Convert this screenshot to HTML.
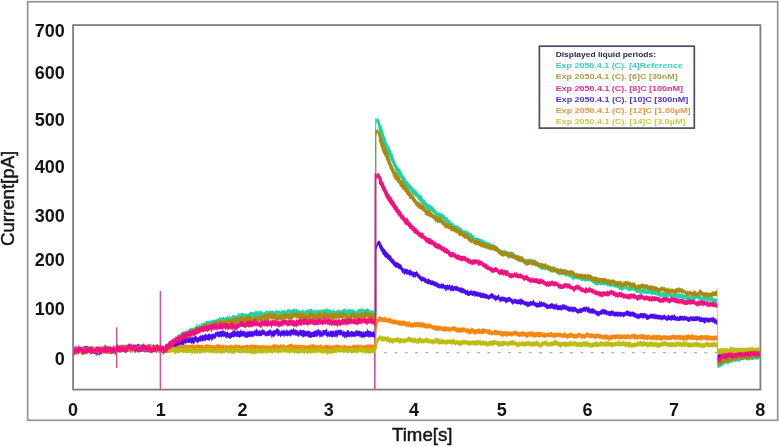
<!DOCTYPE html>
<html><head><meta charset="utf-8"><style>
html,body{margin:0;padding:0;background:#fff;}
body{width:779px;height:447px;overflow:hidden;}
svg{display:block;filter:blur(0.3px);}
.tk{font-family:"Liberation Sans",sans-serif;font-weight:bold;font-size:18px;fill:#141414;}
.ax{font-family:"Liberation Sans",sans-serif;font-size:19px;fill:#141414;stroke:#141414;stroke-width:0.45px;}
.lg{font-family:"Liberation Sans",sans-serif;font-weight:bold;font-size:7.3px;}
</style></head><body>
<svg width="779" height="447" viewBox="0 0 779 447">
<rect x="27.65" y="1.75" width="750.05" height="418.55" fill="none" stroke="#939393" stroke-width="1.7"/>
<rect x="73.1" y="25.1" width="687.3" height="364.5" fill="#fff" stroke="#7e7e7c" stroke-width="1.8"/>
<line x1="384.1" y1="352.6" x2="718" y2="352.6" stroke="#b0b0b0" stroke-width="1.2" stroke-dasharray="3 7.33"/>
<path d="M116.7,368 L116.7,327.3" stroke="#d0509a" stroke-width="1.5" fill="none"/><path d="M160.4,389 L160.4,291" stroke="#d0559c" stroke-width="1.5" fill="none"/><path d="M374.8,389 L375.2,173" stroke="#c8368e" stroke-width="1.4" fill="none"/><path d="M717.3,288.5 L717.3,368" stroke="#e6c4d2" stroke-width="1" fill="none"/>
<polygon fill="#22d2a6" points="73.6,346.3 74.1,346.6 74.6,347.3 75.1,347.2 75.6,346.8 76.1,345.7 76.6,347.1 77.1,347.5 77.6,347.9 78.1,346.3 78.6,348.3 79.1,347.2 79.6,347.6 80.1,347.6 80.6,346.4 81.1,346.4 81.6,346.6 82.1,347.5 82.6,347.9 83.1,346.7 83.6,347.0 84.1,347.0 84.6,346.7 85.1,346.4 85.6,346.4 86.1,347.1 86.6,347.0 87.1,346.5 87.6,346.6 88.1,346.5 88.6,347.7 89.1,346.7 89.6,347.8 90.1,347.9 90.6,347.6 91.1,347.4 91.6,346.3 92.1,348.0 92.6,345.2 93.1,346.9 93.6,346.4 94.1,346.8 94.6,347.0 95.1,345.3 95.6,347.3 96.1,347.6 96.6,346.6 97.1,346.5 97.6,347.3 98.1,346.7 98.6,347.6 99.1,347.1 99.6,344.8 100.1,346.9 100.6,346.9 101.1,346.5 101.6,346.4 102.1,346.1 102.6,346.2 103.1,346.6 103.6,347.1 104.1,347.6 104.6,348.0 105.1,345.2 105.6,347.0 106.1,346.8 106.6,346.1 107.1,347.7 107.6,347.0 108.1,347.1 108.6,347.5 109.1,346.9 109.6,346.3 110.1,346.0 110.6,347.6 111.1,346.7 111.6,348.4 112.1,347.0 112.6,346.8 113.1,346.9 113.6,347.8 114.1,348.2 114.6,346.9 115.1,346.8 115.6,347.7 116.1,344.6 116.6,344.2 117.1,346.7 117.6,346.1 118.1,345.1 118.6,347.2 119.1,344.8 119.6,346.3 120.1,347.5 120.6,346.6 121.1,347.5 121.6,346.8 122.1,346.2 122.6,344.6 123.1,347.4 123.6,346.8 124.1,347.7 124.6,346.8 125.1,346.2 125.6,344.8 126.1,347.1 126.6,347.0 127.1,345.8 127.6,346.1 128.1,344.6 128.6,345.1 129.1,344.9 129.6,346.2 130.1,344.0 130.6,343.1 131.1,345.7 131.6,345.2 132.1,345.4 132.6,345.4 133.1,343.8 133.6,343.8 134.1,344.9 134.6,345.2 135.1,343.2 135.6,345.0 136.1,344.5 136.6,345.4 137.1,344.0 137.6,346.0 138.1,345.2 138.6,344.0 139.1,345.0 139.6,346.0 140.1,345.6 140.6,345.9 141.1,347.3 141.6,345.8 142.1,346.3 142.6,344.8 143.1,344.9 143.6,342.4 144.1,345.1 144.6,345.4 145.1,346.3 145.6,344.9 146.1,344.3 146.6,345.2 147.1,345.3 147.6,343.0 148.1,344.2 148.6,344.3 149.1,345.0 149.6,344.1 150.1,344.5 150.6,345.5 151.1,346.8 151.6,346.3 152.1,345.5 152.6,346.7 153.1,346.0 153.6,346.2 154.1,344.6 154.6,345.4 155.1,345.0 155.6,345.7 156.1,346.4 156.6,346.0 157.1,344.3 157.6,344.5 158.1,345.8 158.6,345.9 159.1,346.1 159.6,346.9 160.1,345.2 160.6,346.6 161.1,348.0 161.6,347.4 162.1,346.8 162.6,345.4 163.1,345.6 163.6,346.3 164.1,346.7 164.6,346.1 165.1,346.0 165.6,343.9 166.1,346.2 166.6,342.7 167.1,345.0 167.6,343.7 168.1,343.6 168.6,342.7 169.1,343.4 169.6,342.0 170.1,342.8 170.6,342.1 171.1,340.4 171.6,340.9 172.1,338.7 172.6,340.6 173.1,339.7 173.6,338.8 174.1,339.0 174.6,338.9 175.1,336.5 175.6,335.8 176.1,337.1 176.6,337.3 177.1,335.9 177.6,335.2 178.1,334.8 178.6,333.2 179.1,334.9 179.6,335.4 180.1,332.5 180.6,333.8 181.1,333.9 181.6,332.0 182.1,331.6 182.6,332.7 183.1,331.8 183.6,330.7 184.1,332.6 184.6,330.8 185.1,330.9 185.6,331.4 186.1,331.1 186.6,331.5 187.1,329.7 187.6,330.4 188.1,329.6 188.6,329.8 189.1,328.8 189.6,328.8 190.1,327.8 190.6,327.5 191.1,327.5 191.6,328.3 192.1,328.6 192.6,327.2 193.1,328.1 193.6,328.1 194.1,327.4 194.6,327.0 195.1,326.0 195.6,326.8 196.1,326.4 196.6,321.7 197.1,326.0 197.6,325.5 198.1,324.7 198.6,324.4 199.1,324.8 199.6,324.6 200.1,324.7 200.6,325.0 201.1,323.3 201.6,322.1 202.1,323.8 202.6,323.9 203.1,322.9 203.6,323.0 204.1,320.5 204.6,322.3 205.1,323.1 205.6,322.2 206.1,320.5 206.6,320.9 207.1,321.0 207.6,321.3 208.1,321.3 208.6,321.2 209.1,320.9 209.6,320.6 210.1,320.7 210.6,320.6 211.1,320.3 211.6,320.4 212.1,320.1 212.6,320.5 213.1,319.9 213.6,319.5 214.1,319.4 214.6,318.8 215.1,320.6 215.6,319.9 216.1,320.1 216.6,318.9 217.1,317.8 217.6,318.9 218.1,318.2 218.6,318.8 219.1,317.5 219.6,316.2 220.1,316.8 220.6,318.9 221.1,317.1 221.6,317.5 222.1,317.2 222.6,317.6 223.1,317.5 223.6,315.6 224.1,318.2 224.6,317.8 225.1,317.4 225.6,317.1 226.1,317.3 226.6,317.1 227.1,315.2 227.6,315.5 228.1,318.0 228.6,317.1 229.1,316.7 229.6,314.8 230.1,317.1 230.6,315.9 231.1,316.8 231.6,317.2 232.1,316.2 232.6,314.7 233.1,315.3 233.6,314.6 234.1,315.8 234.6,314.9 235.1,315.9 235.6,314.7 236.1,315.7 236.6,315.7 237.1,314.9 237.6,314.8 238.1,314.0 238.6,312.9 239.1,312.9 239.6,314.3 240.1,314.5 240.6,312.7 241.1,313.4 241.6,313.1 242.1,313.1 242.6,312.6 243.1,313.6 243.6,313.3 244.1,312.6 244.6,314.5 245.1,313.3 245.6,313.3 246.1,313.6 246.6,313.9 247.1,313.5 247.6,314.3 248.1,314.4 248.6,312.8 249.1,313.3 249.6,312.5 250.1,311.2 250.6,312.3 251.1,311.0 251.6,313.0 252.1,311.4 252.6,311.7 253.1,312.4 253.6,311.2 254.1,312.4 254.6,311.9 255.1,310.0 255.6,311.7 256.1,310.1 256.6,311.3 257.1,311.7 257.6,311.3 258.1,310.8 258.6,311.3 259.1,311.0 259.6,312.8 260.1,311.5 260.6,309.7 261.1,310.3 261.6,311.5 262.1,311.5 262.6,312.0 263.1,312.9 263.6,311.8 264.1,311.7 264.6,312.2 265.1,311.4 265.6,311.4 266.1,310.2 266.6,310.3 267.1,310.8 267.6,311.1 268.1,311.3 268.6,311.1 269.1,310.3 269.6,311.3 270.1,310.6 270.6,310.7 271.1,310.8 271.6,311.1 272.1,310.5 272.6,311.2 273.1,310.7 273.6,310.6 274.1,311.5 274.6,312.0 275.1,311.0 275.6,310.3 276.1,310.8 276.6,309.8 277.1,309.8 277.6,311.0 278.1,309.8 278.6,311.0 279.1,311.2 279.6,309.8 280.1,311.0 280.6,311.9 281.1,310.8 281.6,308.7 282.1,310.2 282.6,311.2 283.1,310.5 283.6,309.9 284.1,310.3 284.6,310.1 285.1,310.2 285.6,310.7 286.1,311.1 286.6,310.6 287.1,310.1 287.6,309.0 288.1,309.1 288.6,309.9 289.1,307.4 289.6,309.5 290.1,310.5 290.6,308.7 291.1,309.7 291.6,309.7 292.1,309.7 292.6,308.7 293.1,308.5 293.6,308.9 294.1,308.0 294.6,308.6 295.1,310.3 295.6,309.5 296.1,309.2 296.6,309.0 297.1,308.4 297.6,309.5 298.1,309.8 298.6,310.4 299.1,310.3 299.6,310.1 300.1,310.6 300.6,311.1 301.1,310.4 301.6,311.0 302.1,310.3 302.6,308.3 303.1,310.6 303.6,310.3 304.1,311.1 304.6,311.4 305.1,310.5 305.6,311.3 306.1,309.9 306.6,309.6 307.1,309.9 307.6,309.3 308.1,308.1 308.6,310.2 309.1,309.2 309.6,309.2 310.1,309.1 310.6,308.9 311.1,308.7 311.6,308.9 312.1,308.8 312.6,310.2 313.1,310.6 313.6,310.6 314.1,309.0 314.6,310.7 315.1,309.6 315.6,309.9 316.1,311.4 316.6,309.3 317.1,310.3 317.6,310.0 318.1,310.0 318.6,309.6 319.1,309.2 319.6,310.6 320.1,310.9 320.6,308.8 321.1,310.0 321.6,309.2 322.1,310.2 322.6,309.8 323.1,310.5 323.6,308.8 324.1,309.3 324.6,308.8 325.1,309.2 325.6,309.7 326.1,307.7 326.6,309.8 327.1,307.7 327.6,308.7 328.1,309.2 328.6,308.7 329.1,309.6 329.6,309.4 330.1,308.6 330.6,309.7 331.1,310.7 331.6,309.8 332.1,310.3 332.6,310.7 333.1,310.2 333.6,308.5 334.1,309.9 334.6,310.4 335.1,311.5 335.6,310.8 336.1,310.6 336.6,310.2 337.1,310.3 337.6,309.8 338.1,309.5 338.6,310.6 339.1,310.3 339.6,308.6 340.1,310.7 340.6,310.9 341.1,309.4 341.6,310.6 342.1,310.5 342.6,309.2 343.1,308.9 343.6,309.3 344.1,309.0 344.6,308.7 345.1,307.6 345.6,309.1 346.1,310.4 346.6,310.2 347.1,309.6 347.6,308.5 348.1,309.0 348.6,309.4 349.1,310.2 349.6,308.7 350.1,308.6 350.6,309.0 351.1,308.3 351.6,309.9 352.1,309.5 352.6,308.9 353.1,308.9 353.6,309.8 354.1,310.6 354.6,309.7 355.1,311.0 355.6,310.9 356.1,311.3 356.6,310.8 357.1,311.1 357.6,309.1 358.1,309.4 358.6,309.0 359.1,309.6 359.6,307.7 360.1,309.8 360.6,308.8 361.1,306.6 361.6,308.7 362.1,308.8 362.6,308.4 363.1,310.0 363.6,307.9 364.1,309.7 364.6,308.7 365.1,309.8 365.6,308.7 366.1,309.4 366.6,308.3 367.1,308.7 367.6,307.7 368.1,309.6 368.6,308.6 369.1,309.2 369.6,310.7 370.1,309.4 370.6,310.5 371.1,311.0 371.6,309.9 372.1,310.0 372.6,310.4 373.1,309.3 373.6,311.2 374.1,310.6 374.6,311.3 375.1,310.4 375.6,310.4 376.1,119.5 376.6,119.0 377.1,116.3 377.6,118.6 378.1,119.6 378.6,118.4 379.1,120.0 379.6,121.1 380.1,123.4 380.6,124.1 381.1,125.1 381.6,126.5 382.1,127.2 382.6,129.3 383.1,130.9 383.6,132.2 384.1,134.7 384.6,136.1 385.1,138.0 385.6,138.1 386.1,139.2 386.6,142.0 387.1,142.6 387.6,143.7 388.1,144.9 388.6,145.9 389.1,146.6 389.6,147.0 390.1,148.7 390.6,149.6 391.1,151.0 391.6,152.4 392.1,153.8 392.6,153.4 393.1,156.5 393.6,157.6 394.1,158.8 394.6,159.6 395.1,161.9 395.6,162.2 396.1,163.6 396.6,164.9 397.1,166.1 397.6,166.3 398.1,167.5 398.6,167.4 399.1,168.4 399.6,168.4 400.1,169.1 400.6,170.2 401.1,171.6 401.6,172.7 402.1,172.8 402.6,174.3 403.1,174.9 403.6,176.0 404.1,176.5 404.6,177.5 405.1,177.3 405.6,178.5 406.1,179.9 406.6,180.7 407.1,181.0 407.6,181.8 408.1,181.3 408.6,182.8 409.1,183.0 409.6,184.0 410.1,184.4 410.6,185.0 411.1,185.8 411.6,185.6 412.1,187.1 412.6,187.2 413.1,188.3 413.6,188.8 414.1,187.1 414.6,189.3 415.1,190.5 415.6,189.4 416.1,190.1 416.6,191.0 417.1,191.8 417.6,192.3 418.1,193.3 418.6,193.3 419.1,194.3 419.6,195.0 420.1,195.0 420.6,195.1 421.1,194.6 421.6,195.8 422.1,196.6 422.6,197.9 423.1,198.5 423.6,198.9 424.1,200.0 424.6,199.2 425.1,199.7 425.6,201.9 426.1,201.7 426.6,202.8 427.1,203.2 427.6,203.8 428.1,203.9 428.6,203.9 429.1,204.3 429.6,204.4 430.1,205.4 430.6,204.2 431.1,205.5 431.6,205.5 432.1,206.8 432.6,206.1 433.1,207.1 433.6,207.5 434.1,208.2 434.6,208.6 435.1,210.4 435.6,209.6 436.1,209.8 436.6,211.6 437.1,211.2 437.6,212.4 438.1,213.0 438.6,211.8 439.1,212.6 439.6,212.4 440.1,213.3 440.6,213.1 441.1,213.5 441.6,213.8 442.1,213.5 442.6,213.4 443.1,214.2 443.6,215.0 444.1,214.8 444.6,215.2 445.1,216.9 445.6,217.2 446.1,217.0 446.6,217.4 447.1,217.4 447.6,218.0 448.1,219.3 448.6,219.2 449.1,219.6 449.6,220.3 450.1,219.9 450.6,221.0 451.1,222.8 451.6,221.9 452.1,222.9 452.6,222.8 453.1,222.3 453.6,223.3 454.1,224.9 454.6,224.7 455.1,224.8 455.6,224.9 456.1,225.4 456.6,224.8 457.1,225.5 457.6,226.2 458.1,226.3 458.6,225.8 459.1,226.8 459.6,227.5 460.1,227.1 460.6,228.3 461.1,227.8 461.6,227.8 462.1,228.9 462.6,229.8 463.1,230.4 463.6,230.1 464.1,230.3 464.6,230.2 465.1,229.9 465.6,231.2 466.1,230.9 466.6,230.2 467.1,230.3 467.6,231.0 468.1,232.1 468.6,232.2 469.1,232.7 469.6,232.7 470.1,233.3 470.6,233.5 471.1,232.8 471.6,233.1 472.1,234.7 472.6,235.1 473.1,234.6 473.6,235.6 474.1,236.5 474.6,237.3 475.1,237.5 475.6,237.1 476.1,237.4 476.6,237.9 477.1,237.8 477.6,238.2 478.1,237.7 478.6,237.5 479.1,238.8 479.6,239.1 480.1,238.7 480.6,239.3 481.1,239.1 481.6,238.7 482.1,239.9 482.6,239.5 483.1,239.7 483.6,240.5 484.1,240.6 484.6,240.8 485.1,241.2 485.6,241.3 486.1,241.5 486.6,242.3 487.1,241.9 487.6,241.7 488.1,242.8 488.6,242.8 489.1,241.4 489.6,242.5 490.1,243.4 490.6,243.0 491.1,243.6 491.6,244.1 492.1,244.4 492.6,244.7 493.1,245.4 493.6,244.0 494.1,244.5 494.6,246.0 495.1,246.3 495.6,245.9 496.1,245.9 496.6,246.5 497.1,246.0 497.6,246.4 498.1,247.2 498.6,248.5 499.1,248.7 499.6,248.8 500.1,248.8 500.6,249.8 501.1,249.6 501.6,250.8 502.1,250.2 502.6,250.1 503.1,250.8 503.6,250.5 504.1,249.0 504.6,250.6 505.1,250.9 505.6,250.9 506.1,250.1 506.6,251.4 507.1,251.1 507.6,251.9 508.1,250.8 508.6,252.2 509.1,251.9 509.6,251.7 510.1,252.1 510.6,252.3 511.1,252.0 511.6,252.5 512.1,252.3 512.6,251.9 513.1,252.0 513.6,252.1 514.1,253.4 514.6,253.8 515.1,254.5 515.6,254.1 516.1,255.4 516.6,254.9 517.1,255.3 517.6,255.3 518.1,255.6 518.6,255.7 519.1,255.7 519.6,255.4 520.1,256.8 520.6,256.3 521.1,257.1 521.6,256.0 522.1,256.3 522.6,257.2 523.1,258.4 523.6,257.9 524.1,258.8 524.6,258.4 525.1,259.8 525.6,258.9 526.1,259.1 526.6,259.8 527.1,258.6 527.6,259.4 528.1,259.3 528.6,259.0 529.1,259.4 529.6,258.5 530.1,258.3 530.6,258.5 531.1,258.9 531.6,258.5 532.1,259.8 532.6,259.8 533.1,260.1 533.6,258.7 534.1,259.2 534.6,259.8 535.1,260.0 535.6,260.1 536.1,260.6 536.6,261.4 537.1,262.1 537.6,261.9 538.1,262.8 538.6,262.5 539.1,262.8 539.6,262.9 540.1,263.5 540.6,264.7 541.1,264.4 541.6,264.4 542.1,264.7 542.6,265.2 543.1,263.9 543.6,265.7 544.1,265.1 544.6,264.7 545.1,265.3 545.6,265.5 546.1,264.5 546.6,265.8 547.1,265.2 547.6,265.1 548.1,265.2 548.6,265.9 549.1,265.8 549.6,266.9 550.1,266.0 550.6,266.4 551.1,266.3 551.6,267.5 552.1,267.6 552.6,267.6 553.1,267.2 553.6,267.0 554.1,265.8 554.6,266.9 555.1,267.4 555.6,266.9 556.1,268.3 556.6,268.4 557.1,268.8 557.6,268.5 558.1,269.8 558.6,270.2 559.1,269.9 559.6,269.7 560.1,270.2 560.6,268.9 561.1,269.4 561.6,268.9 562.1,269.1 562.6,269.6 563.1,268.8 563.6,268.7 564.1,268.7 564.6,269.2 565.1,269.6 565.6,271.4 566.1,270.9 566.6,271.4 567.1,270.3 567.6,271.2 568.1,271.0 568.6,271.9 569.1,271.9 569.6,272.0 570.1,272.1 570.6,273.1 571.1,273.7 571.6,272.7 572.1,274.0 572.6,274.9 573.1,274.7 573.6,274.8 574.1,274.4 574.6,274.5 575.1,274.6 575.6,273.6 576.1,273.9 576.6,274.6 577.1,272.3 577.6,273.5 578.1,273.7 578.6,274.9 579.1,274.9 579.6,275.1 580.1,275.1 580.6,275.6 581.1,275.7 581.6,276.0 582.1,275.5 582.6,275.5 583.1,275.6 583.6,275.7 584.1,277.1 584.6,276.2 585.1,277.0 585.6,276.2 586.1,276.5 586.6,276.6 587.1,276.4 587.6,274.0 588.1,275.8 588.6,276.0 589.1,275.6 589.6,276.1 590.1,276.7 590.6,277.0 591.1,276.6 591.6,276.7 592.1,276.7 592.6,278.5 593.1,278.2 593.6,277.6 594.1,279.7 594.6,279.1 595.1,279.7 595.6,280.5 596.1,280.2 596.6,280.0 597.1,280.7 597.6,280.4 598.1,279.9 598.6,279.4 599.1,279.6 599.6,279.5 600.1,279.9 600.6,280.0 601.1,280.1 601.6,280.7 602.1,280.2 602.6,280.8 603.1,280.1 603.6,280.5 604.1,281.0 604.6,280.6 605.1,279.3 605.6,280.6 606.1,280.4 606.6,280.2 607.1,281.1 607.6,281.0 608.1,281.4 608.6,281.0 609.1,281.9 609.6,280.7 610.1,281.2 610.6,281.9 611.1,281.4 611.6,281.4 612.1,281.6 612.6,282.1 613.1,280.7 613.6,282.1 614.1,281.7 614.6,282.9 615.1,281.0 615.6,282.6 616.1,282.6 616.6,282.9 617.1,283.0 617.6,282.9 618.1,283.8 618.6,284.4 619.1,284.1 619.6,285.7 620.1,284.8 620.6,284.9 621.1,285.1 621.6,285.8 622.1,285.9 622.6,285.6 623.1,285.2 623.6,284.9 624.1,283.8 624.6,284.6 625.1,282.5 625.6,284.1 626.1,285.3 626.6,285.1 627.1,284.4 627.6,285.4 628.1,286.3 628.6,286.8 629.1,286.5 629.6,286.5 630.1,286.7 630.6,286.6 631.1,286.4 631.6,286.2 632.1,286.0 632.6,285.3 633.1,286.2 633.6,286.7 634.1,285.7 634.6,286.2 635.1,286.5 635.6,287.3 636.1,287.4 636.6,287.1 637.1,287.0 637.6,288.2 638.1,287.9 638.6,287.1 639.1,288.7 639.6,288.6 640.1,289.7 640.6,289.2 641.1,289.4 641.6,288.9 642.1,288.6 642.6,288.5 643.1,288.4 643.6,288.9 644.1,288.4 644.6,289.5 645.1,289.3 645.6,289.8 646.1,289.6 646.6,289.3 647.1,289.0 647.6,289.4 648.1,289.0 648.6,288.2 649.1,288.8 649.6,289.4 650.1,288.7 650.6,288.8 651.1,289.5 651.6,289.9 652.1,290.3 652.6,289.7 653.1,289.1 653.6,290.1 654.1,289.9 654.6,289.7 655.1,290.6 655.6,290.2 656.1,290.4 656.6,291.4 657.1,290.2 657.6,290.6 658.1,290.6 658.6,291.8 659.1,291.9 659.6,292.0 660.1,291.3 660.6,292.4 661.1,291.8 661.6,291.9 662.1,292.7 662.6,291.4 663.1,292.2 663.6,291.9 664.1,292.3 664.6,292.3 665.1,291.6 665.6,292.8 666.1,292.5 666.6,292.1 667.1,292.1 667.6,292.0 668.1,291.5 668.6,291.7 669.1,292.4 669.6,292.6 670.1,293.1 670.6,293.7 671.1,292.6 671.6,293.3 672.1,294.0 672.6,292.4 673.1,292.5 673.6,293.9 674.1,292.7 674.6,293.0 675.1,293.0 675.6,293.0 676.1,293.4 676.6,292.7 677.1,293.6 677.6,293.3 678.1,293.7 678.6,293.5 679.1,293.3 679.6,293.6 680.1,293.1 680.6,293.6 681.1,294.4 681.6,294.2 682.1,294.1 682.6,293.5 683.1,294.3 683.6,294.3 684.1,293.6 684.6,294.9 685.1,294.9 685.6,295.1 686.1,295.2 686.6,294.5 687.1,295.5 687.6,295.5 688.1,296.0 688.6,296.2 689.1,296.3 689.6,296.0 690.1,296.2 690.6,296.2 691.1,296.6 691.6,295.5 692.1,296.0 692.6,295.4 693.1,295.7 693.6,296.1 694.1,294.8 694.6,294.6 695.1,294.9 695.6,294.3 696.1,294.0 696.6,293.5 697.1,293.9 697.6,293.7 698.1,293.6 698.6,294.5 699.1,294.1 699.6,295.4 700.1,295.2 700.6,295.1 701.1,296.7 701.6,296.3 702.1,296.7 702.6,296.5 703.1,296.3 703.6,296.9 704.1,296.3 704.6,296.1 705.1,295.6 705.6,295.7 706.1,295.0 706.6,296.7 707.1,296.3 707.6,296.8 708.1,297.0 708.6,297.4 709.1,296.2 709.6,296.3 710.1,295.7 710.6,296.5 711.1,296.9 711.6,295.9 712.1,297.6 712.6,296.3 713.1,297.3 713.6,298.3 714.1,297.9 714.6,298.8 715.1,298.4 715.6,298.5 716.1,298.2 716.6,298.9 717.1,297.9 717.6,363.1 718.1,362.3 718.6,362.5 719.1,362.5 719.6,361.5 720.1,361.9 720.6,362.1 721.1,361.4 721.6,362.0 722.1,361.0 722.6,360.3 723.1,360.3 723.6,359.6 724.1,360.1 724.6,359.5 725.1,358.9 725.6,358.7 726.1,358.5 726.6,358.5 727.1,359.2 727.6,358.5 728.1,358.9 728.6,358.2 729.1,357.4 729.6,359.3 730.1,358.4 730.6,358.0 731.1,357.2 731.6,357.6 732.1,356.7 732.6,357.7 733.1,357.3 733.6,356.5 734.1,357.1 734.6,357.2 735.1,356.9 735.6,357.3 736.1,357.1 736.6,357.0 737.1,357.3 737.6,356.4 738.1,356.1 738.6,356.2 739.1,355.7 739.6,356.3 740.1,356.3 740.6,355.9 741.1,356.1 741.6,354.8 742.1,355.7 742.6,355.2 743.1,354.6 743.6,354.1 744.1,355.0 744.6,354.6 745.1,354.9 745.6,355.1 746.1,354.2 746.6,355.1 747.1,355.3 747.6,355.3 748.1,356.2 748.6,356.0 749.1,355.5 749.6,355.8 750.1,355.5 750.6,354.0 751.1,355.5 751.6,354.9 752.1,354.5 752.6,354.8 753.1,354.8 753.6,355.2 754.1,355.1 754.6,355.0 755.1,354.4 755.6,355.0 756.1,354.7 756.6,355.7 757.1,355.6 757.6,355.5 758.1,354.8 758.6,353.9 759.1,354.4 759.6,354.4 759.6,359.8 759.1,359.1 758.6,359.2 758.1,358.9 757.6,359.6 757.1,359.6 756.6,360.2 756.1,360.0 755.6,359.2 755.1,359.5 754.6,359.3 754.1,359.3 753.6,360.4 753.1,359.8 752.6,360.5 752.1,359.6 751.6,360.8 751.1,359.5 750.6,359.5 750.1,359.7 749.6,360.4 749.1,360.6 748.6,360.4 748.1,360.3 747.6,359.8 747.1,360.0 746.6,360.9 746.1,359.6 745.6,359.7 745.1,360.1 744.6,359.3 744.1,359.2 743.6,360.7 743.1,359.4 742.6,359.4 742.1,360.1 741.6,360.0 741.1,361.1 740.6,360.7 740.1,360.2 739.6,362.5 739.1,361.7 738.6,361.7 738.1,361.1 737.6,361.4 737.1,361.9 736.6,361.6 736.1,361.2 735.6,362.7 735.1,361.4 734.6,361.7 734.1,361.3 733.6,361.7 733.1,361.9 732.6,363.2 732.1,361.9 731.6,361.9 731.1,361.8 730.6,362.3 730.1,363.1 729.6,363.5 729.1,363.2 728.6,364.3 728.1,364.4 727.6,364.7 727.1,363.8 726.6,364.1 726.1,362.6 725.6,364.0 725.1,364.3 724.6,364.2 724.1,364.5 723.6,364.6 723.1,365.7 722.6,365.4 722.1,366.4 721.6,366.6 721.1,366.6 720.6,367.3 720.1,366.7 719.6,367.7 719.1,367.6 718.6,367.6 718.1,368.3 717.6,367.2 717.1,304.1 716.6,304.1 716.1,302.6 715.6,303.8 715.1,303.6 714.6,303.1 714.1,302.8 713.6,303.9 713.1,302.1 712.6,302.5 712.1,302.0 711.6,301.6 711.1,301.6 710.6,301.8 710.1,301.0 709.6,301.5 709.1,301.2 708.6,302.3 708.1,301.5 707.6,302.3 707.1,302.2 706.6,300.6 706.1,301.1 705.6,300.3 705.1,300.8 704.6,300.9 704.1,301.9 703.6,301.5 703.1,300.9 702.6,300.7 702.1,301.7 701.6,300.7 701.1,301.9 700.6,301.4 700.1,299.7 699.6,300.3 699.1,300.0 698.6,299.8 698.1,299.0 697.6,298.3 697.1,298.2 696.6,298.9 696.1,298.7 695.6,298.9 695.1,300.1 694.6,300.2 694.1,301.0 693.6,300.6 693.1,299.6 692.6,300.7 692.1,300.3 691.6,300.2 691.1,300.6 690.6,301.1 690.1,300.2 689.6,300.6 689.1,301.8 688.6,300.6 688.1,300.6 687.6,300.0 687.1,299.6 686.6,300.2 686.1,301.8 685.6,299.3 685.1,298.9 684.6,299.7 684.1,298.8 683.6,301.0 683.1,298.5 682.6,298.0 682.1,298.5 681.6,299.4 681.1,298.3 680.6,298.5 680.1,298.1 679.6,298.4 679.1,299.2 678.6,298.0 678.1,298.4 677.6,298.1 677.1,299.1 676.6,297.5 676.1,297.7 675.6,299.0 675.1,297.9 674.6,297.5 674.1,297.9 673.6,298.6 673.1,299.1 672.6,297.7 672.1,298.3 671.6,298.6 671.1,298.0 670.6,298.1 670.1,297.9 669.6,296.7 669.1,296.6 668.6,296.7 668.1,296.9 667.6,296.7 667.1,297.1 666.6,297.9 666.1,297.1 665.6,297.8 665.1,297.2 664.6,296.3 664.1,296.8 663.6,296.7 663.1,296.5 662.6,296.7 662.1,297.6 661.6,296.9 661.1,297.1 660.6,297.6 660.1,297.9 659.6,296.2 659.1,296.6 658.6,296.3 658.1,295.9 657.6,295.9 657.1,295.4 656.6,295.4 656.1,295.1 655.6,294.7 655.1,295.9 654.6,294.6 654.1,294.9 653.6,294.6 653.1,294.9 652.6,294.8 652.1,294.4 651.6,295.8 651.1,294.5 650.6,294.3 650.1,293.9 649.6,294.3 649.1,293.0 648.6,294.1 648.1,294.2 647.6,294.0 647.1,293.5 646.6,294.6 646.1,293.9 645.6,293.8 645.1,293.6 644.6,294.3 644.1,293.5 643.6,294.1 643.1,293.1 642.6,293.2 642.1,293.5 641.6,293.5 641.1,293.6 640.6,294.4 640.1,294.0 639.6,293.8 639.1,293.3 638.6,292.4 638.1,293.5 637.6,292.5 637.1,294.1 636.6,292.7 636.1,292.1 635.6,292.8 635.1,291.0 634.6,291.5 634.1,290.8 633.6,291.1 633.1,290.1 632.6,290.2 632.1,290.5 631.6,290.4 631.1,290.6 630.6,290.9 630.1,290.8 629.6,292.0 629.1,290.9 628.6,290.6 628.1,290.9 627.6,290.4 627.1,289.4 626.6,289.6 626.1,289.5 625.6,289.3 625.1,288.7 624.6,289.2 624.1,288.9 623.6,289.8 623.1,289.4 622.6,290.4 622.1,291.1 621.6,290.9 621.1,289.9 620.6,288.9 620.1,291.3 619.6,290.2 619.1,289.8 618.6,288.8 618.1,288.1 617.6,287.7 617.1,287.7 616.6,287.6 616.1,288.3 615.6,287.2 615.1,287.4 614.6,287.8 614.1,287.1 613.6,286.2 613.1,286.5 612.6,287.3 612.1,286.5 611.6,286.0 611.1,286.9 610.6,287.5 610.1,286.0 609.6,286.6 609.1,286.3 608.6,286.1 608.1,286.6 607.6,286.7 607.1,285.5 606.6,285.0 606.1,286.0 605.6,285.3 605.1,285.2 604.6,284.9 604.1,285.5 603.6,285.2 603.1,285.4 602.6,284.8 602.1,285.4 601.6,285.2 601.1,285.1 600.6,284.7 600.1,285.5 599.6,284.1 599.1,284.6 598.6,285.2 598.1,284.7 597.6,285.4 597.1,285.4 596.6,285.9 596.1,284.8 595.6,285.6 595.1,285.1 594.6,283.9 594.1,284.6 593.6,283.5 593.1,283.2 592.6,282.8 592.1,282.9 591.6,281.8 591.1,281.5 590.6,281.4 590.1,281.3 589.6,281.4 589.1,281.4 588.6,280.7 588.1,281.1 587.6,281.3 587.1,281.2 586.6,281.1 586.1,281.3 585.6,281.2 585.1,282.1 584.6,281.4 584.1,280.9 583.6,280.7 583.1,280.6 582.6,280.8 582.1,281.5 581.6,281.3 581.1,280.9 580.6,280.3 580.1,279.5 579.6,279.3 579.1,279.4 578.6,280.4 578.1,279.0 577.6,278.8 577.1,278.9 576.6,279.1 576.1,279.7 575.6,278.8 575.1,279.3 574.6,278.9 574.1,280.1 573.6,279.3 573.1,280.3 572.6,280.5 572.1,279.1 571.6,278.0 571.1,278.2 570.6,277.4 570.1,277.7 569.6,277.8 569.1,276.5 568.6,277.5 568.1,275.8 567.6,277.4 567.1,275.6 566.6,276.2 566.1,275.9 565.6,277.1 565.1,276.0 564.6,274.9 564.1,274.9 563.6,274.3 563.1,275.4 562.6,275.0 562.1,274.2 561.6,274.8 561.1,274.9 560.6,274.6 560.1,274.8 559.6,275.2 559.1,275.8 558.6,274.3 558.1,274.4 557.6,274.4 557.1,274.4 556.6,272.5 556.1,273.2 555.6,271.8 555.1,272.2 554.6,271.5 554.1,272.1 553.6,271.3 553.1,273.0 552.6,272.3 552.1,273.0 551.6,271.8 551.1,272.4 550.6,272.6 550.1,272.2 549.6,271.3 549.1,271.1 548.6,271.6 548.1,271.1 547.6,270.4 547.1,269.6 546.6,270.1 546.1,269.7 545.6,269.9 545.1,270.8 544.6,269.5 544.1,270.0 543.6,270.1 543.1,269.0 542.6,269.8 542.1,270.2 541.6,269.5 541.1,269.7 540.6,269.0 540.1,269.2 539.6,267.7 539.1,268.9 538.6,267.6 538.1,267.0 537.6,267.4 537.1,266.5 536.6,265.5 536.1,266.4 535.6,265.8 535.1,264.7 534.6,264.4 534.1,265.1 533.6,263.9 533.1,264.2 532.6,263.9 532.1,264.6 531.6,264.8 531.1,263.7 530.6,263.6 530.1,263.3 529.6,263.8 529.1,263.9 528.6,263.5 528.1,263.9 527.6,263.9 527.1,264.2 526.6,264.9 526.1,264.4 525.6,264.0 525.1,264.2 524.6,263.2 524.1,263.4 523.6,263.6 523.1,262.5 522.6,262.2 522.1,261.8 521.6,261.7 521.1,261.8 520.6,261.7 520.1,261.2 519.6,261.3 519.1,261.6 518.6,261.4 518.1,260.6 517.6,260.4 517.1,261.2 516.6,259.9 516.1,260.2 515.6,259.4 515.1,260.3 514.6,258.6 514.1,257.9 513.6,258.4 513.1,258.3 512.6,257.8 512.1,257.2 511.6,257.5 511.1,256.7 510.6,257.9 510.1,257.3 509.6,256.8 509.1,257.9 508.6,257.8 508.1,256.1 507.6,256.6 507.1,256.7 506.6,256.4 506.1,256.1 505.6,256.8 505.1,255.5 504.6,255.0 504.1,255.9 503.6,255.5 503.1,255.9 502.6,255.4 502.1,254.9 501.6,255.4 501.1,255.1 500.6,254.2 500.1,255.0 499.6,254.7 499.1,253.9 498.6,253.8 498.1,252.3 497.6,251.6 497.1,251.6 496.6,251.3 496.1,251.4 495.6,250.8 495.1,251.9 494.6,250.8 494.1,250.8 493.6,250.6 493.1,250.2 492.6,249.2 492.1,250.8 491.6,249.2 491.1,249.3 490.6,249.7 490.1,248.4 489.6,247.5 489.1,248.2 488.6,248.9 488.1,247.6 487.6,246.7 487.1,246.9 486.6,247.9 486.1,246.0 485.6,247.5 485.1,246.0 484.6,245.6 484.1,245.4 483.6,244.8 483.1,244.9 482.6,244.0 482.1,245.0 481.6,244.2 481.1,243.5 480.6,244.2 480.1,243.1 479.6,243.6 479.1,244.2 478.6,243.0 478.1,243.3 477.6,243.1 477.1,242.8 476.6,243.3 476.1,242.3 475.6,242.6 475.1,242.6 474.6,242.2 474.1,241.9 473.6,241.4 473.1,240.9 472.6,239.4 472.1,239.4 471.6,238.9 471.1,238.3 470.6,239.7 470.1,238.7 469.6,237.5 469.1,237.6 468.6,236.9 468.1,238.0 467.6,236.5 467.1,236.2 466.6,236.1 466.1,237.1 465.6,236.3 465.1,236.3 464.6,235.8 464.1,235.7 463.6,236.5 463.1,235.6 462.6,235.0 462.1,234.4 461.6,234.2 461.1,233.6 460.6,233.7 460.1,233.4 459.6,233.3 459.1,231.9 458.6,231.5 458.1,231.6 457.6,231.1 457.1,230.4 456.6,230.8 456.1,230.1 455.6,229.9 455.1,229.5 454.6,230.5 454.1,230.3 453.6,229.6 453.1,228.8 452.6,228.5 452.1,227.9 451.6,227.7 451.1,228.1 450.6,225.8 450.1,226.1 449.6,225.5 449.1,225.4 448.6,224.7 448.1,224.8 447.6,224.0 447.1,223.9 446.6,223.2 446.1,222.4 445.6,221.9 445.1,223.2 444.6,221.3 444.1,219.9 443.6,220.8 443.1,219.8 442.6,218.8 442.1,218.8 441.6,219.0 441.1,218.9 440.6,219.9 440.1,218.6 439.6,218.2 439.1,218.0 438.6,217.9 438.1,218.8 437.6,217.9 437.1,216.9 436.6,216.9 436.1,217.3 435.6,216.0 435.1,215.7 434.6,214.4 434.1,213.5 433.6,212.7 433.1,213.1 432.6,212.3 432.1,213.0 431.6,211.9 431.1,211.1 430.6,211.1 430.1,211.9 429.6,210.6 429.1,211.2 428.6,210.3 428.1,210.3 427.6,209.3 427.1,208.8 426.6,208.7 426.1,209.2 425.6,208.2 425.1,207.3 424.6,206.3 424.1,206.0 423.6,204.7 423.1,205.9 422.6,204.5 422.1,203.2 421.6,203.0 421.1,201.4 420.6,202.1 420.1,201.9 419.6,201.5 419.1,200.5 418.6,199.5 418.1,200.2 417.6,198.6 417.1,197.8 416.6,196.9 416.1,197.2 415.6,196.5 415.1,196.7 414.6,195.8 414.1,194.9 413.6,195.6 413.1,194.1 412.6,193.5 412.1,194.2 411.6,192.9 411.1,192.5 410.6,191.7 410.1,193.0 409.6,190.5 409.1,189.9 408.6,190.8 408.1,188.9 407.6,188.6 407.1,188.0 406.6,187.1 406.1,187.0 405.6,186.3 405.1,184.9 404.6,185.1 404.1,183.9 403.6,183.4 403.1,182.6 402.6,181.3 402.1,181.9 401.6,180.1 401.1,178.6 400.6,178.3 400.1,178.1 399.6,177.5 399.1,176.5 398.6,175.6 398.1,175.2 397.6,175.0 397.1,174.6 396.6,173.1 396.1,171.7 395.6,170.5 395.1,170.6 394.6,168.3 394.1,167.6 393.6,166.4 393.1,165.0 392.6,164.0 392.1,163.1 391.6,162.1 391.1,160.8 390.6,160.8 390.1,158.6 389.6,157.1 389.1,157.0 388.6,155.7 388.1,155.4 387.6,154.1 387.1,152.9 386.6,151.9 386.1,150.8 385.6,151.0 385.1,148.9 384.6,147.5 384.1,147.2 383.6,144.9 383.1,143.4 382.6,141.7 382.1,141.6 381.6,138.3 381.1,137.8 380.6,135.7 380.1,135.0 379.6,133.1 379.1,131.9 378.6,130.0 378.1,125.8 377.6,124.7 377.1,121.8 376.6,122.9 376.1,124.3 375.6,315.8 375.1,316.0 374.6,316.7 374.1,315.4 373.6,316.1 373.1,317.7 372.6,315.2 372.1,315.6 371.6,315.7 371.1,315.8 370.6,316.1 370.1,314.6 369.6,315.4 369.1,314.5 368.6,315.9 368.1,315.1 367.6,315.8 367.1,314.4 366.6,313.9 366.1,314.8 365.6,314.1 365.1,314.1 364.6,314.6 364.1,314.2 363.6,314.1 363.1,315.3 362.6,313.9 362.1,315.2 361.6,313.4 361.1,313.9 360.6,313.9 360.1,314.9 359.6,313.7 359.1,315.7 358.6,315.5 358.1,315.2 357.6,315.6 357.1,316.0 356.6,317.4 356.1,317.7 355.6,317.2 355.1,315.6 354.6,315.8 354.1,315.8 353.6,315.7 353.1,315.5 352.6,315.8 352.1,314.6 351.6,316.3 351.1,314.6 350.6,315.6 350.1,315.4 349.6,315.4 349.1,315.1 348.6,314.0 348.1,314.6 347.6,315.2 347.1,315.3 346.6,315.5 346.1,315.2 345.6,315.2 345.1,316.7 344.6,314.3 344.1,314.3 343.6,317.0 343.1,314.9 342.6,314.6 342.1,316.6 341.6,315.9 341.1,314.4 340.6,317.0 340.1,316.0 339.6,315.4 339.1,316.2 338.6,315.1 338.1,316.3 337.6,315.8 337.1,316.5 336.6,315.3 336.1,316.5 335.6,315.4 335.1,317.0 334.6,315.8 334.1,315.3 333.6,316.4 333.1,317.1 332.6,315.2 332.1,316.1 331.6,314.9 331.1,316.1 330.6,314.4 330.1,315.1 329.6,315.2 329.1,315.6 328.6,315.3 328.1,314.6 327.6,316.6 327.1,315.6 326.6,314.4 326.1,313.1 325.6,317.6 325.1,314.6 324.6,314.4 324.1,314.6 323.6,315.1 323.1,315.1 322.6,316.1 322.1,315.1 321.6,316.2 321.1,315.9 320.6,317.8 320.1,316.0 319.6,315.4 319.1,316.2 318.6,316.8 318.1,315.1 317.6,314.7 317.1,315.3 316.6,314.9 316.1,316.4 315.6,317.7 315.1,315.9 314.6,315.4 314.1,315.8 313.6,315.9 313.1,315.5 312.6,315.2 312.1,315.0 311.6,314.3 311.1,316.0 310.6,315.2 310.1,314.1 309.6,314.7 309.1,314.4 308.6,314.7 308.1,317.0 307.6,315.5 307.1,317.5 306.6,315.4 306.1,316.7 305.6,316.8 305.1,316.0 304.6,316.0 304.1,317.0 303.6,314.6 303.1,316.3 302.6,315.7 302.1,315.3 301.6,315.8 301.1,316.3 300.6,317.0 300.1,315.3 299.6,317.8 299.1,316.4 298.6,315.6 298.1,315.9 297.6,314.5 297.1,314.4 296.6,316.1 296.1,315.1 295.6,315.3 295.1,315.9 294.6,315.6 294.1,318.0 293.6,314.6 293.1,315.1 292.6,314.6 292.1,314.6 291.6,314.5 291.1,315.3 290.6,315.3 290.1,315.2 289.6,315.4 289.1,315.5 288.6,315.9 288.1,316.1 287.6,315.4 287.1,315.2 286.6,315.4 286.1,316.4 285.6,316.0 285.1,316.7 284.6,314.6 284.1,316.5 283.6,315.5 283.1,316.1 282.6,317.1 282.1,316.0 281.6,316.9 281.1,316.1 280.6,317.1 280.1,316.5 279.6,318.3 279.1,317.2 278.6,316.4 278.1,316.2 277.6,316.5 277.1,316.6 276.6,315.6 276.1,316.8 275.6,316.5 275.1,317.2 274.6,316.4 274.1,316.2 273.6,318.0 273.1,317.8 272.6,317.5 272.1,315.5 271.6,315.6 271.1,316.7 270.6,316.6 270.1,316.1 269.6,316.6 269.1,316.4 268.6,316.0 268.1,317.6 267.6,317.6 267.1,316.0 266.6,317.6 266.1,316.9 265.6,316.7 265.1,317.8 264.6,317.3 264.1,317.9 263.6,318.9 263.1,318.8 262.6,317.1 262.1,317.4 261.6,317.5 261.1,316.3 260.6,317.8 260.1,316.8 259.6,318.2 259.1,318.4 258.6,316.5 258.1,316.8 257.6,317.3 257.1,320.3 256.6,317.0 256.1,316.7 255.6,318.0 255.1,317.2 254.6,318.3 254.1,318.2 253.6,317.9 253.1,317.1 252.6,319.2 252.1,318.2 251.6,319.9 251.1,318.5 250.6,318.4 250.1,318.5 249.6,318.7 249.1,319.1 248.6,318.6 248.1,319.1 247.6,319.9 247.1,320.1 246.6,319.2 246.1,320.2 245.6,319.1 245.1,319.2 244.6,319.7 244.1,320.1 243.6,318.5 243.1,318.5 242.6,318.5 242.1,319.2 241.6,320.4 241.1,319.7 240.6,317.7 240.1,320.4 239.6,319.9 239.1,319.0 238.6,320.6 238.1,319.6 237.6,319.7 237.1,320.6 236.6,321.0 236.1,321.0 235.6,319.5 235.1,321.5 234.6,320.4 234.1,321.4 233.6,320.9 233.1,320.6 232.6,323.2 232.1,321.9 231.6,322.9 231.1,324.4 230.6,324.2 230.1,324.3 229.6,321.7 229.1,323.5 228.6,323.7 228.1,323.5 227.6,321.4 227.1,320.9 226.6,322.7 226.1,323.3 225.6,322.1 225.1,323.0 224.6,322.2 224.1,323.2 223.6,322.9 223.1,322.5 222.6,323.6 222.1,323.1 221.6,323.3 221.1,323.9 220.6,325.2 220.1,323.8 219.6,322.9 219.1,325.1 218.6,323.7 218.1,323.8 217.6,325.7 217.1,325.2 216.6,325.0 216.1,325.2 215.6,325.4 215.1,325.9 214.6,323.9 214.1,327.1 213.6,324.5 213.1,326.0 212.6,325.6 212.1,325.3 211.6,325.9 211.1,326.2 210.6,327.3 210.1,327.3 209.6,325.8 209.1,326.7 208.6,326.2 208.1,326.8 207.6,326.1 207.1,327.6 206.6,328.7 206.1,327.7 205.6,327.6 205.1,328.9 204.6,331.6 204.1,329.1 203.6,330.1 203.1,330.3 202.6,329.3 202.1,330.1 201.6,329.7 201.1,329.6 200.6,330.1 200.1,330.9 199.6,330.6 199.1,329.7 198.6,330.3 198.1,330.5 197.6,330.6 197.1,332.1 196.6,330.5 196.1,331.2 195.6,332.7 195.1,332.1 194.6,333.2 194.1,334.8 193.6,334.2 193.1,333.4 192.6,335.2 192.1,334.5 191.6,333.3 191.1,333.3 190.6,333.9 190.1,333.7 189.6,334.0 189.1,335.6 188.6,337.2 188.1,335.7 187.6,336.4 187.1,337.4 186.6,337.1 186.1,338.5 185.6,337.6 185.1,339.5 184.6,338.2 184.1,339.0 183.6,337.9 183.1,338.7 182.6,338.7 182.1,338.8 181.6,341.0 181.1,339.5 180.6,339.6 180.1,340.1 179.6,341.5 179.1,341.5 178.6,342.3 178.1,343.0 177.6,342.4 177.1,342.2 176.6,343.2 176.1,343.9 175.6,344.5 175.1,344.5 174.6,345.4 174.1,344.5 173.6,346.3 173.1,345.6 172.6,348.2 172.1,346.6 171.6,346.9 171.1,350.0 170.6,349.1 170.1,349.4 169.6,349.5 169.1,349.5 168.6,350.2 168.1,350.5 167.6,351.9 167.1,351.3 166.6,351.8 166.1,353.7 165.6,351.8 165.1,351.9 164.6,351.2 164.1,352.0 163.6,351.6 163.1,352.2 162.6,352.0 162.1,351.4 161.6,352.8 161.1,352.9 160.6,354.6 160.1,354.1 159.6,353.2 159.1,352.9 158.6,351.5 158.1,352.4 157.6,351.1 157.1,352.1 156.6,350.9 156.1,352.6 155.6,351.1 155.1,351.6 154.6,351.5 154.1,352.0 153.6,352.6 153.1,352.1 152.6,352.0 152.1,351.8 151.6,351.5 151.1,351.7 150.6,353.1 150.1,351.5 149.6,351.1 149.1,349.4 148.6,350.2 148.1,350.7 147.6,348.7 147.1,351.1 146.6,350.3 146.1,350.1 145.6,350.3 145.1,351.7 144.6,351.0 144.1,350.1 143.6,349.8 143.1,350.8 142.6,351.1 142.1,351.9 141.6,352.0 141.1,352.5 140.6,351.7 140.1,351.6 139.6,351.7 139.1,350.4 138.6,350.6 138.1,351.5 137.6,351.5 137.1,350.7 136.6,350.2 136.1,350.7 135.6,350.8 135.1,349.7 134.6,350.8 134.1,350.2 133.6,349.7 133.1,350.7 132.6,350.0 132.1,351.5 131.6,351.8 131.1,350.6 130.6,350.1 130.1,350.2 129.6,351.2 129.1,349.7 128.6,350.0 128.1,350.2 127.6,350.5 127.1,351.5 126.6,352.6 126.1,353.3 125.6,352.3 125.1,351.5 124.6,352.4 124.1,353.1 123.6,352.3 123.1,352.7 122.6,351.5 122.1,351.6 121.6,353.5 121.1,352.2 120.6,352.2 120.1,353.1 119.6,352.0 119.1,351.1 118.6,352.6 118.1,351.1 117.6,351.3 117.1,352.7 116.6,353.4 116.1,354.6 115.6,352.8 115.1,353.7 114.6,352.8 114.1,355.0 113.6,354.5 113.1,353.2 112.6,353.1 112.1,352.5 111.6,354.4 111.1,353.4 110.6,354.8 110.1,353.0 109.6,351.7 109.1,354.7 108.6,353.3 108.1,352.8 107.6,353.8 107.1,352.4 106.6,351.9 106.1,353.0 105.6,353.2 105.1,352.0 104.6,353.0 104.1,353.6 103.6,353.1 103.1,353.0 102.6,353.7 102.1,353.5 101.6,351.7 101.1,354.0 100.6,352.3 100.1,354.1 99.6,352.4 99.1,352.9 98.6,354.6 98.1,353.1 97.6,352.9 97.1,352.5 96.6,353.6 96.1,353.3 95.6,352.8 95.1,353.2 94.6,353.2 94.1,352.3 93.6,353.2 93.1,352.3 92.6,352.4 92.1,353.1 91.6,353.9 91.1,353.0 90.6,354.7 90.1,353.1 89.6,352.6 89.1,353.4 88.6,352.5 88.1,352.1 87.6,351.1 87.1,353.0 86.6,353.0 86.1,352.2 85.6,351.8 85.1,353.6 84.6,352.3 84.1,352.8 83.6,352.5 83.1,351.7 82.6,354.1 82.1,352.3 81.6,352.1 81.1,353.0 80.6,354.3 80.1,352.6 79.6,353.2 79.1,353.1 78.6,354.0 78.1,352.9 77.6,352.7 77.1,351.9 76.6,352.6 76.1,353.1 75.6,353.1 75.1,352.9 74.6,353.4 74.1,351.7 73.6,352.4"/><line x1="375.7" y1="312.2" x2="375.7" y2="118.6" stroke="#22d2a6" stroke-width="1.1"/><polygon fill="#a88a12" points="73.6,347.0 74.1,346.8 74.6,347.0 75.1,346.9 75.6,347.2 76.1,347.9 76.6,348.3 77.1,347.4 77.6,349.0 78.1,346.8 78.6,348.3 79.1,347.6 79.6,347.1 80.1,347.4 80.6,346.0 81.1,347.4 81.6,347.0 82.1,348.1 82.6,348.5 83.1,346.5 83.6,348.2 84.1,346.8 84.6,348.0 85.1,346.7 85.6,347.0 86.1,347.1 86.6,347.4 87.1,345.2 87.6,347.8 88.1,345.8 88.6,347.6 89.1,347.2 89.6,345.7 90.1,347.0 90.6,346.8 91.1,346.0 91.6,346.3 92.1,347.1 92.6,346.6 93.1,346.2 93.6,347.3 94.1,347.8 94.6,347.9 95.1,347.3 95.6,349.7 96.1,348.3 96.6,348.0 97.1,348.6 97.6,347.9 98.1,349.2 98.6,347.4 99.1,347.7 99.6,348.3 100.1,347.6 100.6,347.1 101.1,345.8 101.6,346.9 102.1,347.1 102.6,346.6 103.1,346.5 103.6,346.7 104.1,346.3 104.6,343.7 105.1,345.7 105.6,345.8 106.1,346.1 106.6,345.4 107.1,345.3 107.6,346.3 108.1,347.3 108.6,348.0 109.1,347.8 109.6,347.8 110.1,347.8 110.6,348.3 111.1,345.8 111.6,348.2 112.1,347.2 112.6,347.5 113.1,348.0 113.6,346.4 114.1,347.1 114.6,347.6 115.1,347.4 115.6,348.6 116.1,346.3 116.6,344.3 117.1,345.8 117.6,346.7 118.1,346.0 118.6,346.7 119.1,345.8 119.6,346.4 120.1,346.0 120.6,346.0 121.1,345.3 121.6,345.3 122.1,346.0 122.6,344.0 123.1,346.9 123.6,347.0 124.1,346.6 124.6,346.5 125.1,346.8 125.6,346.0 126.1,345.8 126.6,346.3 127.1,346.4 127.6,347.1 128.1,344.8 128.6,346.8 129.1,346.5 129.6,346.2 130.1,344.5 130.6,346.7 131.1,345.1 131.6,345.5 132.1,346.1 132.6,346.7 133.1,346.1 133.6,344.4 134.1,344.5 134.6,346.6 135.1,346.8 135.6,345.2 136.1,345.7 136.6,346.2 137.1,346.8 137.6,346.2 138.1,346.3 138.6,346.4 139.1,345.9 139.6,347.1 140.1,346.7 140.6,345.0 141.1,345.9 141.6,345.8 142.1,345.3 142.6,346.6 143.1,346.6 143.6,345.7 144.1,347.4 144.6,347.0 145.1,345.4 145.6,345.5 146.1,345.9 146.6,345.3 147.1,346.7 147.6,345.6 148.1,346.9 148.6,346.6 149.1,346.0 149.6,346.8 150.1,347.0 150.6,347.1 151.1,345.5 151.6,346.8 152.1,345.1 152.6,344.8 153.1,345.3 153.6,345.5 154.1,345.3 154.6,346.1 155.1,345.6 155.6,345.3 156.1,346.3 156.6,345.1 157.1,344.9 157.6,343.5 158.1,344.5 158.6,345.0 159.1,345.7 159.6,344.9 160.1,343.7 160.6,344.5 161.1,347.0 161.6,347.2 162.1,346.6 162.6,346.2 163.1,346.8 163.6,346.6 164.1,345.2 164.6,347.1 165.1,345.0 165.6,344.2 166.1,342.4 166.6,344.7 167.1,343.6 167.6,344.0 168.1,342.5 168.6,341.7 169.1,341.6 169.6,342.4 170.1,341.0 170.6,341.5 171.1,339.6 171.6,339.5 172.1,340.2 172.6,339.5 173.1,340.4 173.6,340.1 174.1,339.3 174.6,338.9 175.1,337.5 175.6,338.4 176.1,338.0 176.6,337.6 177.1,338.1 177.6,337.1 178.1,334.3 178.6,337.0 179.1,334.4 179.6,335.6 180.1,336.0 180.6,335.3 181.1,335.0 181.6,335.7 182.1,334.2 182.6,334.9 183.1,334.7 183.6,332.2 184.1,334.7 184.6,333.9 185.1,332.7 185.6,333.3 186.1,333.2 186.6,333.9 187.1,332.8 187.6,333.0 188.1,331.7 188.6,331.7 189.1,332.2 189.6,330.6 190.1,330.6 190.6,330.7 191.1,330.6 191.6,329.3 192.1,328.7 192.6,329.3 193.1,329.4 193.6,328.5 194.1,328.8 194.6,328.5 195.1,329.1 195.6,328.4 196.1,327.6 196.6,328.2 197.1,327.4 197.6,328.0 198.1,326.8 198.6,328.2 199.1,327.8 199.6,328.0 200.1,325.5 200.6,326.7 201.1,325.9 201.6,326.8 202.1,326.8 202.6,326.1 203.1,324.5 203.6,324.7 204.1,324.3 204.6,324.1 205.1,323.5 205.6,324.5 206.1,322.1 206.6,324.2 207.1,324.4 207.6,323.2 208.1,324.3 208.6,323.6 209.1,323.8 209.6,323.4 210.1,323.7 210.6,323.7 211.1,323.8 211.6,322.4 212.1,322.6 212.6,323.7 213.1,322.3 213.6,320.9 214.1,322.1 214.6,322.2 215.1,319.7 215.6,320.8 216.1,321.1 216.6,321.0 217.1,321.1 217.6,320.5 218.1,319.7 218.6,321.1 219.1,321.4 219.6,321.6 220.1,320.6 220.6,320.3 221.1,321.5 221.6,320.1 222.1,320.5 222.6,320.9 223.1,320.6 223.6,321.0 224.1,320.5 224.6,319.4 225.1,320.5 225.6,320.8 226.1,319.3 226.6,320.0 227.1,319.7 227.6,319.5 228.1,319.3 228.6,317.7 229.1,319.3 229.6,320.2 230.1,319.9 230.6,319.6 231.1,318.8 231.6,320.1 232.1,318.8 232.6,318.9 233.1,317.6 233.6,318.9 234.1,318.4 234.6,318.3 235.1,318.6 235.6,317.5 236.1,317.6 236.6,316.7 237.1,316.3 237.6,317.8 238.1,318.1 238.6,317.8 239.1,316.8 239.6,317.7 240.1,317.2 240.6,316.5 241.1,315.7 241.6,316.2 242.1,316.6 242.6,315.7 243.1,317.5 243.6,317.4 244.1,318.1 244.6,315.4 245.1,316.8 245.6,316.5 246.1,316.2 246.6,316.2 247.1,315.7 247.6,314.7 248.1,314.6 248.6,316.4 249.1,315.0 249.6,314.2 250.1,316.2 250.6,317.0 251.1,316.2 251.6,317.3 252.1,317.3 252.6,317.1 253.1,317.6 253.6,317.7 254.1,318.0 254.6,315.5 255.1,317.0 255.6,316.0 256.1,315.5 256.6,316.4 257.1,316.6 257.6,317.0 258.1,316.9 258.6,315.9 259.1,315.4 259.6,315.2 260.1,316.6 260.6,314.8 261.1,315.7 261.6,315.1 262.1,315.8 262.6,315.9 263.1,316.2 263.6,314.1 264.1,314.5 264.6,313.5 265.1,313.7 265.6,314.3 266.1,314.6 266.6,312.8 267.1,313.3 267.6,315.1 268.1,313.1 268.6,312.5 269.1,313.8 269.6,313.2 270.1,313.5 270.6,312.3 271.1,313.1 271.6,314.1 272.1,313.4 272.6,313.7 273.1,312.9 273.6,313.5 274.1,313.1 274.6,313.0 275.1,313.8 275.6,315.1 276.1,314.5 276.6,315.5 277.1,315.5 277.6,315.5 278.1,315.9 278.6,313.9 279.1,315.1 279.6,314.6 280.1,313.0 280.6,314.0 281.1,314.6 281.6,314.9 282.1,314.9 282.6,314.7 283.1,313.9 283.6,314.6 284.1,313.9 284.6,313.3 285.1,311.6 285.6,312.5 286.1,313.3 286.6,314.3 287.1,314.0 287.6,312.9 288.1,313.2 288.6,313.6 289.1,313.8 289.6,314.2 290.1,311.5 290.6,314.4 291.1,313.5 291.6,314.5 292.1,312.2 292.6,313.9 293.1,314.3 293.6,310.6 294.1,312.3 294.6,312.7 295.1,310.8 295.6,312.2 296.1,312.7 296.6,313.1 297.1,310.0 297.6,312.0 298.1,312.6 298.6,312.6 299.1,313.2 299.6,314.1 300.1,313.3 300.6,312.4 301.1,314.6 301.6,313.5 302.1,312.4 302.6,311.5 303.1,313.7 303.6,312.4 304.1,312.3 304.6,313.8 305.1,314.7 305.6,315.5 306.1,315.1 306.6,314.0 307.1,314.3 307.6,315.0 308.1,314.5 308.6,313.0 309.1,313.4 309.6,313.4 310.1,312.6 310.6,312.8 311.1,311.9 311.6,312.5 312.1,311.8 312.6,313.5 313.1,313.9 313.6,312.9 314.1,314.8 314.6,312.7 315.1,315.2 315.6,313.7 316.1,314.5 316.6,313.9 317.1,313.7 317.6,313.7 318.1,313.3 318.6,310.7 319.1,312.4 319.6,312.2 320.1,312.6 320.6,311.3 321.1,314.2 321.6,313.5 322.1,313.6 322.6,313.6 323.1,311.2 323.6,312.7 324.1,312.2 324.6,312.2 325.1,311.9 325.6,312.6 326.1,314.1 326.6,312.1 327.1,312.6 327.6,313.4 328.1,313.2 328.6,313.5 329.1,313.7 329.6,312.7 330.1,314.5 330.6,313.2 331.1,313.6 331.6,314.1 332.1,313.7 332.6,312.6 333.1,314.4 333.6,313.8 334.1,313.1 334.6,312.8 335.1,312.2 335.6,313.7 336.1,314.6 336.6,312.9 337.1,313.2 337.6,312.5 338.1,313.4 338.6,312.2 339.1,312.8 339.6,312.8 340.1,313.5 340.6,312.8 341.1,310.7 341.6,313.6 342.1,311.8 342.6,312.7 343.1,312.6 343.6,312.0 344.1,312.4 344.6,312.9 345.1,313.1 345.6,312.2 346.1,315.0 346.6,314.6 347.1,313.0 347.6,313.6 348.1,313.7 348.6,315.3 349.1,314.5 349.6,314.1 350.1,313.9 350.6,313.9 351.1,313.0 351.6,312.8 352.1,313.0 352.6,311.8 353.1,311.8 353.6,312.2 354.1,314.0 354.6,312.8 355.1,312.7 355.6,313.2 356.1,313.2 356.6,314.4 357.1,313.6 357.6,314.2 358.1,313.4 358.6,314.6 359.1,314.3 359.6,313.3 360.1,313.5 360.6,312.9 361.1,312.8 361.6,313.0 362.1,311.3 362.6,312.9 363.1,313.2 363.6,312.2 364.1,312.3 364.6,311.9 365.1,311.7 365.6,310.9 366.1,311.7 366.6,312.3 367.1,310.6 367.6,312.8 368.1,312.8 368.6,312.5 369.1,312.5 369.6,313.1 370.1,312.7 370.6,312.0 371.1,313.4 371.6,313.4 372.1,313.1 372.6,312.6 373.1,314.9 373.6,313.1 374.1,312.7 374.6,313.0 375.1,313.0 375.6,314.0 376.1,131.2 376.6,130.2 377.1,129.1 377.6,129.1 378.1,130.1 378.6,132.3 379.1,129.3 379.6,131.2 380.1,132.8 380.6,134.6 381.1,135.5 381.6,137.1 382.1,138.5 382.6,140.2 383.1,141.3 383.6,141.3 384.1,144.3 384.6,144.0 385.1,146.4 385.6,147.1 386.1,149.5 386.6,150.1 387.1,150.8 387.6,152.6 388.1,153.6 388.6,155.0 389.1,156.4 389.6,158.0 390.1,160.0 390.6,161.4 391.1,162.0 391.6,163.8 392.1,164.9 392.6,165.3 393.1,167.0 393.6,168.5 394.1,168.8 394.6,170.3 395.1,171.3 395.6,171.3 396.1,171.9 396.6,173.0 397.1,173.6 397.6,174.2 398.1,175.5 398.6,176.0 399.1,176.6 399.6,177.1 400.1,178.3 400.6,179.3 401.1,180.4 401.6,180.3 402.1,180.5 402.6,181.1 403.1,181.1 403.6,182.8 404.1,182.7 404.6,184.8 405.1,184.0 405.6,184.6 406.1,186.7 406.6,187.1 407.1,187.4 407.6,188.1 408.1,188.4 408.6,189.6 409.1,190.4 409.6,191.5 410.1,192.0 410.6,191.8 411.1,193.2 411.6,193.5 412.1,194.0 412.6,194.5 413.1,194.4 413.6,196.0 414.1,195.8 414.6,197.7 415.1,198.3 415.6,198.4 416.1,199.9 416.6,200.2 417.1,200.9 417.6,201.4 418.1,201.1 418.6,202.0 419.1,202.1 419.6,202.5 420.1,203.5 420.6,202.9 421.1,203.2 421.6,202.9 422.1,202.6 422.6,205.0 423.1,205.3 423.6,205.1 424.1,205.1 424.6,206.9 425.1,207.1 425.6,208.6 426.1,208.8 426.6,208.9 427.1,208.4 427.6,209.9 428.1,209.5 428.6,209.8 429.1,209.8 429.6,210.8 430.1,210.8 430.6,211.0 431.1,212.1 431.6,212.6 432.1,213.2 432.6,213.4 433.1,213.8 433.6,214.2 434.1,214.6 434.6,214.7 435.1,215.7 435.6,215.7 436.1,215.3 436.6,216.1 437.1,217.2 437.6,216.9 438.1,217.0 438.6,216.8 439.1,217.2 439.6,217.7 440.1,215.8 440.6,218.0 441.1,218.1 441.6,218.4 442.1,218.6 442.6,219.9 443.1,219.5 443.6,220.6 444.1,219.9 444.6,220.9 445.1,221.7 445.6,222.6 446.1,223.0 446.6,222.9 447.1,223.4 447.6,223.4 448.1,223.7 448.6,223.2 449.1,224.2 449.6,224.2 450.1,224.8 450.6,223.5 451.1,225.0 451.6,225.2 452.1,226.1 452.6,226.2 453.1,226.6 453.6,226.4 454.1,226.2 454.6,226.5 455.1,226.4 455.6,227.1 456.1,227.9 456.6,228.6 457.1,227.5 457.6,229.2 458.1,228.8 458.6,229.1 459.1,230.0 459.6,230.3 460.1,231.1 460.6,230.0 461.1,230.0 461.6,231.0 462.1,232.3 462.6,230.3 463.1,232.0 463.6,232.6 464.1,232.5 464.6,232.0 465.1,233.6 465.6,233.5 466.1,233.4 466.6,232.9 467.1,234.0 467.6,234.2 468.1,234.8 468.6,235.4 469.1,236.6 469.6,236.2 470.1,237.2 470.6,236.2 471.1,237.9 471.6,238.0 472.1,237.5 472.6,237.9 473.1,238.4 473.6,238.8 474.1,239.4 474.6,239.8 475.1,240.1 475.6,239.4 476.1,240.2 476.6,239.5 477.1,239.8 477.6,238.8 478.1,239.7 478.6,240.9 479.1,240.6 479.6,241.3 480.1,241.8 480.6,241.8 481.1,242.3 481.6,240.8 482.1,242.0 482.6,241.8 483.1,242.9 483.6,242.0 484.1,243.3 484.6,243.0 485.1,243.2 485.6,243.4 486.1,243.6 486.6,243.8 487.1,244.2 487.6,243.8 488.1,244.1 488.6,244.0 489.1,245.2 489.6,245.0 490.1,245.2 490.6,244.8 491.1,245.2 491.6,244.5 492.1,244.6 492.6,244.5 493.1,245.2 493.6,244.2 494.1,244.9 494.6,245.6 495.1,245.7 495.6,245.1 496.1,246.3 496.6,246.7 497.1,246.5 497.6,248.1 498.1,247.7 498.6,248.5 499.1,248.5 499.6,250.0 500.1,250.3 500.6,250.2 501.1,249.9 501.6,251.1 502.1,251.1 502.6,251.3 503.1,249.7 503.6,251.8 504.1,250.4 504.6,250.5 505.1,251.4 505.6,250.6 506.1,251.7 506.6,252.3 507.1,251.3 507.6,251.4 508.1,252.4 508.6,252.9 509.1,252.9 509.6,253.6 510.1,253.0 510.6,251.1 511.1,252.6 511.6,251.0 512.1,252.9 512.6,253.4 513.1,253.4 513.6,253.9 514.1,254.3 514.6,253.9 515.1,255.2 515.6,254.8 516.1,254.5 516.6,255.9 517.1,254.8 517.6,255.4 518.1,254.7 518.6,255.8 519.1,255.7 519.6,257.2 520.1,257.0 520.6,256.0 521.1,256.2 521.6,257.6 522.1,256.1 522.6,256.6 523.1,257.5 523.6,258.5 524.1,257.4 524.6,259.8 525.1,260.1 525.6,260.1 526.1,259.3 526.6,261.0 527.1,260.5 527.6,259.6 528.1,259.8 528.6,259.2 529.1,259.2 529.6,260.8 530.1,259.2 530.6,259.4 531.1,260.1 531.6,260.1 532.1,260.0 532.6,259.8 533.1,260.9 533.6,261.2 534.1,259.8 534.6,261.0 535.1,261.0 535.6,260.3 536.1,260.7 536.6,261.5 537.1,261.5 537.6,261.4 538.1,261.3 538.6,262.4 539.1,262.9 539.6,263.1 540.1,262.4 540.6,262.8 541.1,263.1 541.6,263.7 542.1,262.9 542.6,263.0 543.1,263.2 543.6,264.1 544.1,263.5 544.6,263.9 545.1,262.9 545.6,263.1 546.1,263.9 546.6,264.4 547.1,264.8 547.6,265.3 548.1,265.6 548.6,264.0 549.1,266.1 549.6,266.6 550.1,266.2 550.6,266.1 551.1,265.7 551.6,267.3 552.1,266.3 552.6,267.0 553.1,266.2 553.6,266.1 554.1,268.0 554.6,268.1 555.1,267.9 555.6,268.2 556.1,267.2 556.6,268.6 557.1,267.9 557.6,268.0 558.1,267.3 558.6,268.8 559.1,268.7 559.6,269.5 560.1,267.8 560.6,268.9 561.1,267.5 561.6,269.6 562.1,269.1 562.6,269.4 563.1,270.5 563.6,270.3 564.1,269.4 564.6,269.9 565.1,269.2 565.6,269.0 566.1,270.2 566.6,269.5 567.1,269.7 567.6,270.2 568.1,270.8 568.6,270.5 569.1,269.8 569.6,270.8 570.1,269.8 570.6,270.4 571.1,270.8 571.6,270.0 572.1,269.6 572.6,271.3 573.1,271.3 573.6,270.4 574.1,271.6 574.6,271.9 575.1,272.6 575.6,274.0 576.1,273.2 576.6,272.8 577.1,273.7 577.6,273.4 578.1,273.3 578.6,273.8 579.1,274.0 579.6,273.3 580.1,273.9 580.6,273.9 581.1,273.9 581.6,273.7 582.1,273.6 582.6,273.9 583.1,274.2 583.6,274.6 584.1,273.4 584.6,274.4 585.1,273.5 585.6,274.6 586.1,273.7 586.6,274.4 587.1,275.7 587.6,274.1 588.1,273.7 588.6,273.6 589.1,274.6 589.6,274.5 590.1,275.1 590.6,275.0 591.1,273.9 591.6,275.4 592.1,275.6 592.6,276.8 593.1,275.6 593.6,277.1 594.1,276.5 594.6,276.8 595.1,276.5 595.6,276.9 596.1,276.2 596.6,276.7 597.1,277.3 597.6,277.7 598.1,277.2 598.6,277.7 599.1,277.5 599.6,278.0 600.1,277.4 600.6,278.2 601.1,278.3 601.6,277.7 602.1,278.0 602.6,277.7 603.1,277.9 603.6,277.8 604.1,278.4 604.6,278.4 605.1,277.0 605.6,278.3 606.1,278.4 606.6,278.8 607.1,279.8 607.6,278.5 608.1,279.5 608.6,278.7 609.1,279.5 609.6,279.3 610.1,279.4 610.6,279.4 611.1,279.9 611.6,278.8 612.1,280.2 612.6,279.2 613.1,279.3 613.6,279.6 614.1,279.4 614.6,280.2 615.1,279.9 615.6,281.2 616.1,280.6 616.6,281.6 617.1,280.5 617.6,281.2 618.1,281.4 618.6,280.6 619.1,281.4 619.6,280.8 620.1,281.6 620.6,280.8 621.1,280.1 621.6,281.6 622.1,282.7 622.6,282.9 623.1,281.5 623.6,281.4 624.1,281.3 624.6,282.1 625.1,281.1 625.6,280.2 626.1,281.3 626.6,280.6 627.1,281.4 627.6,281.2 628.1,281.0 628.6,281.5 629.1,282.1 629.6,281.3 630.1,282.2 630.6,282.1 631.1,283.1 631.6,282.7 632.1,281.5 632.6,282.9 633.1,282.6 633.6,282.2 634.1,282.8 634.6,282.3 635.1,283.0 635.6,283.9 636.1,285.0 636.6,285.4 637.1,284.4 637.6,285.6 638.1,284.0 638.6,283.8 639.1,285.3 639.6,284.5 640.1,284.5 640.6,284.1 641.1,283.7 641.6,283.6 642.1,284.1 642.6,283.3 643.1,283.3 643.6,284.4 644.1,283.9 644.6,284.6 645.1,283.1 645.6,284.8 646.1,284.1 646.6,285.1 647.1,283.8 647.6,284.8 648.1,285.4 648.6,285.5 649.1,285.7 649.6,285.6 650.1,285.7 650.6,284.8 651.1,285.3 651.6,285.7 652.1,285.3 652.6,285.4 653.1,285.7 653.6,286.2 654.1,285.7 654.6,286.4 655.1,286.5 655.6,286.0 656.1,287.0 656.6,286.0 657.1,287.0 657.6,287.3 658.1,287.2 658.6,288.0 659.1,287.8 659.6,287.7 660.1,287.6 660.6,286.9 661.1,287.2 661.6,286.6 662.1,286.5 662.6,286.3 663.1,286.4 663.6,287.6 664.1,287.6 664.6,286.9 665.1,287.1 665.6,288.2 666.1,288.7 666.6,288.6 667.1,288.1 667.6,287.9 668.1,287.0 668.6,288.2 669.1,289.0 669.6,289.3 670.1,289.2 670.6,287.6 671.1,289.2 671.6,288.5 672.1,288.8 672.6,288.5 673.1,288.8 673.6,289.4 674.1,289.8 674.6,288.9 675.1,289.1 675.6,287.9 676.1,288.8 676.6,287.8 677.1,288.2 677.6,288.2 678.1,288.3 678.6,287.3 679.1,286.8 679.6,288.1 680.1,287.5 680.6,288.4 681.1,288.2 681.6,288.6 682.1,288.4 682.6,288.5 683.1,288.5 683.6,289.5 684.1,289.4 684.6,290.4 685.1,290.5 685.6,290.1 686.1,290.3 686.6,291.8 687.1,291.0 687.6,290.8 688.1,290.8 688.6,291.2 689.1,291.5 689.6,291.2 690.1,290.5 690.6,291.0 691.1,291.3 691.6,291.5 692.1,291.7 692.6,291.9 693.1,291.2 693.6,290.4 694.1,290.6 694.6,290.4 695.1,290.4 695.6,291.8 696.1,291.3 696.6,292.3 697.1,292.4 697.6,291.7 698.1,291.7 698.6,291.4 699.1,290.1 699.6,289.2 700.1,289.5 700.6,289.5 701.1,290.3 701.6,290.0 702.1,291.6 702.6,291.0 703.1,292.1 703.6,291.9 704.1,292.7 704.6,291.4 705.1,292.4 705.6,292.4 706.1,292.3 706.6,292.0 707.1,292.5 707.6,292.3 708.1,293.1 708.6,292.7 709.1,291.9 709.6,293.1 710.1,292.9 710.6,292.4 711.1,292.3 711.6,292.5 712.1,291.9 712.6,291.4 713.1,291.6 713.6,291.0 714.1,291.2 714.6,291.5 715.1,291.7 715.6,291.0 716.1,289.9 716.6,290.7 717.1,290.7 717.6,360.2 718.1,359.7 718.6,359.4 719.1,359.9 719.6,360.5 720.1,358.9 720.6,360.1 721.1,359.5 721.6,359.6 722.1,359.7 722.6,358.5 723.1,358.9 723.6,358.1 724.1,358.0 724.6,358.0 725.1,357.6 725.6,357.2 726.1,357.3 726.6,357.2 727.1,357.2 727.6,356.9 728.1,357.1 728.6,356.3 729.1,356.6 729.6,357.0 730.1,356.4 730.6,356.9 731.1,356.4 731.6,356.5 732.1,355.7 732.6,356.1 733.1,356.3 733.6,356.2 734.1,354.7 734.6,354.7 735.1,356.0 735.6,355.7 736.1,355.2 736.6,354.7 737.1,355.2 737.6,354.7 738.1,353.9 738.6,353.7 739.1,354.3 739.6,354.8 740.1,354.8 740.6,354.7 741.1,354.2 741.6,354.6 742.1,354.9 742.6,354.8 743.1,354.1 743.6,354.8 744.1,354.4 744.6,354.8 745.1,355.0 745.6,353.5 746.1,354.3 746.6,355.0 747.1,354.3 747.6,355.4 748.1,354.6 748.6,354.4 749.1,353.6 749.6,354.2 750.1,353.9 750.6,353.3 751.1,353.8 751.6,353.2 752.1,352.8 752.6,352.7 753.1,353.2 753.6,353.7 754.1,353.5 754.6,354.2 755.1,353.0 755.6,353.1 756.1,352.6 756.6,352.7 757.1,352.7 757.6,353.6 758.1,352.8 758.6,352.2 759.1,353.7 759.6,354.4 759.6,359.3 759.1,358.1 758.6,358.0 758.1,358.1 757.6,358.9 757.1,357.6 756.6,357.4 756.1,358.0 755.6,357.8 755.1,358.1 754.6,358.2 754.1,358.6 753.6,358.2 753.1,358.0 752.6,357.9 752.1,357.6 751.6,357.9 751.1,358.1 750.6,359.1 750.1,359.2 749.6,360.2 749.1,358.9 748.6,358.8 748.1,359.1 747.6,359.3 747.1,358.9 746.6,360.5 746.1,359.4 745.6,358.8 745.1,359.1 744.6,359.1 744.1,359.6 743.6,359.3 743.1,359.7 742.6,359.7 742.1,359.4 741.6,359.0 741.1,359.6 740.6,358.9 740.1,359.5 739.6,359.7 739.1,358.5 738.6,359.0 738.1,358.7 737.6,359.4 737.1,360.2 736.6,359.7 736.1,360.4 735.6,360.2 735.1,360.7 734.6,361.5 734.1,360.5 733.6,360.6 733.1,360.4 732.6,361.0 732.1,360.5 731.6,360.9 731.1,360.6 730.6,361.5 730.1,363.1 729.6,362.2 729.1,361.4 728.6,361.6 728.1,361.1 727.6,363.1 727.1,361.7 726.6,362.9 726.1,362.1 725.6,362.0 725.1,362.4 724.6,362.5 724.1,363.0 723.6,363.1 723.1,363.3 722.6,363.7 722.1,364.0 721.6,365.5 721.1,365.6 720.6,364.7 720.1,365.0 719.6,365.2 719.1,365.0 718.6,364.9 718.1,365.3 717.6,365.8 717.1,296.0 716.6,296.2 716.1,295.9 715.6,296.3 715.1,296.4 714.6,295.7 714.1,296.4 713.6,296.5 713.1,295.7 712.6,296.7 712.1,297.4 711.6,296.9 711.1,296.8 710.6,297.2 710.1,297.7 709.6,297.3 709.1,297.5 708.6,297.3 708.1,297.3 707.6,298.1 707.1,296.8 706.6,297.5 706.1,297.6 705.6,297.0 705.1,297.9 704.6,296.3 704.1,297.1 703.6,297.5 703.1,296.7 702.6,296.1 702.1,296.1 701.6,295.7 701.1,294.9 700.6,295.2 700.1,295.4 699.6,295.5 699.1,295.8 698.6,296.2 698.1,296.9 697.6,297.9 697.1,297.0 696.6,296.7 696.1,295.8 695.6,296.0 695.1,296.5 694.6,295.7 694.1,296.0 693.6,295.5 693.1,296.4 692.6,296.8 692.1,296.5 691.6,296.0 691.1,296.6 690.6,295.2 690.1,295.2 689.6,295.8 689.1,297.2 688.6,296.6 688.1,295.5 687.6,296.1 687.1,296.3 686.6,295.7 686.1,296.0 685.6,294.3 685.1,294.6 684.6,294.3 684.1,293.5 683.6,293.5 683.1,292.4 682.6,293.6 682.1,293.0 681.6,293.3 681.1,294.0 680.6,292.6 680.1,292.1 679.6,293.2 679.1,292.1 678.6,292.9 678.1,293.3 677.6,292.2 677.1,292.7 676.6,294.2 676.1,293.9 675.6,294.3 675.1,293.5 674.6,294.5 674.1,294.0 673.6,293.4 673.1,293.1 672.6,293.6 672.1,292.7 671.6,293.4 671.1,293.2 670.6,293.7 670.1,293.6 669.6,293.6 669.1,293.6 668.6,293.6 668.1,294.1 667.6,292.5 667.1,293.6 666.6,293.3 666.1,293.3 665.6,292.9 665.1,292.3 664.6,292.6 664.1,291.6 663.6,291.8 663.1,291.6 662.6,291.3 662.1,291.2 661.6,291.0 661.1,291.3 660.6,291.6 660.1,293.0 659.6,292.9 659.1,292.6 658.6,293.0 658.1,292.5 657.6,292.2 657.1,291.3 656.6,291.7 656.1,291.0 655.6,290.4 655.1,291.7 654.6,290.4 654.1,291.1 653.6,290.3 653.1,291.2 652.6,290.9 652.1,291.0 651.6,290.0 651.1,290.6 650.6,290.0 650.1,289.8 649.6,290.7 649.1,289.9 648.6,290.1 648.1,289.8 647.6,289.9 647.1,289.0 646.6,289.3 646.1,288.8 645.6,289.5 645.1,289.1 644.6,289.1 644.1,290.2 643.6,289.3 643.1,288.3 642.6,288.8 642.1,288.3 641.6,288.6 641.1,288.4 640.6,290.5 640.1,289.2 639.6,289.9 639.1,289.5 638.6,289.3 638.1,289.7 637.6,290.2 637.1,290.8 636.6,289.8 636.1,289.4 635.6,289.5 635.1,288.3 634.6,288.6 634.1,287.3 633.6,287.2 633.1,287.5 632.6,287.9 632.1,287.2 631.6,287.4 631.1,288.4 630.6,287.9 630.1,287.6 629.6,287.5 629.1,286.2 628.6,286.1 628.1,285.8 627.6,286.1 627.1,285.5 626.6,285.8 626.1,285.6 625.6,286.1 625.1,286.1 624.6,287.6 624.1,286.5 623.6,286.9 623.1,287.3 622.6,287.2 622.1,288.1 621.6,286.8 621.1,286.9 620.6,286.9 620.1,285.5 619.6,285.4 619.1,286.1 618.6,286.0 618.1,286.0 617.6,285.8 617.1,285.9 616.6,285.8 616.1,286.7 615.6,285.3 615.1,285.1 614.6,284.6 614.1,284.5 613.6,283.9 613.1,283.7 612.6,285.2 612.1,284.7 611.6,284.3 611.1,285.3 610.6,284.9 610.1,283.9 609.6,285.2 609.1,286.7 608.6,284.2 608.1,283.8 607.6,284.1 607.1,283.9 606.6,283.1 606.1,283.6 605.6,283.9 605.1,282.3 604.6,283.2 604.1,282.6 603.6,281.8 603.1,282.7 602.6,282.7 602.1,282.6 601.6,283.3 601.1,282.3 600.6,282.7 600.1,282.3 599.6,283.5 599.1,282.7 598.6,282.8 598.1,283.3 597.6,281.8 597.1,282.8 596.6,282.2 596.1,281.7 595.6,281.0 595.1,281.2 594.6,282.3 594.1,281.8 593.6,281.1 593.1,280.5 592.6,280.9 592.1,281.9 591.6,281.2 591.1,281.2 590.6,281.1 590.1,279.9 589.6,279.5 589.1,280.2 588.6,280.1 588.1,279.8 587.6,279.4 587.1,280.8 586.6,278.8 586.1,278.6 585.6,279.3 585.1,279.8 584.6,278.8 584.1,278.7 583.6,279.3 583.1,279.4 582.6,278.2 582.1,279.5 581.6,278.3 581.1,278.9 580.6,277.8 580.1,278.5 579.6,279.2 579.1,278.5 578.6,278.1 578.1,278.2 577.6,278.5 577.1,278.1 576.6,277.9 576.1,278.0 575.6,278.6 575.1,277.2 574.6,277.1 574.1,277.7 573.6,276.1 573.1,275.6 572.6,275.6 572.1,274.4 571.6,275.6 571.1,275.6 570.6,274.7 570.1,275.3 569.6,276.0 569.1,274.9 568.6,274.9 568.1,275.3 567.6,274.6 567.1,274.6 566.6,275.2 566.1,275.6 565.6,274.5 565.1,274.0 564.6,274.8 564.1,274.1 563.6,274.4 563.1,274.9 562.6,274.9 562.1,274.3 561.6,274.4 561.1,274.0 560.6,274.0 560.1,273.1 559.6,273.5 559.1,273.3 558.6,273.3 558.1,274.1 557.6,272.8 557.1,273.0 556.6,273.8 556.1,272.7 555.6,272.7 555.1,272.4 554.6,272.5 554.1,272.3 553.6,272.2 553.1,271.6 552.6,271.8 552.1,271.0 551.6,272.4 551.1,271.5 550.6,272.0 550.1,270.9 549.6,270.8 549.1,271.3 548.6,270.2 548.1,270.4 547.6,269.7 547.1,269.9 546.6,270.0 546.1,268.6 545.6,267.9 545.1,269.0 544.6,268.6 544.1,267.7 543.6,268.5 543.1,268.9 542.6,267.6 542.1,267.8 541.6,268.0 541.1,268.2 540.6,267.4 540.1,267.7 539.6,267.7 539.1,267.6 538.6,266.8 538.1,266.7 537.6,266.5 537.1,267.1 536.6,265.9 536.1,265.5 535.6,266.9 535.1,265.9 534.6,266.1 534.1,265.1 533.6,265.6 533.1,265.9 532.6,265.0 532.1,265.0 531.6,265.4 531.1,265.4 530.6,264.5 530.1,264.0 529.6,265.2 529.1,265.3 528.6,264.9 528.1,264.9 527.6,266.0 527.1,265.3 526.6,265.1 526.1,266.7 525.6,264.4 525.1,265.0 524.6,264.7 524.1,264.1 523.6,263.7 523.1,262.2 522.6,261.7 522.1,262.7 521.6,263.0 521.1,261.6 520.6,261.4 520.1,261.8 519.6,262.1 519.1,262.0 518.6,261.1 518.1,261.3 517.6,261.5 517.1,259.7 516.6,260.0 516.1,259.5 515.6,259.8 515.1,260.4 514.6,259.5 514.1,258.7 513.6,258.4 513.1,258.5 512.6,259.7 512.1,257.4 511.6,257.7 511.1,259.2 510.6,257.1 510.1,257.5 509.6,257.9 509.1,259.0 508.6,259.1 508.1,256.7 507.6,257.3 507.1,256.5 506.6,256.8 506.1,256.4 505.6,256.0 505.1,256.0 504.6,255.4 504.1,256.2 503.6,256.6 503.1,257.3 502.6,256.6 502.1,255.7 501.6,255.9 501.1,256.3 500.6,256.0 500.1,255.1 499.6,254.6 499.1,254.1 498.6,253.9 498.1,254.5 497.6,252.7 497.1,251.2 496.6,252.0 496.1,252.0 495.6,251.4 495.1,250.2 494.6,250.7 494.1,250.2 493.6,251.3 493.1,250.1 492.6,250.1 492.1,250.0 491.6,250.6 491.1,250.3 490.6,250.0 490.1,250.2 489.6,249.5 489.1,249.6 488.6,249.2 488.1,250.6 487.6,248.7 487.1,249.2 486.6,248.2 486.1,248.7 485.6,248.7 485.1,247.9 484.6,248.4 484.1,248.1 483.6,247.3 483.1,248.3 482.6,248.0 482.1,247.0 481.6,246.5 481.1,248.2 480.6,246.8 480.1,246.6 479.6,246.2 479.1,246.1 478.6,245.9 478.1,245.0 477.6,245.4 477.1,245.1 476.6,245.6 476.1,245.1 475.6,245.0 475.1,244.6 474.6,244.6 474.1,244.1 473.6,244.6 473.1,243.3 472.6,242.7 472.1,242.2 471.6,242.4 471.1,243.7 470.6,242.6 470.1,243.1 469.6,242.6 469.1,241.3 468.6,241.3 468.1,240.3 467.6,240.9 467.1,239.2 466.6,238.1 466.1,239.5 465.6,238.5 465.1,238.9 464.6,238.3 464.1,239.1 463.6,237.8 463.1,237.2 462.6,237.1 462.1,236.8 461.6,235.9 461.1,235.7 460.6,235.8 460.1,236.5 459.6,236.0 459.1,235.8 458.6,235.8 458.1,233.8 457.6,233.8 457.1,233.0 456.6,233.6 456.1,233.2 455.6,232.3 455.1,233.4 454.6,231.5 454.1,232.0 453.6,231.2 453.1,231.5 452.6,231.1 452.1,231.9 451.6,231.0 451.1,231.0 450.6,231.1 450.1,229.5 449.6,228.8 449.1,229.9 448.6,229.0 448.1,228.6 447.6,228.4 447.1,228.0 446.6,228.3 446.1,229.2 445.6,227.9 445.1,227.6 444.6,227.6 444.1,227.1 443.6,226.5 443.1,225.0 442.6,225.3 442.1,224.7 441.6,224.4 441.1,223.6 440.6,223.2 440.1,222.4 439.6,223.8 439.1,222.4 438.6,222.6 438.1,222.7 437.6,223.0 437.1,223.0 436.6,221.6 436.1,222.1 435.6,221.9 435.1,220.9 434.6,220.6 434.1,219.5 433.6,219.0 433.1,219.3 432.6,218.3 432.1,218.4 431.6,217.4 431.1,217.3 430.6,217.5 430.1,217.2 429.6,217.7 429.1,215.9 428.6,216.8 428.1,216.3 427.6,215.5 427.1,216.1 426.6,215.8 426.1,214.7 425.6,215.5 425.1,214.1 424.6,212.9 424.1,211.6 423.6,211.6 423.1,211.4 422.6,211.5 422.1,210.1 421.6,210.1 421.1,210.2 420.6,208.9 420.1,209.0 419.6,209.4 419.1,208.4 418.6,208.7 418.1,207.5 417.6,207.4 417.1,206.9 416.6,206.1 416.1,206.3 415.6,205.7 415.1,204.5 414.6,203.7 414.1,203.1 413.6,202.3 413.1,202.3 412.6,200.3 412.1,201.3 411.6,199.2 411.1,199.2 410.6,198.7 410.1,199.1 409.6,199.5 409.1,197.0 408.6,196.4 408.1,196.3 407.6,195.2 407.1,194.9 406.6,194.1 406.1,194.2 405.6,192.0 405.1,191.7 404.6,192.1 404.1,190.5 403.6,189.8 403.1,190.7 402.6,189.2 402.1,189.0 401.6,187.6 401.1,187.6 400.6,187.0 400.1,186.2 399.6,186.0 399.1,184.0 398.6,183.8 398.1,183.1 397.6,182.7 397.1,181.8 396.6,181.1 396.1,180.8 395.6,179.7 395.1,180.0 394.6,179.4 394.1,177.9 393.6,177.0 393.1,176.1 392.6,174.4 392.1,173.6 391.6,172.4 391.1,171.3 390.6,170.1 390.1,169.0 389.6,168.4 389.1,166.1 388.6,164.7 388.1,164.8 387.6,163.2 387.1,161.8 386.6,160.6 386.1,160.0 385.6,157.8 385.1,157.2 384.6,156.0 384.1,154.9 383.6,153.7 383.1,154.0 382.6,151.9 382.1,150.7 381.6,149.2 381.1,147.2 380.6,146.9 380.1,144.2 379.6,142.6 379.1,141.6 378.6,136.6 378.1,134.7 377.6,133.1 377.1,133.1 376.6,134.9 376.1,135.9 375.6,320.4 375.1,318.9 374.6,319.6 374.1,320.5 373.6,319.5 373.1,320.2 372.6,317.7 372.1,320.0 371.6,318.0 371.1,318.4 370.6,317.7 370.1,317.7 369.6,318.8 369.1,318.1 368.6,319.6 368.1,317.7 367.6,317.5 367.1,317.6 366.6,317.2 366.1,318.8 365.6,317.8 365.1,317.2 364.6,318.8 364.1,320.7 363.6,317.3 363.1,317.9 362.6,318.2 362.1,317.4 361.6,317.8 361.1,318.0 360.6,318.5 360.1,318.2 359.6,319.6 359.1,319.2 358.6,319.8 358.1,319.4 357.6,319.6 357.1,321.9 356.6,318.8 356.1,319.5 355.6,320.3 355.1,319.7 354.6,319.9 354.1,318.7 353.6,318.4 353.1,318.1 352.6,317.7 352.1,318.1 351.6,318.7 351.1,319.9 350.6,318.8 350.1,320.0 349.6,319.1 349.1,320.4 348.6,321.4 348.1,320.1 347.6,320.5 347.1,319.8 346.6,319.7 346.1,320.0 345.6,318.7 345.1,318.5 344.6,317.8 344.1,317.4 343.6,318.0 343.1,317.7 342.6,319.0 342.1,318.0 341.6,318.4 341.1,318.9 340.6,318.3 340.1,318.0 339.6,319.6 339.1,319.1 338.6,318.3 338.1,318.6 337.6,318.1 337.1,319.8 336.6,320.1 336.1,319.1 335.6,318.6 335.1,320.2 334.6,318.8 334.1,319.2 333.6,319.7 333.1,319.1 332.6,320.0 332.1,319.7 331.6,319.5 331.1,318.1 330.6,318.4 330.1,320.0 329.6,318.2 329.1,321.8 328.6,319.0 328.1,319.0 327.6,319.3 327.1,317.7 326.6,319.2 326.1,319.5 325.6,320.4 325.1,317.9 324.6,319.0 324.1,318.1 323.6,317.7 323.1,320.1 322.6,319.0 322.1,318.9 321.6,318.6 321.1,320.0 320.6,317.8 320.1,318.4 319.6,320.8 319.1,320.6 318.6,318.7 318.1,318.7 317.6,319.9 317.1,319.2 316.6,319.7 316.1,319.6 315.6,319.4 315.1,320.9 314.6,318.8 314.1,321.6 313.6,319.3 313.1,319.5 312.6,319.2 312.1,318.1 311.6,317.4 311.1,318.8 310.6,318.7 310.1,319.3 309.6,319.7 309.1,319.1 308.6,319.9 308.1,319.0 307.6,319.5 307.1,320.3 306.6,320.9 306.1,320.3 305.6,320.9 305.1,320.0 304.6,320.1 304.1,318.2 303.6,320.4 303.1,319.4 302.6,318.9 302.1,320.7 301.6,318.6 301.1,319.4 300.6,320.3 300.1,320.4 299.6,320.0 299.1,319.0 298.6,319.0 298.1,319.5 297.6,317.9 297.1,317.7 296.6,319.5 296.1,317.8 295.6,318.6 295.1,316.8 294.6,317.9 294.1,317.4 293.6,317.5 293.1,319.1 292.6,319.6 292.1,319.8 291.6,320.0 291.1,319.6 290.6,319.1 290.1,320.2 289.6,320.2 289.1,319.9 288.6,319.3 288.1,318.9 287.6,318.4 287.1,319.3 286.6,319.3 286.1,318.4 285.6,319.5 285.1,319.0 284.6,318.9 284.1,319.1 283.6,321.7 283.1,319.8 282.6,319.2 282.1,322.0 281.6,321.8 281.1,320.0 280.6,319.7 280.1,320.0 279.6,319.8 279.1,320.1 278.6,321.0 278.1,320.2 277.6,320.5 277.1,321.0 276.6,321.1 276.1,320.0 275.6,320.6 275.1,319.7 274.6,320.1 274.1,318.8 273.6,320.5 273.1,318.2 272.6,319.8 272.1,319.3 271.6,319.2 271.1,319.1 270.6,317.6 270.1,318.4 269.6,319.5 269.1,319.6 268.6,319.6 268.1,320.0 267.6,320.3 267.1,320.8 266.6,319.8 266.1,320.7 265.6,319.5 265.1,320.9 264.6,319.9 264.1,320.4 263.6,319.2 263.1,322.2 262.6,320.4 262.1,322.4 261.6,320.2 261.1,321.0 260.6,321.5 260.1,322.3 259.6,321.8 259.1,321.1 258.6,320.8 258.1,322.6 257.6,322.2 257.1,320.9 256.6,323.1 256.1,320.9 255.6,321.5 255.1,321.5 254.6,323.0 254.1,323.0 253.6,323.8 253.1,322.0 252.6,325.0 252.1,322.8 251.6,322.7 251.1,321.2 250.6,321.6 250.1,321.5 249.6,322.3 249.1,321.0 248.6,321.0 248.1,320.5 247.6,321.8 247.1,321.0 246.6,323.0 246.1,322.0 245.6,322.6 245.1,323.1 244.6,322.0 244.1,323.9 243.6,322.6 243.1,323.5 242.6,322.3 242.1,322.3 241.6,322.5 241.1,324.1 240.6,323.3 240.1,323.7 239.6,323.3 239.1,322.8 238.6,322.2 238.1,323.4 237.6,323.6 237.1,323.3 236.6,324.7 236.1,322.9 235.6,324.3 235.1,323.7 234.6,323.5 234.1,324.0 233.6,324.0 233.1,325.0 232.6,324.4 232.1,324.2 231.6,327.2 231.1,324.5 230.6,326.0 230.1,324.8 229.6,324.7 229.1,325.4 228.6,324.4 228.1,325.4 227.6,324.6 227.1,324.1 226.6,324.8 226.1,325.0 225.6,326.8 225.1,325.7 224.6,325.4 224.1,325.6 223.6,326.4 223.1,326.8 222.6,328.7 222.1,325.7 221.6,326.0 221.1,326.2 220.6,329.4 220.1,326.5 219.6,326.4 219.1,327.3 218.6,325.7 218.1,325.9 217.6,326.6 217.1,325.8 216.6,326.0 216.1,326.3 215.6,327.2 215.1,327.3 214.6,327.4 214.1,328.5 213.6,328.3 213.1,328.2 212.6,331.1 212.1,328.4 211.6,329.4 211.1,328.5 210.6,329.2 210.1,328.7 209.6,328.6 209.1,328.6 208.6,328.9 208.1,329.7 207.6,328.5 207.1,329.7 206.6,329.6 206.1,329.6 205.6,329.6 205.1,329.7 204.6,331.5 204.1,331.2 203.6,331.3 203.1,331.4 202.6,331.5 202.1,331.9 201.6,332.2 201.1,332.8 200.6,332.4 200.1,332.8 199.6,333.1 199.1,333.4 198.6,333.5 198.1,335.0 197.6,334.1 197.1,336.1 196.6,333.5 196.1,334.5 195.6,334.4 195.1,334.4 194.6,335.8 194.1,335.8 193.6,334.7 193.1,334.9 192.6,335.3 192.1,334.7 191.6,336.3 191.1,336.5 190.6,336.1 190.1,336.5 189.6,337.7 189.1,339.1 188.6,337.3 188.1,338.5 187.6,339.0 187.1,339.6 186.6,340.4 186.1,339.8 185.6,340.9 185.1,340.7 184.6,340.2 184.1,340.7 183.6,340.5 183.1,339.8 182.6,340.3 182.1,340.2 181.6,341.3 181.1,341.5 180.6,342.3 180.1,342.9 179.6,343.7 179.1,341.7 178.6,343.4 178.1,343.1 177.6,343.3 177.1,343.7 176.6,344.9 176.1,345.3 175.6,344.4 175.1,345.5 174.6,347.9 174.1,346.1 173.6,347.0 173.1,346.3 172.6,345.6 172.1,346.2 171.6,347.5 171.1,346.4 170.6,350.1 170.1,348.7 169.6,349.9 169.1,348.7 168.6,349.9 168.1,350.2 167.6,351.5 167.1,352.7 166.6,350.8 166.1,352.3 165.6,353.0 165.1,352.6 164.6,352.4 164.1,352.8 163.6,353.7 163.1,353.3 162.6,352.0 162.1,351.9 161.6,351.4 161.1,354.3 160.6,352.7 160.1,350.6 159.6,352.1 159.1,351.9 158.6,349.9 158.1,350.0 157.6,351.3 157.1,351.3 156.6,351.2 156.1,350.7 155.6,350.6 155.1,351.2 154.6,351.8 154.1,352.0 153.6,351.0 153.1,350.9 152.6,351.5 152.1,351.7 151.6,352.5 151.1,352.2 150.6,352.5 150.1,353.8 149.6,353.5 149.1,352.4 148.6,351.6 148.1,353.6 147.6,351.1 147.1,353.3 146.6,352.3 146.1,351.1 145.6,351.3 145.1,351.9 144.6,352.5 144.1,352.5 143.6,350.9 143.1,351.6 142.6,351.5 142.1,351.6 141.6,351.0 141.1,350.8 140.6,351.7 140.1,351.7 139.6,353.0 139.1,352.8 138.6,351.9 138.1,352.7 137.6,352.1 137.1,352.0 136.6,351.3 136.1,350.9 135.6,351.5 135.1,353.1 134.6,351.2 134.1,350.7 133.6,351.8 133.1,351.4 132.6,353.0 132.1,350.9 131.6,351.8 131.1,353.4 130.6,353.4 130.1,351.9 129.6,350.7 129.1,351.6 128.6,352.2 128.1,351.1 127.6,352.2 127.1,351.8 126.6,351.0 126.1,351.5 125.6,352.3 125.1,351.1 124.6,351.4 124.1,351.2 123.6,351.5 123.1,352.1 122.6,351.3 122.1,351.0 121.6,351.4 121.1,351.2 120.6,351.5 120.1,351.0 119.6,351.9 119.1,351.4 118.6,351.6 118.1,352.8 117.6,352.4 117.1,351.0 116.6,353.8 116.1,356.6 115.6,354.3 115.1,353.6 114.6,353.0 114.1,353.6 113.6,351.9 113.1,353.4 112.6,352.2 112.1,353.2 111.6,354.8 111.1,352.5 110.6,353.4 110.1,353.7 109.6,353.3 109.1,352.9 108.6,353.3 108.1,352.3 107.6,351.7 107.1,351.3 106.6,351.0 106.1,351.7 105.6,352.0 105.1,352.2 104.6,351.4 104.1,351.6 103.6,352.8 103.1,351.2 102.6,351.8 102.1,351.9 101.6,352.7 101.1,352.7 100.6,352.8 100.1,353.4 99.6,353.5 99.1,354.7 98.6,355.0 98.1,354.3 97.6,353.9 97.1,353.8 96.6,353.9 96.1,353.8 95.6,356.5 95.1,352.5 94.6,353.4 94.1,352.4 93.6,352.3 93.1,352.8 92.6,351.7 92.1,352.9 91.6,351.0 91.1,351.4 90.6,351.5 90.1,352.8 89.6,351.3 89.1,352.9 88.6,353.8 88.1,353.0 87.6,352.1 87.1,351.9 86.6,352.1 86.1,353.7 85.6,352.8 85.1,352.3 84.6,352.6 84.1,353.3 83.6,355.2 83.1,353.3 82.6,353.3 82.1,353.6 81.6,355.3 81.1,353.1 80.6,352.7 80.1,352.6 79.6,353.7 79.1,353.0 78.6,354.2 78.1,352.6 77.6,353.7 77.1,355.1 76.6,353.8 76.1,355.4 75.6,353.0 75.1,352.9 74.6,351.9 74.1,352.9 73.6,352.2"/><line x1="375.7" y1="316.2" x2="375.7" y2="130.0" stroke="#a88a12" stroke-width="1.1"/><polygon fill="#4a0cf2" points="73.6,347.3 74.1,348.3 74.6,347.3 75.1,346.9 75.6,344.5 76.1,347.4 76.6,347.7 77.1,348.0 77.6,348.9 78.1,347.0 78.6,348.8 79.1,347.9 79.6,346.6 80.1,347.2 80.6,348.2 81.1,347.8 81.6,347.7 82.1,347.9 82.6,346.0 83.1,347.9 83.6,346.5 84.1,346.3 84.6,345.5 85.1,347.1 85.6,345.8 86.1,345.8 86.6,346.4 87.1,346.0 87.6,346.5 88.1,347.1 88.6,347.4 89.1,347.0 89.6,347.6 90.1,347.8 90.6,348.3 91.1,347.6 91.6,348.1 92.1,346.7 92.6,347.3 93.1,347.5 93.6,347.3 94.1,347.2 94.6,348.6 95.1,349.3 95.6,348.8 96.1,349.2 96.6,349.7 97.1,349.7 97.6,350.1 98.1,349.4 98.6,349.9 99.1,350.0 99.6,349.5 100.1,349.5 100.6,348.1 101.1,347.8 101.6,348.2 102.1,347.8 102.6,347.6 103.1,346.9 103.6,347.9 104.1,346.2 104.6,347.6 105.1,347.0 105.6,344.7 106.1,347.2 106.6,346.3 107.1,346.7 107.6,346.7 108.1,348.2 108.6,345.6 109.1,348.1 109.6,347.5 110.1,347.4 110.6,348.7 111.1,346.6 111.6,348.7 112.1,347.7 112.6,349.1 113.1,344.3 113.6,347.5 114.1,347.3 114.6,345.5 115.1,347.3 115.6,347.5 116.1,346.5 116.6,343.7 117.1,345.8 117.6,345.5 118.1,346.0 118.6,345.5 119.1,345.8 119.6,344.5 120.1,345.4 120.6,345.2 121.1,344.2 121.6,345.7 122.1,345.0 122.6,345.1 123.1,345.2 123.6,345.2 124.1,345.3 124.6,346.0 125.1,346.5 125.6,344.0 126.1,345.7 126.6,344.3 127.1,344.9 127.6,345.5 128.1,346.5 128.6,345.0 129.1,345.2 129.6,345.2 130.1,346.2 130.6,345.6 131.1,345.4 131.6,344.8 132.1,345.1 132.6,345.5 133.1,344.7 133.6,345.3 134.1,345.0 134.6,345.0 135.1,344.8 135.6,345.0 136.1,344.8 136.6,345.4 137.1,343.9 137.6,344.6 138.1,343.1 138.6,344.2 139.1,344.1 139.6,345.1 140.1,345.3 140.6,344.5 141.1,344.3 141.6,345.1 142.1,346.2 142.6,343.1 143.1,346.0 143.6,346.2 144.1,344.6 144.6,345.6 145.1,345.9 145.6,344.9 146.1,345.8 146.6,345.7 147.1,345.8 147.6,345.5 148.1,346.2 148.6,344.7 149.1,344.6 149.6,345.2 150.1,345.6 150.6,343.3 151.1,344.8 151.6,345.6 152.1,346.6 152.6,345.9 153.1,345.4 153.6,344.8 154.1,347.4 154.6,344.4 155.1,345.2 155.6,345.6 156.1,345.8 156.6,346.8 157.1,343.8 157.6,345.6 158.1,346.0 158.6,345.9 159.1,346.9 159.6,345.0 160.1,345.1 160.6,345.1 161.1,346.3 161.6,345.8 162.1,347.1 162.6,347.7 163.1,347.8 163.6,348.3 164.1,346.5 164.6,347.3 165.1,346.5 165.6,345.7 166.1,344.8 166.6,344.4 167.1,344.2 167.6,344.9 168.1,344.6 168.6,343.5 169.1,344.0 169.6,342.6 170.1,343.9 170.6,343.8 171.1,342.5 171.6,341.1 172.1,342.4 172.6,342.3 173.1,342.5 173.6,341.4 174.1,341.5 174.6,342.4 175.1,340.0 175.6,341.5 176.1,341.8 176.6,341.3 177.1,341.1 177.6,341.2 178.1,338.8 178.6,339.6 179.1,339.8 179.6,340.7 180.1,340.8 180.6,340.1 181.1,339.8 181.6,339.4 182.1,339.1 182.6,338.0 183.1,338.8 183.6,339.6 184.1,339.1 184.6,338.4 185.1,337.6 185.6,338.7 186.1,337.6 186.6,337.0 187.1,337.6 187.6,337.9 188.1,337.6 188.6,338.2 189.1,337.8 189.6,335.7 190.1,338.0 190.6,336.0 191.1,338.1 191.6,337.0 192.1,336.1 192.6,336.9 193.1,337.5 193.6,338.1 194.1,336.7 194.6,336.5 195.1,335.4 195.6,336.0 196.1,335.8 196.6,336.6 197.1,337.5 197.6,337.2 198.1,337.0 198.6,337.4 199.1,336.1 199.6,336.4 200.1,334.5 200.6,335.4 201.1,335.7 201.6,335.7 202.1,335.2 202.6,333.6 203.1,335.7 203.6,335.6 204.1,335.1 204.6,335.1 205.1,333.4 205.6,334.2 206.1,333.7 206.6,334.5 207.1,335.4 207.6,334.2 208.1,334.3 208.6,333.4 209.1,333.4 209.6,333.6 210.1,334.4 210.6,334.4 211.1,333.4 211.6,334.2 212.1,334.2 212.6,333.5 213.1,333.9 213.6,333.5 214.1,333.6 214.6,333.7 215.1,332.8 215.6,331.8 216.1,332.4 216.6,331.9 217.1,330.9 217.6,331.5 218.1,332.2 218.6,331.1 219.1,332.2 219.6,331.3 220.1,330.9 220.6,331.1 221.1,330.9 221.6,331.2 222.1,330.3 222.6,330.5 223.1,331.8 223.6,329.9 224.1,330.5 224.6,331.3 225.1,331.9 225.6,332.4 226.1,332.1 226.6,331.9 227.1,331.5 227.6,331.2 228.1,332.7 228.6,333.0 229.1,333.3 229.6,332.3 230.1,333.4 230.6,332.1 231.1,332.5 231.6,332.1 232.1,332.3 232.6,330.6 233.1,331.1 233.6,331.2 234.1,329.8 234.6,328.7 235.1,331.4 235.6,331.4 236.1,331.3 236.6,331.4 237.1,331.3 237.6,330.0 238.1,331.4 238.6,330.5 239.1,331.3 239.6,331.2 240.1,330.9 240.6,329.8 241.1,328.4 241.6,331.6 242.1,331.2 242.6,330.8 243.1,330.5 243.6,331.5 244.1,330.0 244.6,331.4 245.1,332.0 245.6,331.6 246.1,333.0 246.6,330.3 247.1,332.6 247.6,330.2 248.1,331.9 248.6,331.1 249.1,331.3 249.6,331.1 250.1,330.2 250.6,331.7 251.1,331.5 251.6,331.0 252.1,331.0 252.6,331.6 253.1,331.2 253.6,331.2 254.1,329.6 254.6,330.4 255.1,331.0 255.6,329.8 256.1,328.6 256.6,328.6 257.1,330.2 257.6,329.6 258.1,331.1 258.6,330.2 259.1,331.4 259.6,329.4 260.1,330.6 260.6,330.5 261.1,330.8 261.6,329.5 262.1,330.7 262.6,327.4 263.1,329.6 263.6,329.9 264.1,330.0 264.6,330.2 265.1,331.2 265.6,331.9 266.1,330.9 266.6,331.7 267.1,330.9 267.6,330.9 268.1,331.0 268.6,330.3 269.1,330.1 269.6,329.5 270.1,328.2 270.6,330.4 271.1,330.3 271.6,331.1 272.1,330.8 272.6,331.0 273.1,330.7 273.6,329.3 274.1,330.7 274.6,330.0 275.1,329.9 275.6,330.0 276.1,329.0 276.6,328.6 277.1,328.3 277.6,328.3 278.1,329.0 278.6,329.4 279.1,330.7 279.6,329.6 280.1,331.3 280.6,331.6 281.1,330.5 281.6,330.6 282.1,329.9 282.6,330.5 283.1,330.8 283.6,329.2 284.1,329.6 284.6,330.7 285.1,330.8 285.6,330.7 286.1,330.7 286.6,329.1 287.1,329.4 287.6,330.4 288.1,330.5 288.6,330.8 289.1,330.9 289.6,329.8 290.1,328.7 290.6,330.7 291.1,329.5 291.6,328.8 292.1,329.8 292.6,329.2 293.1,328.9 293.6,327.6 294.1,327.9 294.6,330.2 295.1,329.9 295.6,329.0 296.1,330.0 296.6,330.3 297.1,329.4 297.6,330.3 298.1,331.4 298.6,331.3 299.1,330.8 299.6,329.9 300.1,329.4 300.6,329.5 301.1,329.8 301.6,330.4 302.1,330.2 302.6,330.2 303.1,329.7 303.6,330.1 304.1,330.2 304.6,330.3 305.1,330.9 305.6,330.6 306.1,331.7 306.6,331.0 307.1,331.5 307.6,329.9 308.1,330.4 308.6,331.1 309.1,331.0 309.6,331.3 310.1,330.7 310.6,332.8 311.1,331.7 311.6,332.0 312.1,331.9 312.6,331.7 313.1,331.8 313.6,331.5 314.1,330.2 314.6,331.0 315.1,331.3 315.6,329.7 316.1,331.0 316.6,329.9 317.1,328.5 317.6,330.4 318.1,329.7 318.6,329.1 319.1,328.9 319.6,331.1 320.1,330.4 320.6,330.0 321.1,332.1 321.6,330.8 322.1,332.4 322.6,329.4 323.1,330.3 323.6,329.7 324.1,330.1 324.6,330.1 325.1,329.8 325.6,330.3 326.1,329.0 326.6,328.3 327.1,330.1 327.6,332.3 328.1,331.6 328.6,330.2 329.1,332.7 329.6,331.7 330.1,330.5 330.6,330.7 331.1,331.0 331.6,330.7 332.1,331.2 332.6,330.7 333.1,329.8 333.6,331.0 334.1,331.6 334.6,331.6 335.1,330.3 335.6,330.6 336.1,328.9 336.6,331.0 337.1,330.9 337.6,329.1 338.1,330.0 338.6,330.1 339.1,329.0 339.6,330.6 340.1,330.1 340.6,329.4 341.1,329.3 341.6,330.3 342.1,331.1 342.6,331.6 343.1,332.1 343.6,329.6 344.1,331.6 344.6,331.6 345.1,331.0 345.6,332.1 346.1,332.6 346.6,331.2 347.1,329.9 347.6,329.9 348.1,330.5 348.6,330.0 349.1,331.0 349.6,332.0 350.1,332.2 350.6,331.4 351.1,331.1 351.6,330.9 352.1,330.9 352.6,331.8 353.1,331.1 353.6,331.9 354.1,332.2 354.6,330.9 355.1,331.7 355.6,330.8 356.1,329.8 356.6,330.8 357.1,330.0 357.6,330.3 358.1,331.6 358.6,330.4 359.1,330.9 359.6,330.3 360.1,331.2 360.6,331.1 361.1,331.6 361.6,331.4 362.1,331.2 362.6,332.2 363.1,331.9 363.6,330.8 364.1,332.6 364.6,331.9 365.1,331.4 365.6,330.9 366.1,331.0 366.6,331.6 367.1,330.3 367.6,328.0 368.1,329.8 368.6,330.8 369.1,331.6 369.6,330.9 370.1,330.2 370.6,331.2 371.1,331.2 371.6,331.9 372.1,332.2 372.6,331.9 373.1,331.4 373.6,330.4 374.1,331.9 374.6,332.7 375.1,332.4 375.6,331.4 376.1,245.8 376.6,244.4 377.1,242.8 377.6,241.7 378.1,241.1 378.6,240.4 379.1,241.2 379.6,240.6 380.1,240.9 380.6,242.6 381.1,243.9 381.6,244.6 382.1,244.7 382.6,246.4 383.1,247.3 383.6,248.1 384.1,249.0 384.6,248.6 385.1,250.3 385.6,250.8 386.1,249.7 386.6,252.2 387.1,252.0 387.6,252.4 388.1,253.3 388.6,253.9 389.1,254.9 389.6,254.2 390.1,254.7 390.6,255.7 391.1,255.7 391.6,257.3 392.1,257.9 392.6,258.7 393.1,258.7 393.6,259.1 394.1,259.8 394.6,260.9 395.1,261.2 395.6,261.9 396.1,261.6 396.6,262.4 397.1,262.8 397.6,262.0 398.1,262.7 398.6,262.9 399.1,263.5 399.6,263.8 400.1,264.1 400.6,263.7 401.1,265.4 401.6,264.8 402.1,266.6 402.6,267.8 403.1,267.8 403.6,268.3 404.1,268.6 404.6,269.0 405.1,268.8 405.6,268.4 406.1,268.7 406.6,269.0 407.1,268.6 407.6,269.6 408.1,269.3 408.6,270.6 409.1,269.8 409.6,270.0 410.1,270.0 410.6,268.8 411.1,271.3 411.6,270.9 412.1,270.5 412.6,271.8 413.1,271.0 413.6,272.5 414.1,271.7 414.6,271.7 415.1,271.8 415.6,271.9 416.1,271.4 416.6,270.4 417.1,272.6 417.6,271.7 418.1,273.3 418.6,273.8 419.1,274.3 419.6,274.3 420.1,275.4 420.6,275.8 421.1,276.7 421.6,276.2 422.1,276.7 422.6,276.0 423.1,276.7 423.6,277.7 424.1,276.4 424.6,277.6 425.1,277.9 425.6,277.9 426.1,278.8 426.6,279.1 427.1,279.2 427.6,279.3 428.1,277.8 428.6,278.9 429.1,279.3 429.6,279.6 430.1,279.4 430.6,280.3 431.1,279.9 431.6,280.9 432.1,280.6 432.6,280.6 433.1,280.2 433.6,281.0 434.1,281.0 434.6,281.6 435.1,282.1 435.6,282.1 436.1,281.4 436.6,281.9 437.1,282.5 437.6,282.3 438.1,283.7 438.6,283.0 439.1,284.2 439.6,283.6 440.1,283.9 440.6,284.2 441.1,284.1 441.6,283.0 442.1,283.5 442.6,283.9 443.1,283.8 443.6,283.3 444.1,284.4 444.6,285.0 445.1,285.0 445.6,284.9 446.1,285.0 446.6,285.1 447.1,284.8 447.6,284.4 448.1,284.6 448.6,285.7 449.1,284.8 449.6,283.7 450.1,285.4 450.6,285.9 451.1,285.1 451.6,285.7 452.1,285.2 452.6,284.6 453.1,285.9 453.6,287.0 454.1,285.9 454.6,286.0 455.1,285.9 455.6,286.3 456.1,285.4 456.6,286.1 457.1,286.1 457.6,286.5 458.1,286.8 458.6,287.3 459.1,287.6 459.6,287.0 460.1,287.4 460.6,287.9 461.1,287.9 461.6,286.6 462.1,288.3 462.6,287.4 463.1,288.4 463.6,288.0 464.1,288.9 464.6,288.4 465.1,289.9 465.6,290.0 466.1,289.7 466.6,290.6 467.1,289.3 467.6,289.9 468.1,291.3 468.6,291.0 469.1,290.9 469.6,290.8 470.1,290.7 470.6,290.8 471.1,289.3 471.6,290.7 472.1,291.6 472.6,291.2 473.1,290.1 473.6,291.2 474.1,289.9 474.6,291.0 475.1,291.4 475.6,290.7 476.1,291.7 476.6,291.1 477.1,292.2 477.6,291.3 478.1,292.0 478.6,291.9 479.1,292.1 479.6,292.8 480.1,292.3 480.6,292.1 481.1,293.0 481.6,293.6 482.1,292.5 482.6,293.3 483.1,293.1 483.6,292.2 484.1,293.5 484.6,294.1 485.1,293.4 485.6,293.7 486.1,293.5 486.6,293.8 487.1,294.7 487.6,294.1 488.1,295.3 488.6,295.2 489.1,295.1 489.6,294.7 490.1,293.8 490.6,294.0 491.1,293.5 491.6,292.9 492.1,293.0 492.6,293.7 493.1,293.5 493.6,294.3 494.1,295.1 494.6,295.5 495.1,295.8 495.6,294.6 496.1,295.5 496.6,295.7 497.1,296.2 497.6,295.0 498.1,294.6 498.6,294.6 499.1,294.7 499.6,297.2 500.1,297.0 500.6,297.1 501.1,297.0 501.6,296.3 502.1,296.8 502.6,296.2 503.1,296.5 503.6,296.9 504.1,296.9 504.6,297.0 505.1,297.0 505.6,297.6 506.1,297.7 506.6,297.6 507.1,297.8 507.6,297.5 508.1,297.3 508.6,296.6 509.1,297.3 509.6,296.7 510.1,296.9 510.6,298.1 511.1,298.4 511.6,298.3 512.1,298.2 512.6,299.5 513.1,299.9 513.6,299.1 514.1,298.6 514.6,299.5 515.1,298.7 515.6,298.7 516.1,299.2 516.6,299.4 517.1,299.6 517.6,299.9 518.1,299.9 518.6,298.6 519.1,299.3 519.6,299.5 520.1,299.0 520.6,298.4 521.1,299.8 521.6,297.8 522.1,299.0 522.6,299.8 523.1,300.0 523.6,300.1 524.1,300.7 524.6,301.1 525.1,301.0 525.6,302.2 526.1,301.0 526.6,301.6 527.1,301.6 527.6,301.8 528.1,301.8 528.6,302.1 529.1,301.2 529.6,302.2 530.1,300.9 530.6,300.7 531.1,301.4 531.6,300.9 532.1,301.5 532.6,300.7 533.1,300.5 533.6,299.2 534.1,300.4 534.6,302.0 535.1,302.0 535.6,302.2 536.1,302.7 536.6,302.4 537.1,303.0 537.6,301.6 538.1,303.1 538.6,303.0 539.1,302.1 539.6,300.3 540.1,300.8 540.6,302.3 541.1,301.3 541.6,301.8 542.1,301.4 542.6,303.0 543.1,302.3 543.6,302.1 544.1,302.1 544.6,302.8 545.1,302.7 545.6,303.3 546.1,303.2 546.6,303.7 547.1,303.8 547.6,304.3 548.1,304.8 548.6,304.8 549.1,304.4 549.6,303.5 550.1,304.1 550.6,303.7 551.1,303.4 551.6,302.6 552.1,303.6 552.6,303.0 553.1,304.5 553.6,303.7 554.1,303.5 554.6,304.2 555.1,304.7 555.6,304.6 556.1,304.0 556.6,302.6 557.1,304.9 557.6,305.3 558.1,305.1 558.6,305.3 559.1,305.1 559.6,305.0 560.1,305.7 560.6,304.8 561.1,304.6 561.6,305.2 562.1,305.8 562.6,303.5 563.1,304.4 563.6,304.6 564.1,304.0 564.6,304.6 565.1,305.0 565.6,305.6 566.1,305.9 566.6,304.6 567.1,305.7 567.6,306.5 568.1,306.3 568.6,306.2 569.1,306.9 569.6,306.9 570.1,306.5 570.6,307.4 571.1,305.3 571.6,306.8 572.1,306.9 572.6,307.5 573.1,305.7 573.6,306.9 574.1,306.7 574.6,307.0 575.1,307.0 575.6,306.7 576.1,308.2 576.6,307.8 577.1,308.8 577.6,309.1 578.1,308.8 578.6,309.4 579.1,308.7 579.6,307.8 580.1,309.0 580.6,307.6 581.1,308.4 581.6,307.7 582.1,308.0 582.6,307.3 583.1,307.5 583.6,306.5 584.1,307.6 584.6,306.3 585.1,307.1 585.6,307.2 586.1,306.7 586.6,306.5 587.1,306.5 587.6,307.4 588.1,307.7 588.6,306.3 589.1,307.3 589.6,307.8 590.1,309.0 590.6,308.0 591.1,308.7 591.6,308.8 592.1,308.6 592.6,308.6 593.1,307.4 593.6,308.5 594.1,308.9 594.6,309.8 595.1,309.3 595.6,310.2 596.1,310.9 596.6,310.3 597.1,311.0 597.6,310.9 598.1,311.2 598.6,310.9 599.1,311.3 599.6,311.0 600.1,310.9 600.6,309.9 601.1,310.0 601.6,309.2 602.1,309.4 602.6,309.3 603.1,308.6 603.6,308.6 604.1,310.0 604.6,309.3 605.1,309.3 605.6,309.4 606.1,310.1 606.6,310.3 607.1,310.3 607.6,311.2 608.1,311.2 608.6,310.7 609.1,310.4 609.6,312.2 610.1,310.8 610.6,311.0 611.1,311.1 611.6,309.8 612.1,311.1 612.6,311.1 613.1,309.9 613.6,311.1 614.1,311.8 614.6,312.2 615.1,311.0 615.6,312.0 616.1,311.7 616.6,311.4 617.1,311.9 617.6,311.5 618.1,311.0 618.6,312.5 619.1,311.7 619.6,311.6 620.1,312.1 620.6,311.8 621.1,312.0 621.6,312.4 622.1,311.4 622.6,312.2 623.1,312.3 623.6,312.2 624.1,311.9 624.6,311.9 625.1,312.4 625.6,310.4 626.1,311.1 626.6,310.9 627.1,310.4 627.6,310.0 628.1,310.5 628.6,311.8 629.1,310.6 629.6,311.8 630.1,311.0 630.6,312.1 631.1,311.8 631.6,312.3 632.1,311.5 632.6,311.2 633.1,311.9 633.6,312.1 634.1,311.7 634.6,312.5 635.1,312.7 635.6,312.9 636.1,313.0 636.6,313.9 637.1,313.3 637.6,314.7 638.1,313.3 638.6,313.9 639.1,314.2 639.6,313.5 640.1,312.7 640.6,313.1 641.1,313.6 641.6,313.1 642.1,312.7 642.6,312.9 643.1,312.9 643.6,313.5 644.1,312.8 644.6,313.2 645.1,313.1 645.6,313.7 646.1,313.5 646.6,314.2 647.1,314.3 647.6,314.5 648.1,314.8 648.6,315.1 649.1,315.1 649.6,314.2 650.1,313.7 650.6,314.1 651.1,313.3 651.6,314.3 652.1,313.7 652.6,313.9 653.1,313.5 653.6,314.1 654.1,314.6 654.6,313.2 655.1,313.7 655.6,314.5 656.1,314.5 656.6,314.2 657.1,314.9 657.6,314.6 658.1,314.9 658.6,314.3 659.1,314.9 659.6,315.0 660.1,315.4 660.6,314.3 661.1,316.0 661.6,314.7 662.1,315.5 662.6,315.4 663.1,315.3 663.6,314.9 664.1,314.1 664.6,315.0 665.1,315.3 665.6,315.8 666.1,315.5 666.6,316.5 667.1,316.4 667.6,315.2 668.1,315.0 668.6,314.3 669.1,315.3 669.6,315.9 670.1,315.8 670.6,315.8 671.1,315.5 671.6,315.0 672.1,315.1 672.6,315.0 673.1,315.9 673.6,315.0 674.1,314.2 674.6,314.1 675.1,315.9 675.6,316.0 676.1,316.6 676.6,316.6 677.1,316.7 677.6,315.7 678.1,317.2 678.6,316.6 679.1,316.5 679.6,315.8 680.1,315.2 680.6,315.9 681.1,315.9 681.6,315.4 682.1,316.3 682.6,315.6 683.1,316.4 683.6,316.4 684.1,315.9 684.6,315.6 685.1,316.0 685.6,316.0 686.1,316.7 686.6,316.3 687.1,316.4 687.6,316.9 688.1,317.0 688.6,316.4 689.1,317.3 689.6,317.4 690.1,315.7 690.6,316.3 691.1,316.4 691.6,316.6 692.1,316.2 692.6,316.5 693.1,316.7 693.6,316.6 694.1,315.9 694.6,316.9 695.1,316.4 695.6,315.9 696.1,316.2 696.6,316.3 697.1,315.5 697.6,316.6 698.1,316.4 698.6,316.7 699.1,316.8 699.6,316.2 700.1,315.9 700.6,317.6 701.1,317.7 701.6,316.8 702.1,317.4 702.6,317.4 703.1,317.3 703.6,317.9 704.1,316.6 704.6,318.0 705.1,317.6 705.6,318.1 706.1,317.2 706.6,317.5 707.1,317.6 707.6,318.1 708.1,317.5 708.6,317.9 709.1,317.9 709.6,317.9 710.1,317.6 710.6,317.6 711.1,317.8 711.6,317.8 712.1,317.0 712.6,317.9 713.1,316.9 713.6,316.4 714.1,318.3 714.6,318.1 715.1,319.0 715.6,318.3 716.1,318.9 716.6,319.5 717.1,320.0 717.6,355.3 718.1,354.3 718.6,354.7 719.1,353.9 719.6,353.8 720.1,353.5 720.6,353.1 721.1,353.0 721.6,352.0 722.1,352.2 722.6,352.2 723.1,352.5 723.6,352.8 724.1,352.3 724.6,352.8 725.1,352.6 725.6,352.8 726.1,352.4 726.6,353.1 727.1,352.4 727.6,352.5 728.1,352.4 728.6,352.2 729.1,352.3 729.6,352.6 730.1,352.9 730.6,352.7 731.1,352.2 731.6,351.7 732.1,351.3 732.6,350.9 733.1,350.8 733.6,351.0 734.1,351.0 734.6,351.3 735.1,351.0 735.6,350.3 736.1,351.0 736.6,351.0 737.1,350.4 737.6,350.9 738.1,350.0 738.6,350.5 739.1,350.7 739.6,350.8 740.1,350.7 740.6,349.6 741.1,349.8 741.6,350.7 742.1,350.0 742.6,350.3 743.1,350.6 743.6,350.2 744.1,350.7 744.6,350.8 745.1,349.8 745.6,350.6 746.1,350.9 746.6,350.9 747.1,350.7 747.6,349.6 748.1,350.4 748.6,350.4 749.1,350.2 749.6,350.1 750.1,350.6 750.6,350.7 751.1,350.3 751.6,350.7 752.1,351.2 752.6,350.5 753.1,350.5 753.6,349.8 754.1,350.8 754.6,349.8 755.1,349.4 755.6,349.7 756.1,350.1 756.6,350.3 757.1,349.3 757.6,349.5 758.1,349.9 758.6,350.4 759.1,350.4 759.6,350.2 759.6,354.9 759.1,355.2 758.6,354.7 758.1,354.8 757.6,354.6 757.1,353.7 756.6,354.5 756.1,354.2 755.6,354.2 755.1,354.6 754.6,354.4 754.1,355.5 753.6,354.9 753.1,355.1 752.6,355.7 752.1,355.7 751.6,354.9 751.1,355.8 750.6,355.5 750.1,355.6 749.6,355.4 749.1,355.0 748.6,354.7 748.1,355.3 747.6,355.7 747.1,356.0 746.6,355.7 746.1,356.3 745.6,356.1 745.1,355.9 744.6,355.6 744.1,354.9 743.6,355.3 743.1,355.6 742.6,355.3 742.1,354.9 741.6,355.6 741.1,355.2 740.6,355.2 740.1,356.1 739.6,355.0 739.1,355.3 738.6,355.2 738.1,355.6 737.6,355.9 737.1,355.3 736.6,355.7 736.1,355.7 735.6,355.7 735.1,355.5 734.6,355.9 734.1,355.3 733.6,356.2 733.1,355.9 732.6,355.6 732.1,356.6 731.6,356.6 731.1,356.8 730.6,357.2 730.1,357.0 729.6,357.1 729.1,357.1 728.6,357.6 728.1,357.1 727.6,358.0 727.1,357.7 726.6,357.3 726.1,357.5 725.6,357.9 725.1,357.5 724.6,357.5 724.1,356.3 723.6,357.3 723.1,357.1 722.6,357.5 722.1,356.7 721.6,356.9 721.1,357.4 720.6,357.3 720.1,357.9 719.6,358.6 719.1,358.5 718.6,359.8 718.1,359.9 717.6,359.3 717.1,324.8 716.6,324.6 716.1,324.7 715.6,323.4 715.1,323.3 714.6,324.1 714.1,323.4 713.6,322.3 713.1,322.6 712.6,322.8 712.1,322.2 711.6,322.1 711.1,321.8 710.6,321.5 710.1,322.4 709.6,322.6 709.1,322.7 708.6,322.5 708.1,322.3 707.6,322.6 707.1,322.5 706.6,322.5 706.1,321.8 705.6,322.9 705.1,322.4 704.6,324.0 704.1,323.4 703.6,322.7 703.1,322.2 702.6,322.1 702.1,322.1 701.6,322.1 701.1,322.0 700.6,322.4 700.1,322.1 699.6,321.2 699.1,322.0 698.6,320.7 698.1,320.6 697.6,320.7 697.1,320.4 696.6,321.4 696.1,320.6 695.6,320.9 695.1,321.1 694.6,321.2 694.1,321.3 693.6,321.1 693.1,321.0 692.6,321.8 692.1,320.6 691.6,320.5 691.1,321.3 690.6,320.5 690.1,321.6 689.6,322.0 689.1,321.4 688.6,321.9 688.1,321.7 687.6,321.4 687.1,321.1 686.6,320.8 686.1,320.5 685.6,320.3 685.1,320.5 684.6,320.7 684.1,320.2 683.6,321.0 683.1,320.6 682.6,320.0 682.1,321.5 681.6,320.7 681.1,320.3 680.6,320.7 680.1,320.2 679.6,321.8 679.1,320.6 678.6,321.1 678.1,321.3 677.6,320.3 677.1,321.2 676.6,320.8 676.1,321.1 675.6,320.3 675.1,320.8 674.6,320.6 674.1,319.8 673.6,320.2 673.1,320.6 672.6,319.7 672.1,320.4 671.6,321.0 671.1,320.2 670.6,320.8 670.1,320.2 669.6,320.0 669.1,320.7 668.6,319.9 668.1,320.1 667.6,320.5 667.1,321.6 666.6,320.9 666.1,320.4 665.6,320.3 665.1,319.5 664.6,319.8 664.1,318.8 663.6,319.2 663.1,320.0 662.6,319.5 662.1,321.3 661.6,319.6 661.1,319.9 660.6,319.7 660.1,319.5 659.6,319.2 659.1,319.6 658.6,320.0 658.1,319.2 657.6,319.7 657.1,319.1 656.6,319.0 656.1,319.3 655.6,318.8 655.1,320.1 654.6,318.0 654.1,319.4 653.6,318.9 653.1,318.5 652.6,318.8 652.1,318.7 651.6,318.6 651.1,318.2 650.6,318.7 650.1,318.3 649.6,318.9 649.1,319.0 648.6,319.7 648.1,319.4 647.6,319.7 647.1,319.9 646.6,319.9 646.1,319.2 645.6,318.5 645.1,317.8 644.6,317.4 644.1,319.1 643.6,318.3 643.1,318.2 642.6,318.2 642.1,319.2 641.6,317.3 641.1,317.5 640.6,318.4 640.1,317.9 639.6,318.5 639.1,319.6 638.6,318.0 638.1,319.7 637.6,318.9 637.1,318.4 636.6,318.7 636.1,317.8 635.6,317.3 635.1,318.9 634.6,316.8 634.1,318.0 633.6,317.3 633.1,316.5 632.6,316.3 632.1,317.0 631.6,316.1 631.1,316.3 630.6,317.5 630.1,316.8 629.6,316.4 629.1,316.0 628.6,316.2 628.1,316.2 627.6,315.4 627.1,316.0 626.6,315.0 626.1,316.4 625.6,315.5 625.1,316.5 624.6,316.0 624.1,317.3 623.6,317.1 623.1,317.6 622.6,316.2 622.1,316.2 621.6,316.8 621.1,316.1 620.6,318.0 620.1,316.3 619.6,316.1 619.1,316.4 618.6,316.9 618.1,316.5 617.6,316.9 617.1,316.1 616.6,316.3 616.1,316.8 615.6,316.8 615.1,316.2 614.6,316.8 614.1,316.2 613.6,315.8 613.1,315.9 612.6,315.7 612.1,315.3 611.6,315.9 611.1,316.6 610.6,316.4 610.1,315.6 609.6,316.1 609.1,315.9 608.6,315.7 608.1,315.6 607.6,315.4 607.1,315.1 606.6,315.0 606.1,314.6 605.6,314.2 605.1,314.6 604.6,315.1 604.1,314.4 603.6,313.5 603.1,314.9 602.6,313.8 602.1,314.2 601.6,314.8 601.1,315.1 600.6,314.5 600.1,315.0 599.6,315.5 599.1,317.0 598.6,315.8 598.1,315.4 597.6,316.4 597.1,316.2 596.6,315.1 596.1,315.4 595.6,314.6 595.1,314.0 594.6,314.7 594.1,312.9 593.6,313.3 593.1,313.8 592.6,313.9 592.1,313.6 591.6,313.8 591.1,312.8 590.6,313.7 590.1,314.2 589.6,313.4 589.1,312.4 588.6,312.3 588.1,313.4 587.6,312.8 587.1,312.1 586.6,311.0 586.1,311.2 585.6,312.0 585.1,312.8 584.6,310.9 584.1,311.9 583.6,311.5 583.1,312.1 582.6,311.6 582.1,313.1 581.6,313.2 581.1,312.9 580.6,312.8 580.1,313.3 579.6,312.8 579.1,312.9 578.6,313.9 578.1,313.6 577.6,313.7 577.1,313.2 576.6,312.9 576.1,312.4 575.6,311.6 575.1,312.0 574.6,311.2 574.1,312.2 573.6,311.7 573.1,313.2 572.6,311.8 572.1,311.4 571.6,311.8 571.1,310.9 570.6,311.8 570.1,312.3 569.6,311.8 569.1,311.1 568.6,312.3 568.1,310.7 567.6,311.1 567.1,310.5 566.6,309.8 566.1,310.8 565.6,310.0 565.1,310.1 564.6,308.9 564.1,309.5 563.6,309.4 563.1,310.3 562.6,309.2 562.1,310.3 561.6,310.4 561.1,310.8 560.6,309.7 560.1,310.5 559.6,309.9 559.1,309.9 558.6,310.3 558.1,310.3 557.6,310.4 557.1,309.8 556.6,310.0 556.1,308.6 555.6,309.2 555.1,309.6 554.6,309.4 554.1,310.1 553.6,309.0 553.1,309.7 552.6,308.3 552.1,309.1 551.6,308.3 551.1,308.4 550.6,309.0 550.1,308.8 549.6,308.2 549.1,308.7 548.6,308.9 548.1,308.8 547.6,309.4 547.1,309.2 546.6,308.7 546.1,308.2 545.6,307.5 545.1,307.9 544.6,307.0 544.1,306.8 543.6,306.7 543.1,306.1 542.6,307.2 542.1,306.5 541.6,307.9 541.1,305.7 540.6,307.2 540.1,306.9 539.6,307.8 539.1,306.8 538.6,307.8 538.1,307.6 537.6,307.7 537.1,307.2 536.6,307.8 536.1,307.3 535.6,307.0 535.1,306.6 534.6,306.4 534.1,305.8 533.6,305.1 533.1,306.3 532.6,304.8 532.1,306.0 531.6,305.6 531.1,305.8 530.6,306.0 530.1,306.5 529.6,306.3 529.1,306.4 528.6,306.9 528.1,306.5 527.6,306.7 527.1,307.7 526.6,306.1 526.1,305.2 525.6,306.6 525.1,305.6 524.6,305.4 524.1,304.8 523.6,304.6 523.1,305.4 522.6,303.9 522.1,303.8 521.6,304.5 521.1,304.9 520.6,305.4 520.1,304.3 519.6,304.2 519.1,304.1 518.6,304.7 518.1,304.0 517.6,304.1 517.1,304.2 516.6,304.2 516.1,303.5 515.6,303.5 515.1,303.4 514.6,303.8 514.1,303.3 513.6,304.0 513.1,304.1 512.6,305.6 512.1,303.5 511.6,303.6 511.1,303.3 510.6,302.3 510.1,301.6 509.6,301.3 509.1,301.9 508.6,302.0 508.1,301.8 507.6,302.2 507.1,302.6 506.6,303.2 506.1,302.7 505.6,303.0 505.1,302.8 504.6,301.3 504.1,301.4 503.6,301.5 503.1,301.5 502.6,301.1 502.1,301.1 501.6,301.9 501.1,301.2 500.6,302.0 500.1,301.3 499.6,303.0 499.1,300.0 498.6,299.7 498.1,299.8 497.6,299.4 497.1,300.4 496.6,300.0 496.1,301.4 495.6,301.6 495.1,300.0 494.6,300.2 494.1,299.8 493.6,298.6 493.1,299.2 492.6,297.8 492.1,299.4 491.6,298.4 491.1,297.7 490.6,298.7 490.1,298.8 489.6,299.1 489.1,299.6 488.6,300.2 488.1,299.3 487.6,298.9 487.1,298.7 486.6,298.6 486.1,298.2 485.6,298.9 485.1,298.5 484.6,298.7 484.1,298.0 483.6,297.4 483.1,298.3 482.6,297.9 482.1,298.3 481.6,298.1 481.1,297.6 480.6,298.5 480.1,297.4 479.6,297.0 479.1,296.6 478.6,296.8 478.1,296.6 477.6,296.9 477.1,296.6 476.6,296.2 476.1,296.2 475.6,296.3 475.1,296.8 474.6,297.2 474.1,294.8 473.6,295.2 473.1,295.9 472.6,295.9 472.1,296.0 471.6,295.6 471.1,294.9 470.6,295.2 470.1,295.0 469.6,295.7 469.1,296.3 468.6,295.9 468.1,295.9 467.6,295.2 467.1,296.1 466.6,294.5 466.1,294.5 465.6,294.9 465.1,295.1 464.6,293.5 464.1,293.6 463.6,293.6 463.1,292.7 462.6,293.7 462.1,292.8 461.6,293.9 461.1,292.3 460.6,293.2 460.1,291.8 459.6,292.4 459.1,291.6 458.6,292.0 458.1,291.4 457.6,290.9 457.1,290.3 456.6,291.2 456.1,291.2 455.6,290.5 455.1,290.9 454.6,289.9 454.1,290.6 453.6,291.4 453.1,291.0 452.6,290.9 452.1,290.6 451.6,291.3 451.1,291.0 450.6,291.7 450.1,290.0 449.6,289.1 449.1,289.7 448.6,290.6 448.1,289.4 447.6,290.1 447.1,290.2 446.6,291.3 446.1,289.1 445.6,291.3 445.1,291.1 444.6,289.0 444.1,289.2 443.6,288.8 443.1,287.9 442.6,288.4 442.1,289.5 441.6,288.0 441.1,289.1 440.6,288.4 440.1,287.9 439.6,288.7 439.1,288.4 438.6,287.4 438.1,288.6 437.6,287.8 437.1,287.5 436.6,286.6 436.1,287.7 435.6,286.4 435.1,286.3 434.6,286.4 434.1,285.9 433.6,285.2 433.1,286.1 432.6,285.3 432.1,284.9 431.6,285.3 431.1,285.3 430.6,285.1 430.1,284.8 429.6,284.8 429.1,283.7 428.6,284.1 428.1,283.9 427.6,284.5 427.1,283.9 426.6,283.6 426.1,282.9 425.6,283.0 425.1,282.5 424.6,283.1 424.1,281.5 423.6,281.8 423.1,281.3 422.6,281.3 422.1,281.3 421.6,281.6 421.1,282.0 420.6,280.4 420.1,280.5 419.6,279.7 419.1,278.9 418.6,278.7 418.1,278.1 417.6,277.6 417.1,277.1 416.6,276.3 416.1,276.2 415.6,278.5 415.1,277.1 414.6,276.7 414.1,276.9 413.6,278.3 413.1,276.7 412.6,277.6 412.1,275.3 411.6,276.0 411.1,275.7 410.6,275.2 410.1,275.4 409.6,276.6 409.1,274.8 408.6,275.1 408.1,274.3 407.6,274.6 407.1,274.8 406.6,275.0 406.1,273.7 405.6,273.6 405.1,273.8 404.6,274.9 404.1,274.8 403.6,273.1 403.1,273.5 402.6,273.1 402.1,272.5 401.6,272.3 401.1,270.2 400.6,270.1 400.1,269.4 399.6,269.8 399.1,268.5 398.6,268.2 398.1,269.4 397.6,267.5 397.1,268.3 396.6,267.8 396.1,267.0 395.6,267.8 395.1,267.8 394.6,266.8 394.1,265.8 393.6,265.3 393.1,266.2 392.6,264.1 392.1,263.6 391.6,263.6 391.1,263.1 390.6,262.0 390.1,261.7 389.6,261.2 389.1,260.5 388.6,259.8 388.1,260.1 387.6,258.9 387.1,259.3 386.6,258.0 386.1,258.1 385.6,257.5 385.1,257.2 384.6,257.1 384.1,256.0 383.6,255.1 383.1,255.2 382.6,254.3 382.1,253.2 381.6,252.1 381.1,250.7 380.6,251.0 380.1,248.7 379.6,248.7 379.1,247.0 378.6,245.4 378.1,244.9 377.6,246.3 377.1,247.3 376.6,249.3 376.1,250.0 375.6,336.8 375.1,337.8 374.6,338.2 374.1,336.8 373.6,337.8 373.1,336.9 372.6,337.1 372.1,337.1 371.6,336.8 371.1,337.1 370.6,338.4 370.1,335.6 369.6,337.3 369.1,337.6 368.6,337.4 368.1,337.2 367.6,336.6 367.1,337.3 366.6,336.8 366.1,336.1 365.6,337.1 365.1,337.0 364.6,337.8 364.1,337.2 363.6,337.2 363.1,338.8 362.6,337.4 362.1,337.1 361.6,338.8 361.1,337.0 360.6,336.3 360.1,338.3 359.6,336.9 359.1,335.8 358.6,336.3 358.1,336.6 357.6,335.7 357.1,336.9 356.6,336.2 356.1,335.7 355.6,336.7 355.1,337.8 354.6,336.2 354.1,337.1 353.6,337.5 353.1,336.6 352.6,336.6 352.1,337.0 351.6,337.7 351.1,336.3 350.6,336.1 350.1,337.7 349.6,337.0 349.1,336.9 348.6,336.8 348.1,336.8 347.6,336.8 347.1,336.9 346.6,337.7 346.1,338.9 345.6,337.7 345.1,336.3 344.6,338.3 344.1,338.5 343.6,336.3 343.1,337.2 342.6,336.6 342.1,336.6 341.6,335.1 341.1,334.4 340.6,335.7 340.1,335.5 339.6,335.6 339.1,334.9 338.6,334.7 338.1,335.5 337.6,337.9 337.1,336.4 336.6,336.0 336.1,338.7 335.6,336.8 335.1,336.8 334.6,336.4 334.1,336.9 333.6,336.7 333.1,336.8 332.6,337.2 332.1,337.4 331.6,337.8 331.1,336.4 330.6,336.4 330.1,336.2 329.6,337.1 329.1,337.0 328.6,336.1 328.1,337.3 327.6,338.2 327.1,335.8 326.6,336.6 326.1,336.1 325.6,335.4 325.1,334.7 324.6,334.7 324.1,335.9 323.6,336.6 323.1,335.1 322.6,336.1 322.1,338.3 321.6,336.3 321.1,337.0 320.6,336.4 320.1,337.6 319.6,337.9 319.1,335.3 318.6,336.5 318.1,334.4 317.6,335.9 317.1,337.4 316.6,336.2 316.1,336.9 315.6,336.8 315.1,336.4 314.6,337.3 314.1,337.0 313.6,337.1 313.1,337.2 312.6,337.1 312.1,336.7 311.6,338.2 311.1,337.6 310.6,338.1 310.1,337.7 309.6,338.0 309.1,337.5 308.6,336.7 308.1,337.8 307.6,336.9 307.1,335.8 306.6,336.2 306.1,336.2 305.6,336.9 305.1,336.3 304.6,336.4 304.1,336.7 303.6,338.1 303.1,336.4 302.6,337.3 302.1,335.9 301.6,336.6 301.1,335.7 300.6,335.2 300.1,336.8 299.6,334.7 299.1,335.8 298.6,337.1 298.1,337.3 297.6,335.3 297.1,336.7 296.6,335.6 296.1,335.6 295.6,335.3 295.1,336.5 294.6,334.8 294.1,334.4 293.6,335.3 293.1,335.9 292.6,334.7 292.1,334.6 291.6,334.8 291.1,336.3 290.6,336.2 290.1,337.0 289.6,335.1 289.1,336.2 288.6,336.1 288.1,335.2 287.6,336.9 287.1,336.0 286.6,336.1 286.1,335.4 285.6,335.6 285.1,336.0 284.6,337.8 284.1,335.2 283.6,335.5 283.1,336.8 282.6,335.5 282.1,336.3 281.6,335.5 281.1,336.8 280.6,337.3 280.1,336.4 279.6,335.4 279.1,335.4 278.6,336.2 278.1,335.7 277.6,337.2 277.1,334.1 276.6,334.1 276.1,335.1 275.6,334.8 275.1,336.1 274.6,336.0 274.1,337.3 273.6,338.2 273.1,336.1 272.6,336.1 272.1,338.2 271.6,338.6 271.1,335.1 270.6,337.0 270.1,334.6 269.6,335.3 269.1,336.6 268.6,335.4 268.1,336.2 267.6,336.6 267.1,335.4 266.6,336.7 266.1,335.5 265.6,337.1 265.1,336.1 264.6,335.5 264.1,334.8 263.6,335.2 263.1,334.8 262.6,334.6 262.1,335.8 261.6,335.7 261.1,336.2 260.6,336.0 260.1,336.8 259.6,336.1 259.1,336.3 258.6,335.7 258.1,335.5 257.6,336.4 257.1,336.3 256.6,335.8 256.1,336.8 255.6,334.7 255.1,335.8 254.6,335.6 254.1,336.8 253.6,336.3 253.1,337.5 252.6,336.8 252.1,336.5 251.6,336.2 251.1,338.3 250.6,336.8 250.1,336.7 249.6,337.6 249.1,336.3 248.6,337.1 248.1,337.4 247.6,337.4 247.1,338.3 246.6,338.0 246.1,337.5 245.6,337.7 245.1,336.9 244.6,338.2 244.1,336.4 243.6,336.9 243.1,335.6 242.6,336.7 242.1,336.3 241.6,337.2 241.1,336.2 240.6,337.0 240.1,337.8 239.6,338.3 239.1,336.9 238.6,336.7 238.1,337.5 237.6,336.8 237.1,337.2 236.6,336.8 236.1,336.8 235.6,336.5 235.1,336.0 234.6,336.9 234.1,337.4 233.6,336.9 233.1,337.8 232.6,336.8 232.1,337.4 231.6,338.4 231.1,337.2 230.6,338.7 230.1,339.0 229.6,338.4 229.1,338.5 228.6,337.8 228.1,338.0 227.6,337.7 227.1,337.1 226.6,337.9 226.1,339.0 225.6,338.0 225.1,336.8 224.6,336.9 224.1,336.0 223.6,336.9 223.1,336.9 222.6,335.9 222.1,337.4 221.6,336.9 221.1,338.4 220.6,336.3 220.1,336.5 219.6,337.3 219.1,338.1 218.6,336.9 218.1,336.9 217.6,336.7 217.1,335.8 216.6,336.7 216.1,337.6 215.6,338.5 215.1,338.5 214.6,338.6 214.1,339.6 213.6,338.0 213.1,338.9 212.6,340.3 212.1,340.4 211.6,341.7 211.1,338.9 210.6,339.5 210.1,339.0 209.6,340.9 209.1,340.7 208.6,340.8 208.1,340.3 207.6,340.0 207.1,340.2 206.6,340.3 206.1,340.0 205.6,341.8 205.1,340.7 204.6,339.9 204.1,340.7 203.6,341.4 203.1,340.6 202.6,341.4 202.1,341.9 201.6,340.6 201.1,341.2 200.6,342.0 200.1,341.3 199.6,341.5 199.1,341.3 198.6,342.2 198.1,343.3 197.6,343.4 197.1,342.8 196.6,342.2 196.1,341.5 195.6,341.5 195.1,341.6 194.6,344.3 194.1,342.1 193.6,344.4 193.1,344.3 192.6,343.1 192.1,343.4 191.6,343.4 191.1,344.6 190.6,342.2 190.1,343.0 189.6,343.1 189.1,342.6 188.6,343.4 188.1,342.5 187.6,342.9 187.1,343.0 186.6,343.0 186.1,342.8 185.6,345.2 185.1,343.3 184.6,342.9 184.1,344.2 183.6,345.6 183.1,344.9 182.6,344.8 182.1,345.5 181.6,347.7 181.1,344.8 180.6,345.2 180.1,345.9 179.6,345.6 179.1,345.2 178.6,348.3 178.1,346.8 177.6,346.1 177.1,347.4 176.6,347.4 176.1,348.7 175.6,346.9 175.1,348.0 174.6,349.4 174.1,347.5 173.6,347.7 173.1,347.9 172.6,348.4 172.1,348.5 171.6,347.7 171.1,347.9 170.6,348.7 170.1,349.9 169.6,349.4 169.1,349.4 168.6,349.6 168.1,350.2 167.6,349.9 167.1,350.4 166.6,350.2 166.1,350.6 165.6,352.1 165.1,353.2 164.6,352.3 164.1,352.2 163.6,353.2 163.1,355.6 162.6,353.1 162.1,352.9 161.6,351.5 161.1,353.1 160.6,354.6 160.1,351.2 159.6,350.3 159.1,352.7 158.6,351.9 158.1,351.5 157.6,351.2 157.1,350.3 156.6,353.0 156.1,353.3 155.6,351.7 155.1,351.5 154.6,352.2 154.1,352.4 153.6,351.0 153.1,350.8 152.6,351.5 152.1,354.6 151.6,350.8 151.1,350.8 150.6,350.6 150.1,351.4 149.6,350.0 149.1,351.5 148.6,351.4 148.1,351.2 147.6,352.4 147.1,351.0 146.6,352.3 146.1,351.6 145.6,350.7 145.1,352.7 144.6,352.4 144.1,351.0 143.6,351.6 143.1,351.9 142.6,351.2 142.1,351.1 141.6,352.0 141.1,351.9 140.6,351.4 140.1,351.7 139.6,351.6 139.1,351.6 138.6,350.3 138.1,350.2 137.6,350.5 137.1,349.9 136.6,351.2 136.1,350.8 135.6,350.4 135.1,351.5 134.6,353.8 134.1,350.5 133.6,349.9 133.1,350.1 132.6,350.4 132.1,350.7 131.6,350.2 131.1,350.5 130.6,350.8 130.1,350.7 129.6,350.4 129.1,350.6 128.6,351.8 128.1,351.5 127.6,351.9 127.1,350.7 126.6,352.6 126.1,351.5 125.6,354.2 125.1,351.2 124.6,351.1 124.1,351.1 123.6,351.1 123.1,352.1 122.6,351.7 122.1,351.5 121.6,351.6 121.1,351.3 120.6,350.1 120.1,350.1 119.6,350.8 119.1,351.3 118.6,351.4 118.1,351.9 117.6,350.4 117.1,350.7 116.6,352.4 116.1,355.6 115.6,352.3 115.1,354.0 114.6,350.9 114.1,353.2 113.6,353.6 113.1,351.5 112.6,354.1 112.1,353.0 111.6,354.1 111.1,352.7 110.6,353.4 110.1,353.1 109.6,353.8 109.1,353.0 108.6,352.6 108.1,353.5 107.6,351.7 107.1,352.2 106.6,353.2 106.1,352.2 105.6,352.3 105.1,351.5 104.6,352.6 104.1,351.4 103.6,353.3 103.1,353.1 102.6,352.1 102.1,353.0 101.6,355.6 101.1,353.9 100.6,354.1 100.1,354.5 99.6,354.1 99.1,356.9 98.6,354.8 98.1,354.1 97.6,354.5 97.1,355.6 96.6,355.9 96.1,354.1 95.6,354.2 95.1,353.8 94.6,353.3 94.1,353.4 93.6,354.5 93.1,352.8 92.6,352.5 92.1,352.3 91.6,354.2 91.1,353.1 90.6,354.7 90.1,353.4 89.6,352.5 89.1,352.9 88.6,352.4 88.1,353.1 87.6,351.5 87.1,351.1 86.6,351.7 86.1,352.8 85.6,351.3 85.1,353.1 84.6,352.6 84.1,352.0 83.6,353.2 83.1,352.6 82.6,352.2 82.1,352.8 81.6,352.2 81.1,353.1 80.6,352.9 80.1,353.1 79.6,352.4 79.1,352.8 78.6,354.9 78.1,352.5 77.6,354.5 77.1,352.3 76.6,352.7 76.1,352.7 75.6,352.3 75.1,352.2 74.6,354.8 74.1,353.3 73.6,353.1"/><line x1="375.7" y1="334.2" x2="375.7" y2="242.8" stroke="#4a0cf2" stroke-width="1.1"/><polygon fill="#f7860f" points="73.6,348.5 74.1,348.1 74.6,348.4 75.1,347.7 75.6,348.4 76.1,347.6 76.6,347.7 77.1,347.3 77.6,348.3 78.1,348.4 78.6,348.1 79.1,348.4 79.6,348.3 80.1,347.1 80.6,347.1 81.1,348.2 81.6,348.1 82.1,347.5 82.6,347.6 83.1,347.4 83.6,347.5 84.1,347.2 84.6,347.3 85.1,348.2 85.6,348.3 86.1,347.5 86.6,348.1 87.1,347.4 87.6,347.2 88.1,347.0 88.6,347.5 89.1,347.4 89.6,346.9 90.1,347.1 90.6,347.5 91.1,347.6 91.6,346.5 92.1,346.6 92.6,347.2 93.1,347.0 93.6,346.9 94.1,346.5 94.6,347.4 95.1,348.3 95.6,347.6 96.1,348.1 96.6,346.7 97.1,348.2 97.6,348.6 98.1,348.9 98.6,347.4 99.1,348.1 99.6,348.0 100.1,348.7 100.6,348.4 101.1,346.8 101.6,348.8 102.1,346.4 102.6,347.5 103.1,348.0 103.6,348.2 104.1,348.2 104.6,348.4 105.1,347.2 105.6,348.1 106.1,347.3 106.6,346.8 107.1,347.5 107.6,347.8 108.1,348.4 108.6,348.4 109.1,348.6 109.6,347.9 110.1,347.6 110.6,347.8 111.1,348.7 111.6,348.2 112.1,347.7 112.6,348.2 113.1,347.1 113.6,347.9 114.1,347.9 114.6,347.8 115.1,347.7 115.6,348.1 116.1,347.1 116.6,345.5 117.1,346.0 117.6,346.5 118.1,346.6 118.6,346.2 119.1,346.9 119.6,345.7 120.1,345.5 120.6,346.4 121.1,344.8 121.6,345.5 122.1,346.0 122.6,345.0 123.1,346.0 123.6,345.6 124.1,344.2 124.6,345.4 125.1,345.0 125.6,345.9 126.1,345.5 126.6,346.5 127.1,345.4 127.6,345.8 128.1,345.5 128.6,345.9 129.1,345.7 129.6,346.3 130.1,346.7 130.6,346.8 131.1,345.7 131.6,345.6 132.1,344.8 132.6,346.1 133.1,346.7 133.6,345.6 134.1,346.8 134.6,346.7 135.1,346.5 135.6,346.9 136.1,346.7 136.6,346.0 137.1,345.9 137.6,346.8 138.1,346.0 138.6,346.3 139.1,345.7 139.6,344.9 140.1,345.0 140.6,345.9 141.1,345.7 141.6,346.1 142.1,346.2 142.6,345.6 143.1,346.0 143.6,345.1 144.1,346.1 144.6,345.6 145.1,345.7 145.6,345.1 146.1,346.3 146.6,346.1 147.1,346.2 147.6,345.9 148.1,346.2 148.6,345.9 149.1,346.1 149.6,344.7 150.1,345.5 150.6,344.5 151.1,345.3 151.6,346.0 152.1,346.2 152.6,345.7 153.1,346.9 153.6,346.4 154.1,346.8 154.6,346.3 155.1,346.9 155.6,347.2 156.1,346.1 156.6,347.0 157.1,347.0 157.6,347.2 158.1,346.8 158.6,346.8 159.1,347.1 159.6,345.8 160.1,345.6 160.6,347.0 161.1,346.1 161.6,346.9 162.1,346.7 162.6,345.8 163.1,347.2 163.6,347.1 164.1,347.2 164.6,347.1 165.1,345.9 165.6,347.3 166.1,347.2 166.6,346.5 167.1,345.6 167.6,346.9 168.1,346.4 168.6,347.3 169.1,346.3 169.6,346.6 170.1,347.3 170.6,347.7 171.1,347.5 171.6,347.4 172.1,347.0 172.6,346.2 173.1,346.4 173.6,346.9 174.1,346.4 174.6,347.0 175.1,346.2 175.6,347.2 176.1,347.0 176.6,346.5 177.1,345.3 177.6,346.2 178.1,345.4 178.6,345.2 179.1,345.3 179.6,345.8 180.1,345.4 180.6,344.5 181.1,344.3 181.6,344.2 182.1,344.9 182.6,345.0 183.1,345.4 183.6,345.2 184.1,344.9 184.6,344.0 185.1,344.8 185.6,344.5 186.1,344.9 186.6,344.8 187.1,345.2 187.6,345.1 188.1,344.9 188.6,344.6 189.1,344.8 189.6,345.8 190.1,345.0 190.6,344.4 191.1,344.8 191.6,345.2 192.1,345.1 192.6,344.3 193.1,343.9 193.6,345.2 194.1,345.2 194.6,345.7 195.1,344.7 195.6,345.1 196.1,344.0 196.6,345.1 197.1,344.8 197.6,344.1 198.1,345.3 198.6,344.4 199.1,345.1 199.6,344.4 200.1,344.5 200.6,345.1 201.1,345.6 201.6,344.4 202.1,344.6 202.6,345.0 203.1,345.9 203.6,345.6 204.1,344.2 204.6,345.8 205.1,345.0 205.6,345.5 206.1,344.6 206.6,344.1 207.1,343.6 207.6,344.7 208.1,344.4 208.6,344.8 209.1,344.7 209.6,344.4 210.1,344.7 210.6,345.3 211.1,344.9 211.6,345.7 212.1,345.5 212.6,344.7 213.1,345.2 213.6,344.6 214.1,345.7 214.6,345.2 215.1,345.1 215.6,345.4 216.1,345.1 216.6,344.3 217.1,343.2 217.6,344.7 218.1,344.0 218.6,344.2 219.1,345.3 219.6,344.8 220.1,345.0 220.6,345.0 221.1,344.3 221.6,345.5 222.1,345.4 222.6,344.5 223.1,344.4 223.6,344.5 224.1,345.4 224.6,345.4 225.1,345.2 225.6,344.4 226.1,344.3 226.6,345.6 227.1,345.9 227.6,344.7 228.1,345.2 228.6,345.6 229.1,345.9 229.6,345.7 230.1,344.4 230.6,345.3 231.1,344.0 231.6,345.5 232.1,345.0 232.6,345.5 233.1,345.3 233.6,346.4 234.1,345.7 234.6,344.2 235.1,345.1 235.6,343.5 236.1,345.1 236.6,344.4 237.1,344.5 237.6,345.3 238.1,344.5 238.6,345.2 239.1,345.2 239.6,344.6 240.1,345.8 240.6,345.6 241.1,345.0 241.6,345.6 242.1,345.9 242.6,345.4 243.1,345.0 243.6,345.3 244.1,345.4 244.6,345.7 245.1,345.0 245.6,345.1 246.1,344.8 246.6,344.9 247.1,344.9 247.6,344.2 248.1,345.3 248.6,345.3 249.1,344.5 249.6,345.2 250.1,344.9 250.6,345.0 251.1,344.4 251.6,344.3 252.1,344.7 252.6,344.9 253.1,345.0 253.6,344.4 254.1,344.7 254.6,344.8 255.1,344.8 255.6,344.5 256.1,344.6 256.6,345.4 257.1,344.7 257.6,345.0 258.1,345.3 258.6,344.7 259.1,345.5 259.6,345.7 260.1,345.9 260.6,344.9 261.1,345.1 261.6,345.0 262.1,344.8 262.6,345.9 263.1,345.9 263.6,345.8 264.1,343.6 264.6,346.3 265.1,345.4 265.6,345.5 266.1,346.2 266.6,345.0 267.1,344.7 267.6,345.6 268.1,346.0 268.6,345.3 269.1,344.7 269.6,345.6 270.1,346.1 270.6,345.6 271.1,345.4 271.6,345.2 272.1,344.9 272.6,344.2 273.1,344.7 273.6,344.6 274.1,344.3 274.6,343.9 275.1,343.7 275.6,344.4 276.1,345.0 276.6,345.1 277.1,344.4 277.6,344.3 278.1,345.2 278.6,345.4 279.1,344.7 279.6,345.3 280.1,344.5 280.6,343.8 281.1,345.0 281.6,344.8 282.1,344.7 282.6,344.9 283.1,344.3 283.6,343.4 284.1,344.4 284.6,345.4 285.1,344.8 285.6,345.7 286.1,345.2 286.6,345.5 287.1,344.4 287.6,345.4 288.1,344.1 288.6,344.4 289.1,345.1 289.6,343.8 290.1,343.9 290.6,343.8 291.1,343.5 291.6,343.2 292.1,344.6 292.6,344.7 293.1,345.4 293.6,345.0 294.1,345.0 294.6,344.0 295.1,345.1 295.6,344.4 296.1,345.0 296.6,344.7 297.1,345.4 297.6,344.2 298.1,344.7 298.6,344.8 299.1,345.2 299.6,345.6 300.1,344.2 300.6,345.6 301.1,345.2 301.6,344.9 302.1,345.1 302.6,344.8 303.1,344.3 303.6,345.4 304.1,344.7 304.6,345.1 305.1,345.8 305.6,346.0 306.1,345.2 306.6,346.3 307.1,345.4 307.6,345.6 308.1,345.2 308.6,345.2 309.1,345.6 309.6,345.1 310.1,344.7 310.6,343.5 311.1,346.1 311.6,344.4 312.1,344.6 312.6,343.9 313.1,343.6 313.6,345.4 314.1,344.3 314.6,344.7 315.1,345.1 315.6,344.8 316.1,344.8 316.6,345.3 317.1,345.5 317.6,345.5 318.1,345.3 318.6,344.7 319.1,345.3 319.6,345.8 320.1,345.0 320.6,344.0 321.1,344.2 321.6,345.6 322.1,346.0 322.6,345.6 323.1,345.9 323.6,345.3 324.1,345.4 324.6,344.9 325.1,345.4 325.6,344.4 326.1,344.2 326.6,345.1 327.1,344.5 327.6,345.0 328.1,345.3 328.6,345.4 329.1,345.7 329.6,344.8 330.1,344.5 330.6,346.2 331.1,345.3 331.6,345.6 332.1,345.3 332.6,345.5 333.1,346.2 333.6,344.8 334.1,344.7 334.6,345.6 335.1,345.8 335.6,344.2 336.1,345.2 336.6,344.0 337.1,345.1 337.6,345.3 338.1,344.8 338.6,344.1 339.1,344.9 339.6,346.1 340.1,345.8 340.6,345.3 341.1,345.8 341.6,345.6 342.1,345.7 342.6,345.8 343.1,344.1 343.6,345.8 344.1,345.0 344.6,345.0 345.1,345.4 345.6,344.3 346.1,345.6 346.6,346.1 347.1,345.6 347.6,346.1 348.1,345.6 348.6,346.2 349.1,345.1 349.6,345.6 350.1,346.2 350.6,346.0 351.1,346.3 351.6,344.9 352.1,345.3 352.6,345.2 353.1,344.1 353.6,344.8 354.1,345.5 354.6,344.5 355.1,345.1 355.6,345.0 356.1,344.1 356.6,345.0 357.1,345.0 357.6,345.5 358.1,344.9 358.6,344.3 359.1,344.9 359.6,345.3 360.1,344.1 360.6,345.8 361.1,343.7 361.6,345.4 362.1,344.4 362.6,346.1 363.1,345.5 363.6,345.1 364.1,345.2 364.6,345.4 365.1,344.9 365.6,345.2 366.1,344.8 366.6,343.8 367.1,345.6 367.6,344.0 368.1,345.4 368.6,343.6 369.1,344.6 369.6,344.4 370.1,345.0 370.6,344.1 371.1,343.5 371.6,344.5 372.1,344.8 372.6,345.0 373.1,344.4 373.6,345.2 374.1,344.3 374.6,344.5 375.1,345.4 375.6,345.5 376.1,321.2 376.6,318.7 377.1,316.6 377.6,319.0 378.1,318.2 378.6,317.0 379.1,315.8 379.6,316.3 380.1,316.2 380.6,316.4 381.1,317.1 381.6,316.7 382.1,317.8 382.6,317.2 383.1,317.0 383.6,317.4 384.1,317.5 384.6,317.0 385.1,316.2 385.6,316.8 386.1,317.9 386.6,318.1 387.1,318.4 387.6,318.2 388.1,317.6 388.6,318.4 389.1,317.4 389.6,318.7 390.1,317.4 390.6,317.5 391.1,319.4 391.6,318.5 392.1,319.6 392.6,319.1 393.1,319.4 393.6,319.7 394.1,319.0 394.6,320.2 395.1,319.7 395.6,318.7 396.1,319.4 396.6,320.9 397.1,319.8 397.6,320.6 398.1,320.5 398.6,319.9 399.1,321.0 399.6,320.4 400.1,319.5 400.6,320.9 401.1,320.7 401.6,321.2 402.1,321.4 402.6,320.1 403.1,320.8 403.6,319.8 404.1,321.0 404.6,321.0 405.1,320.7 405.6,321.8 406.1,321.6 406.6,320.9 407.1,322.0 407.6,322.0 408.1,322.4 408.6,321.8 409.1,320.6 409.6,320.8 410.1,322.1 410.6,322.4 411.1,322.8 411.6,322.8 412.1,322.3 412.6,322.9 413.1,322.7 413.6,322.8 414.1,322.1 414.6,322.7 415.1,321.4 415.6,322.4 416.1,321.6 416.6,322.2 417.1,322.1 417.6,323.0 418.1,322.0 418.6,321.8 419.1,322.8 419.6,322.4 420.1,322.1 420.6,322.4 421.1,321.8 421.6,323.1 422.1,322.4 422.6,322.8 423.1,322.4 423.6,322.0 424.1,323.0 424.6,323.0 425.1,323.8 425.6,324.1 426.1,322.5 426.6,323.9 427.1,323.9 427.6,324.4 428.1,322.8 428.6,323.7 429.1,323.4 429.6,323.5 430.1,324.5 430.6,323.9 431.1,324.2 431.6,324.0 432.1,325.0 432.6,324.9 433.1,325.6 433.6,325.6 434.1,325.2 434.6,325.4 435.1,325.0 435.6,325.3 436.1,325.7 436.6,325.6 437.1,325.9 437.6,325.9 438.1,326.2 438.6,325.5 439.1,326.1 439.6,325.7 440.1,325.5 440.6,326.3 441.1,325.5 441.6,326.7 442.1,326.9 442.6,326.6 443.1,327.2 443.6,325.8 444.1,326.8 444.6,326.1 445.1,326.0 445.6,326.6 446.1,326.2 446.6,327.0 447.1,326.5 447.6,326.8 448.1,326.2 448.6,327.0 449.1,327.6 449.6,326.3 450.1,327.3 450.6,327.3 451.1,327.2 451.6,326.5 452.1,326.8 452.6,326.3 453.1,325.9 453.6,326.5 454.1,326.5 454.6,325.7 455.1,326.7 455.6,326.5 456.1,327.0 456.6,328.1 457.1,327.6 457.6,326.9 458.1,327.6 458.6,327.2 459.1,328.0 459.6,327.8 460.1,327.3 460.6,328.0 461.1,327.8 461.6,327.2 462.1,327.5 462.6,328.0 463.1,327.0 463.6,327.4 464.1,327.0 464.6,327.9 465.1,327.3 465.6,327.9 466.1,328.7 466.6,328.9 467.1,328.7 467.6,327.3 468.1,328.6 468.6,328.1 469.1,328.7 469.6,328.7 470.1,329.6 470.6,329.3 471.1,327.8 471.6,327.3 472.1,328.7 472.6,328.0 473.1,327.9 473.6,329.0 474.1,329.1 474.6,328.9 475.1,329.7 475.6,329.4 476.1,329.1 476.6,329.0 477.1,329.4 477.6,328.8 478.1,328.9 478.6,327.5 479.1,328.7 479.6,328.6 480.1,329.4 480.6,329.6 481.1,329.6 481.6,328.9 482.1,328.3 482.6,328.2 483.1,328.8 483.6,328.1 484.1,328.5 484.6,329.1 485.1,328.6 485.6,329.0 486.1,328.9 486.6,329.3 487.1,330.0 487.6,329.6 488.1,328.9 488.6,329.8 489.1,328.9 489.6,329.1 490.1,330.5 490.6,330.6 491.1,330.4 491.6,331.1 492.1,330.9 492.6,330.5 493.1,330.9 493.6,330.5 494.1,329.9 494.6,329.9 495.1,329.7 495.6,329.5 496.1,330.6 496.6,329.8 497.1,329.9 497.6,330.4 498.1,331.0 498.6,330.1 499.1,331.2 499.6,330.4 500.1,330.8 500.6,330.9 501.1,331.5 501.6,330.6 502.1,331.3 502.6,330.9 503.1,331.6 503.6,331.2 504.1,331.4 504.6,330.4 505.1,331.6 505.6,331.5 506.1,331.7 506.6,331.4 507.1,331.5 507.6,330.8 508.1,331.8 508.6,330.9 509.1,331.5 509.6,331.7 510.1,331.8 510.6,331.3 511.1,331.3 511.6,332.0 512.1,332.0 512.6,331.6 513.1,331.2 513.6,331.1 514.1,330.1 514.6,330.6 515.1,331.4 515.6,331.0 516.1,330.5 516.6,331.1 517.1,331.4 517.6,331.1 518.1,331.7 518.6,332.0 519.1,332.1 519.6,332.4 520.1,331.8 520.6,331.7 521.1,332.3 521.6,331.5 522.1,331.5 522.6,331.2 523.1,330.9 523.6,331.5 524.1,332.6 524.6,332.3 525.1,331.9 525.6,332.0 526.1,332.3 526.6,331.5 527.1,332.7 527.6,332.9 528.1,331.2 528.6,332.0 529.1,331.9 529.6,331.6 530.1,331.8 530.6,331.3 531.1,331.6 531.6,330.6 532.1,332.5 532.6,330.1 533.1,332.6 533.6,331.7 534.1,331.9 534.6,332.3 535.1,332.2 535.6,333.2 536.1,331.4 536.6,332.6 537.1,331.9 537.6,331.6 538.1,331.9 538.6,332.1 539.1,330.9 539.6,332.1 540.1,332.1 540.6,332.6 541.1,331.7 541.6,332.9 542.1,332.7 542.6,331.5 543.1,332.8 543.6,333.1 544.1,333.2 544.6,331.5 545.1,333.8 545.6,332.9 546.1,332.7 546.6,333.1 547.1,332.9 547.6,333.2 548.1,332.7 548.6,332.2 549.1,332.5 549.6,332.8 550.1,331.3 550.6,332.8 551.1,332.1 551.6,331.9 552.1,332.6 552.6,332.8 553.1,333.4 553.6,332.7 554.1,333.2 554.6,332.2 555.1,332.9 555.6,333.3 556.1,333.3 556.6,332.6 557.1,332.8 557.6,333.0 558.1,331.9 558.6,332.8 559.1,332.8 559.6,332.5 560.1,333.2 560.6,331.7 561.1,333.4 561.6,333.8 562.1,333.4 562.6,333.4 563.1,333.6 563.6,333.5 564.1,332.8 564.6,330.9 565.1,333.5 565.6,332.2 566.1,333.7 566.6,333.6 567.1,333.6 567.6,334.1 568.1,333.2 568.6,333.4 569.1,333.8 569.6,333.7 570.1,333.2 570.6,332.0 571.1,332.3 571.6,333.3 572.1,333.6 572.6,333.3 573.1,333.8 573.6,333.8 574.1,332.9 574.6,334.4 575.1,334.1 575.6,334.2 576.1,333.4 576.6,334.5 577.1,334.0 577.6,333.2 578.1,332.9 578.6,333.1 579.1,332.7 579.6,333.1 580.1,333.1 580.6,333.5 581.1,333.2 581.6,333.7 582.1,334.3 582.6,333.8 583.1,334.6 583.6,332.9 584.1,333.7 584.6,334.5 585.1,333.4 585.6,333.2 586.1,333.5 586.6,332.3 587.1,332.0 587.6,332.3 588.1,333.0 588.6,333.1 589.1,332.9 589.6,333.6 590.1,334.2 590.6,333.4 591.1,332.7 591.6,333.6 592.1,333.1 592.6,333.7 593.1,333.9 593.6,334.4 594.1,333.9 594.6,334.7 595.1,332.3 595.6,334.2 596.1,334.0 596.6,333.8 597.1,333.5 597.6,333.3 598.1,333.9 598.6,333.3 599.1,334.1 599.6,333.4 600.1,335.1 600.6,333.8 601.1,333.9 601.6,334.6 602.1,334.4 602.6,335.6 603.1,334.0 603.6,335.2 604.1,334.9 604.6,335.1 605.1,334.1 605.6,334.1 606.1,334.7 606.6,335.1 607.1,334.0 607.6,334.3 608.1,335.7 608.6,335.2 609.1,335.5 609.6,334.4 610.1,335.3 610.6,335.3 611.1,334.6 611.6,334.7 612.1,333.9 612.6,335.0 613.1,335.2 613.6,334.1 614.1,334.3 614.6,334.7 615.1,335.1 615.6,334.1 616.1,334.2 616.6,334.8 617.1,334.0 617.6,333.8 618.1,334.4 618.6,334.6 619.1,334.8 619.6,334.6 620.1,334.2 620.6,334.0 621.1,334.5 621.6,334.6 622.1,334.4 622.6,334.2 623.1,335.4 623.6,334.5 624.1,334.3 624.6,334.3 625.1,334.9 625.6,335.2 626.1,334.1 626.6,335.3 627.1,333.6 627.6,334.9 628.1,334.0 628.6,334.4 629.1,334.6 629.6,334.4 630.1,335.0 630.6,334.8 631.1,334.3 631.6,334.2 632.1,333.6 632.6,333.7 633.1,333.9 633.6,334.6 634.1,333.8 634.6,333.8 635.1,333.9 635.6,333.7 636.1,334.2 636.6,334.9 637.1,334.9 637.6,334.5 638.1,335.0 638.6,334.8 639.1,334.6 639.6,334.2 640.1,334.5 640.6,334.2 641.1,333.6 641.6,334.3 642.1,334.3 642.6,334.3 643.1,333.5 643.6,334.2 644.1,334.4 644.6,334.8 645.1,334.9 645.6,335.5 646.1,334.8 646.6,334.3 647.1,335.1 647.6,335.3 648.1,334.3 648.6,335.6 649.1,334.3 649.6,335.3 650.1,334.7 650.6,335.9 651.1,335.3 651.6,335.7 652.1,335.4 652.6,334.5 653.1,334.4 653.6,335.6 654.1,334.7 654.6,334.3 655.1,335.2 655.6,335.8 656.1,335.0 656.6,334.6 657.1,335.5 657.6,335.6 658.1,335.2 658.6,334.6 659.1,334.8 659.6,334.4 660.1,335.0 660.6,335.5 661.1,335.6 661.6,335.5 662.1,335.9 662.6,335.8 663.1,335.3 663.6,334.8 664.1,335.2 664.6,335.1 665.1,335.5 665.6,335.2 666.1,335.5 666.6,335.7 667.1,334.7 667.6,335.5 668.1,336.0 668.6,335.4 669.1,335.0 669.6,335.6 670.1,335.5 670.6,335.2 671.1,335.8 671.6,335.1 672.1,334.7 672.6,334.5 673.1,334.8 673.6,335.0 674.1,334.7 674.6,334.2 675.1,335.1 675.6,335.5 676.1,335.4 676.6,335.1 677.1,335.2 677.6,334.4 678.1,335.2 678.6,335.0 679.1,335.1 679.6,334.8 680.1,335.2 680.6,334.6 681.1,334.7 681.6,335.2 682.1,336.1 682.6,335.9 683.1,335.1 683.6,335.2 684.1,335.5 684.6,334.4 685.1,336.0 685.6,334.3 686.1,335.4 686.6,334.7 687.1,334.0 687.6,335.5 688.1,334.0 688.6,334.2 689.1,334.7 689.6,334.8 690.1,335.2 690.6,335.0 691.1,334.5 691.6,334.7 692.1,333.5 692.6,334.7 693.1,335.0 693.6,335.5 694.1,335.8 694.6,334.6 695.1,335.4 695.6,335.2 696.1,334.2 696.6,336.1 697.1,335.6 697.6,335.5 698.1,336.1 698.6,335.8 699.1,335.8 699.6,335.2 700.1,335.1 700.6,335.5 701.1,334.9 701.6,335.1 702.1,334.7 702.6,335.5 703.1,335.3 703.6,335.4 704.1,335.0 704.6,334.9 705.1,335.3 705.6,335.2 706.1,335.3 706.6,335.4 707.1,334.5 707.6,335.7 708.1,334.1 708.6,335.5 709.1,335.6 709.6,335.8 710.1,336.2 710.6,335.3 711.1,336.0 711.6,336.0 712.1,336.0 712.6,336.1 713.1,336.3 713.6,335.4 714.1,335.2 714.6,336.5 715.1,334.2 715.6,336.6 716.1,335.4 716.6,335.5 717.1,335.3 717.6,348.4 718.1,349.6 718.6,350.2 719.1,350.2 719.6,349.9 720.1,349.9 720.6,349.7 721.1,348.7 721.6,349.2 722.1,350.0 722.6,350.2 723.1,349.6 723.6,349.9 724.1,348.1 724.6,349.2 725.1,349.3 725.6,349.2 726.1,349.4 726.6,347.8 727.1,349.4 727.6,348.2 728.1,349.2 728.6,349.1 729.1,348.4 729.6,349.0 730.1,348.6 730.6,349.1 731.1,349.2 731.6,349.0 732.1,349.1 732.6,349.1 733.1,348.2 733.6,348.7 734.1,348.5 734.6,348.4 735.1,347.2 735.6,348.2 736.1,348.6 736.6,348.2 737.1,347.4 737.6,348.2 738.1,348.4 738.6,347.9 739.1,348.8 739.6,348.2 740.1,348.2 740.6,348.4 741.1,348.9 741.6,347.7 742.1,348.4 742.6,348.2 743.1,348.3 743.6,347.3 744.1,347.6 744.6,348.0 745.1,348.7 745.6,348.3 746.1,348.3 746.6,348.2 747.1,348.0 747.6,348.4 748.1,349.4 748.6,348.5 749.1,348.8 749.6,349.2 750.1,348.8 750.6,348.8 751.1,348.8 751.6,349.1 752.1,348.2 752.6,347.3 753.1,348.6 753.6,348.9 754.1,349.1 754.6,348.6 755.1,347.8 755.6,348.8 756.1,347.6 756.6,347.3 757.1,349.0 757.6,348.9 758.1,348.1 758.6,348.4 759.1,348.6 759.6,348.8 759.6,353.5 759.1,353.2 758.6,354.0 758.1,352.7 757.6,353.7 757.1,354.3 756.6,353.3 756.1,352.3 755.6,353.3 755.1,353.4 754.6,352.9 754.1,353.7 753.6,353.2 753.1,353.0 752.6,353.0 752.1,354.1 751.6,354.5 751.1,353.2 750.6,353.3 750.1,353.1 749.6,354.4 749.1,354.2 748.6,353.9 748.1,354.2 747.6,353.2 747.1,353.2 746.6,353.3 746.1,353.7 745.6,352.9 745.1,353.8 744.6,353.2 744.1,353.0 743.6,353.4 743.1,354.2 742.6,352.9 742.1,354.7 741.6,352.9 741.1,353.1 740.6,353.4 740.1,352.8 739.6,353.2 739.1,354.5 738.6,353.4 738.1,352.3 737.6,352.8 737.1,352.3 736.6,353.3 736.1,353.0 735.6,353.7 735.1,352.8 734.6,353.6 734.1,353.4 733.6,354.4 733.1,353.5 732.6,354.3 732.1,353.6 731.6,353.6 731.1,353.6 730.6,353.4 730.1,353.5 729.6,353.3 729.1,354.0 728.6,353.7 728.1,353.5 727.6,353.2 727.1,354.2 726.6,353.3 726.1,354.0 725.6,353.6 725.1,353.9 724.6,353.5 724.1,353.8 723.6,354.5 723.1,354.4 722.6,354.1 722.1,354.7 721.6,355.2 721.1,354.4 720.6,354.9 720.1,354.0 719.6,354.6 719.1,354.8 718.6,354.2 718.1,353.9 717.6,354.3 717.1,340.1 716.6,340.9 716.1,340.2 715.6,340.5 715.1,340.0 714.6,340.5 714.1,341.3 713.6,340.4 713.1,340.3 712.6,340.7 712.1,340.6 711.6,341.3 711.1,340.0 710.6,339.7 710.1,340.4 709.6,339.8 709.1,340.8 708.6,340.9 708.1,339.8 707.6,340.2 707.1,340.2 706.6,339.9 706.1,340.9 705.6,340.7 705.1,340.3 704.6,339.8 704.1,339.5 703.6,340.0 703.1,339.3 702.6,340.0 702.1,339.4 701.6,340.9 701.1,340.2 700.6,340.4 700.1,341.8 699.6,339.7 699.1,340.1 698.6,340.2 698.1,340.0 697.6,340.0 697.1,340.1 696.6,341.8 696.1,340.3 695.6,339.6 695.1,340.2 694.6,339.5 694.1,340.2 693.6,340.3 693.1,339.3 692.6,339.9 692.1,340.0 691.6,339.8 691.1,340.3 690.6,339.6 690.1,339.9 689.6,339.0 689.1,339.8 688.6,339.7 688.1,339.7 687.6,340.8 687.1,340.4 686.6,340.0 686.1,339.7 685.6,339.6 685.1,341.3 684.6,341.6 684.1,339.8 683.6,340.2 683.1,340.7 682.6,340.3 682.1,339.9 681.6,339.7 681.1,341.0 680.6,340.5 680.1,339.4 679.6,339.6 679.1,339.9 678.6,339.4 678.1,340.2 677.6,339.5 677.1,339.6 676.6,339.7 676.1,340.2 675.6,340.9 675.1,339.6 674.6,339.4 674.1,339.6 673.6,339.5 673.1,340.1 672.6,339.3 672.1,339.0 671.6,340.0 671.1,339.9 670.6,340.0 670.1,340.4 669.6,339.7 669.1,340.0 668.6,339.3 668.1,340.1 667.6,340.6 667.1,340.7 666.6,340.3 666.1,340.2 665.6,340.3 665.1,339.4 664.6,339.3 664.1,339.2 663.6,340.1 663.1,339.7 662.6,340.3 662.1,340.2 661.6,341.2 661.1,341.3 660.6,340.2 660.1,340.5 659.6,339.9 659.1,340.2 658.6,339.4 658.1,340.0 657.6,339.8 657.1,340.3 656.6,340.5 656.1,340.2 655.6,339.9 655.1,339.8 654.6,341.2 654.1,339.4 653.6,340.0 653.1,340.0 652.6,339.4 652.1,339.4 651.6,340.5 651.1,339.9 650.6,340.4 650.1,339.6 649.6,339.8 649.1,339.5 648.6,339.4 648.1,339.3 647.6,340.4 647.1,340.6 646.6,339.6 646.1,339.8 645.6,340.3 645.1,339.2 644.6,339.8 644.1,340.3 643.6,339.2 643.1,339.5 642.6,339.3 642.1,339.0 641.6,339.1 641.1,338.9 640.6,339.5 640.1,339.3 639.6,338.6 639.1,338.7 638.6,338.7 638.1,339.5 637.6,340.4 637.1,339.5 636.6,339.2 636.1,339.1 635.6,339.1 635.1,340.1 634.6,339.4 634.1,339.4 633.6,338.5 633.1,338.1 632.6,338.9 632.1,338.1 631.6,338.7 631.1,339.1 630.6,339.2 630.1,338.8 629.6,339.2 629.1,340.2 628.6,338.4 628.1,338.7 627.6,338.9 627.1,339.0 626.6,339.1 626.1,339.0 625.6,339.6 625.1,339.5 624.6,339.3 624.1,339.3 623.6,339.1 623.1,339.6 622.6,338.9 622.1,338.8 621.6,339.0 621.1,339.7 620.6,339.5 620.1,339.6 619.6,339.1 619.1,339.7 618.6,339.1 618.1,338.8 617.6,339.2 617.1,339.1 616.6,338.6 616.1,338.9 615.6,340.2 615.1,339.2 614.6,338.8 614.1,339.4 613.6,338.8 613.1,339.6 612.6,338.9 612.1,339.2 611.6,339.4 611.1,340.6 610.6,339.8 610.1,340.4 609.6,339.6 609.1,340.5 608.6,341.0 608.1,340.4 607.6,339.7 607.1,340.3 606.6,339.2 606.1,339.2 605.6,339.0 605.1,339.2 604.6,339.7 604.1,339.2 603.6,339.7 603.1,339.2 602.6,339.7 602.1,338.9 601.6,338.8 601.1,339.0 600.6,338.7 600.1,339.0 599.6,339.2 599.1,338.5 598.6,338.3 598.1,338.0 597.6,337.5 597.1,337.4 596.6,339.5 596.1,338.0 595.6,339.2 595.1,338.3 594.6,338.8 594.1,338.6 593.6,339.0 593.1,338.0 592.6,337.8 592.1,337.8 591.6,338.2 591.1,338.8 590.6,337.8 590.1,338.8 589.6,338.4 589.1,337.4 588.6,337.5 588.1,338.0 587.6,337.1 587.1,336.7 586.6,337.4 586.1,337.3 585.6,338.2 585.1,338.0 584.6,339.6 584.1,338.8 583.6,338.8 583.1,338.6 582.6,338.3 582.1,338.1 581.6,339.7 581.1,338.6 580.6,337.8 580.1,337.5 579.6,337.4 579.1,337.2 578.6,337.8 578.1,338.6 577.6,338.1 577.1,338.2 576.6,338.7 576.1,338.4 575.6,338.4 575.1,338.5 574.6,338.9 574.1,338.1 573.6,338.7 573.1,337.6 572.6,338.0 572.1,338.3 571.6,338.1 571.1,337.2 570.6,337.2 570.1,337.9 569.6,338.4 569.1,338.3 568.6,338.1 568.1,337.9 567.6,339.3 567.1,339.4 566.6,337.8 566.1,337.4 565.6,337.7 565.1,338.3 564.6,337.8 564.1,337.7 563.6,337.6 563.1,337.8 562.6,337.5 562.1,338.0 561.6,337.7 561.1,337.4 560.6,337.3 560.1,337.2 559.6,337.1 559.1,337.6 558.6,337.3 558.1,336.6 557.6,337.5 557.1,337.3 556.6,337.1 556.1,337.3 555.6,338.1 555.1,337.5 554.6,337.8 554.1,337.9 553.6,337.5 553.1,337.2 552.6,337.4 552.1,337.8 551.6,336.4 551.1,338.3 550.6,337.1 550.1,337.1 549.6,336.8 549.1,337.4 548.6,337.0 548.1,337.1 547.6,337.3 547.1,337.0 546.6,337.3 546.1,337.1 545.6,338.1 545.1,338.2 544.6,337.8 544.1,337.6 543.6,337.3 543.1,337.7 542.6,337.0 542.1,337.5 541.6,337.3 541.1,336.7 540.6,337.1 540.1,336.7 539.6,338.3 539.1,337.1 538.6,337.6 538.1,336.9 537.6,337.3 537.1,336.4 536.6,336.7 536.1,338.0 535.6,337.3 535.1,337.5 534.6,337.2 534.1,338.1 533.6,338.3 533.1,336.5 532.6,337.2 532.1,337.3 531.6,336.4 531.1,336.4 530.6,336.6 530.1,337.3 529.6,337.3 529.1,336.2 528.6,336.6 528.1,336.9 527.6,338.5 527.1,337.6 526.6,337.9 526.1,337.7 525.6,337.2 525.1,336.5 524.6,337.1 524.1,336.6 523.6,336.0 523.1,336.1 522.6,335.9 522.1,337.0 521.6,337.3 521.1,336.4 520.6,336.5 520.1,336.3 519.6,337.5 519.1,336.9 518.6,336.7 518.1,336.7 517.6,336.1 517.1,335.7 516.6,335.8 516.1,336.7 515.6,335.2 515.1,336.1 514.6,334.9 514.1,335.5 513.6,335.3 513.1,336.0 512.6,336.1 512.1,336.4 511.6,336.4 511.1,336.7 510.6,335.8 510.1,336.1 509.6,336.1 509.1,336.6 508.6,335.4 508.1,336.3 507.6,336.3 507.1,335.6 506.6,337.3 506.1,337.3 505.6,336.0 505.1,335.6 504.6,336.5 504.1,335.6 503.6,336.9 503.1,336.6 502.6,336.0 502.1,338.4 501.6,336.7 501.1,335.8 500.6,336.2 500.1,335.7 499.6,335.1 499.1,335.5 498.6,335.0 498.1,335.0 497.6,334.9 497.1,335.7 496.6,334.9 496.1,334.7 495.6,336.1 495.1,334.6 494.6,334.3 494.1,335.1 493.6,334.5 493.1,335.8 492.6,334.7 492.1,335.2 491.6,335.3 491.1,335.0 490.6,335.5 490.1,334.4 489.6,334.9 489.1,335.2 488.6,334.1 488.1,334.6 487.6,333.5 487.1,334.6 486.6,333.6 486.1,332.8 485.6,333.4 485.1,333.1 484.6,333.2 484.1,334.1 483.6,333.7 483.1,334.1 482.6,334.3 482.1,333.9 481.6,334.1 481.1,333.4 480.6,333.7 480.1,333.7 479.6,334.6 479.1,334.0 478.6,333.5 478.1,333.6 477.6,333.4 477.1,334.7 476.6,333.4 476.1,334.5 475.6,334.0 475.1,335.7 474.6,334.2 474.1,334.3 473.6,333.8 473.1,333.4 472.6,333.2 472.1,333.3 471.6,333.5 471.1,333.6 470.6,333.7 470.1,335.7 469.6,333.6 469.1,334.2 468.6,334.5 468.1,333.1 467.6,333.4 467.1,333.7 466.6,333.4 466.1,333.1 465.6,332.0 465.1,332.2 464.6,332.1 464.1,331.7 463.6,331.9 463.1,331.9 462.6,332.4 462.1,332.5 461.6,332.1 461.1,333.5 460.6,332.4 460.1,332.0 459.6,332.2 459.1,332.9 458.6,333.1 458.1,332.6 457.6,333.5 457.1,331.9 456.6,332.2 456.1,332.4 455.6,331.4 455.1,332.0 454.6,331.6 454.1,330.9 453.6,330.7 453.1,331.2 452.6,330.4 452.1,331.1 451.6,331.3 451.1,331.3 450.6,331.9 450.1,331.4 449.6,332.2 449.1,332.5 448.6,331.5 448.1,331.1 447.6,331.2 447.1,330.9 446.6,331.3 446.1,331.5 445.6,332.0 445.1,331.4 444.6,331.0 444.1,331.1 443.6,331.8 443.1,331.2 442.6,331.5 442.1,331.1 441.6,331.0 441.1,330.6 440.6,330.3 440.1,330.1 439.6,331.3 439.1,330.6 438.6,331.2 438.1,330.8 437.6,330.5 437.1,331.2 436.6,330.5 436.1,331.2 435.6,331.0 435.1,330.2 434.6,330.0 434.1,330.2 433.6,329.7 433.1,330.8 432.6,329.4 432.1,329.0 431.6,328.7 431.1,328.7 430.6,328.3 430.1,329.1 429.6,328.1 429.1,328.2 428.6,328.2 428.1,327.8 427.6,329.4 427.1,328.5 426.6,328.7 426.1,327.8 425.6,328.3 425.1,328.4 424.6,329.1 424.1,327.7 423.6,328.0 423.1,326.8 422.6,328.0 422.1,327.3 421.6,327.3 421.1,327.8 420.6,329.0 420.1,326.7 419.6,326.9 419.1,327.6 418.6,326.9 418.1,327.6 417.6,327.2 417.1,327.4 416.6,327.0 416.1,327.0 415.6,328.1 415.1,326.4 414.6,327.2 414.1,327.0 413.6,328.6 413.1,327.5 412.6,327.0 412.1,327.5 411.6,328.1 411.1,327.8 410.6,327.2 410.1,327.2 409.6,326.4 409.1,327.1 408.6,327.7 408.1,326.5 407.6,326.2 407.1,327.4 406.6,327.7 406.1,326.6 405.6,325.8 405.1,325.8 404.6,326.6 404.1,325.8 403.6,325.0 403.1,325.5 402.6,325.4 402.1,327.2 401.6,325.7 401.1,325.9 400.6,326.3 400.1,324.9 399.6,325.8 399.1,325.8 398.6,324.9 398.1,325.2 397.6,324.7 397.1,325.1 396.6,325.1 396.1,324.0 395.6,324.3 395.1,325.6 394.6,324.0 394.1,324.5 393.6,324.8 393.1,324.3 392.6,323.7 392.1,323.9 391.6,323.6 391.1,323.4 390.6,324.1 390.1,323.3 389.6,323.0 389.1,322.7 388.6,323.0 388.1,322.8 387.6,322.8 387.1,322.6 386.6,322.7 386.1,322.0 385.6,321.8 385.1,321.9 384.6,322.4 384.1,322.1 383.6,322.9 383.1,321.8 382.6,321.7 382.1,321.9 381.6,322.0 381.1,321.8 380.6,321.2 380.1,323.0 379.6,320.8 379.1,321.0 378.6,321.9 378.1,322.7 377.6,324.3 377.1,328.1 376.6,329.9 376.1,327.4 375.6,350.1 375.1,349.7 374.6,352.3 374.1,349.5 373.6,349.7 373.1,349.2 372.6,349.6 372.1,350.1 371.6,350.6 371.1,348.8 370.6,350.1 370.1,350.5 369.6,349.3 369.1,350.1 368.6,349.2 368.1,350.1 367.6,349.3 367.1,350.7 366.6,351.2 366.1,350.0 365.6,350.9 365.1,350.6 364.6,351.7 364.1,351.1 363.6,349.9 363.1,350.5 362.6,350.9 362.1,349.7 361.6,349.7 361.1,349.6 360.6,349.9 360.1,349.6 359.6,349.7 359.1,349.7 358.6,350.4 358.1,349.7 357.6,350.2 357.1,349.7 356.6,349.6 356.1,349.7 355.6,350.2 355.1,351.0 354.6,349.6 354.1,350.1 353.6,349.8 353.1,349.8 352.6,349.9 352.1,351.1 351.6,350.8 351.1,350.6 350.6,350.8 350.1,351.6 349.6,350.7 349.1,350.7 348.6,350.8 348.1,350.5 347.6,350.4 347.1,350.1 346.6,350.0 346.1,350.6 345.6,349.7 345.1,349.8 344.6,350.1 344.1,350.6 343.6,350.4 343.1,350.5 342.6,350.0 342.1,350.6 341.6,350.3 341.1,350.4 340.6,351.6 340.1,351.0 339.6,350.3 339.1,350.4 338.6,350.4 338.1,350.4 337.6,350.8 337.1,351.8 336.6,349.3 336.1,351.1 335.6,349.9 335.1,350.6 334.6,350.7 334.1,351.5 333.6,349.7 333.1,351.8 332.6,350.5 332.1,350.9 331.6,349.8 331.1,350.2 330.6,350.4 330.1,350.1 329.6,350.9 329.1,349.8 328.6,350.0 328.1,349.8 327.6,349.8 327.1,350.4 326.6,350.2 326.1,349.3 325.6,349.8 325.1,349.7 324.6,349.6 324.1,350.3 323.6,350.4 323.1,350.1 322.6,350.4 322.1,350.7 321.6,350.2 321.1,350.3 320.6,349.2 320.1,349.9 319.6,349.7 319.1,350.0 318.6,350.0 318.1,349.9 317.6,351.1 317.1,350.5 316.6,349.6 316.1,349.9 315.6,349.4 315.1,350.0 314.6,349.9 314.1,350.1 313.6,350.0 313.1,349.9 312.6,349.2 312.1,349.4 311.6,349.7 311.1,350.1 310.6,349.5 310.1,349.4 309.6,350.5 309.1,350.0 308.6,350.7 308.1,350.4 307.6,350.1 307.1,350.0 306.6,350.4 306.1,351.0 305.6,350.1 305.1,351.1 304.6,349.7 304.1,349.6 303.6,350.4 303.1,349.8 302.6,351.3 302.1,350.1 301.6,350.3 301.1,350.5 300.6,351.8 300.1,349.1 299.6,350.0 299.1,349.3 298.6,349.8 298.1,350.2 297.6,349.1 297.1,350.2 296.6,349.2 296.1,349.7 295.6,349.8 295.1,349.5 294.6,349.8 294.1,349.8 293.6,351.3 293.1,349.5 292.6,350.5 292.1,349.6 291.6,349.2 291.1,349.1 290.6,348.7 290.1,349.2 289.6,349.1 289.1,350.5 288.6,349.8 288.1,349.6 287.6,349.8 287.1,349.9 286.6,350.4 286.1,349.7 285.6,350.0 285.1,349.9 284.6,350.4 284.1,349.7 283.6,349.9 283.1,349.4 282.6,349.7 282.1,350.7 281.6,350.3 281.1,350.0 280.6,349.6 280.1,349.4 279.6,349.5 279.1,350.8 278.6,349.5 278.1,350.6 277.6,349.1 277.1,350.0 276.6,349.9 276.1,349.1 275.6,350.3 275.1,349.3 274.6,349.2 274.1,349.9 273.6,349.7 273.1,349.8 272.6,349.1 272.1,349.5 271.6,349.5 271.1,349.6 270.6,350.7 270.1,352.1 269.6,351.0 269.1,350.8 268.6,350.5 268.1,350.1 267.6,351.3 267.1,350.1 266.6,350.2 266.1,351.0 265.6,350.5 265.1,349.8 264.6,351.8 264.1,349.8 263.6,350.2 263.1,351.5 262.6,350.7 262.1,349.4 261.6,351.5 261.1,350.6 260.6,349.9 260.1,351.1 259.6,349.8 259.1,349.9 258.6,351.6 258.1,350.6 257.6,349.3 257.1,349.8 256.6,350.0 256.1,348.9 255.6,349.6 255.1,349.5 254.6,349.7 254.1,349.9 253.6,350.3 253.1,349.8 252.6,349.8 252.1,349.6 251.6,349.4 251.1,350.0 250.6,349.8 250.1,349.4 249.6,350.0 249.1,350.4 248.6,349.7 248.1,350.6 247.6,350.2 247.1,349.2 246.6,349.5 246.1,349.9 245.6,350.8 245.1,350.2 244.6,350.2 244.1,349.9 243.6,349.6 243.1,350.5 242.6,350.5 242.1,350.4 241.6,349.7 241.1,349.1 240.6,349.8 240.1,350.3 239.6,350.5 239.1,349.7 238.6,351.3 238.1,350.2 237.6,350.2 237.1,349.9 236.6,351.8 236.1,349.7 235.6,350.2 235.1,349.3 234.6,350.0 234.1,350.7 233.6,351.4 233.1,350.0 232.6,350.5 232.1,349.9 231.6,350.6 231.1,350.6 230.6,349.6 230.1,351.3 229.6,349.9 229.1,350.0 228.6,350.9 228.1,350.5 227.6,349.9 227.1,349.8 226.6,350.8 226.1,349.8 225.6,350.4 225.1,349.3 224.6,350.1 224.1,349.7 223.6,349.5 223.1,350.6 222.6,351.0 222.1,350.7 221.6,351.0 221.1,349.3 220.6,349.8 220.1,349.7 219.6,350.4 219.1,349.4 218.6,349.6 218.1,349.2 217.6,349.2 217.1,349.2 216.6,349.2 216.1,349.5 215.6,350.4 215.1,350.7 214.6,350.6 214.1,350.7 213.6,350.1 213.1,349.9 212.6,350.0 212.1,350.5 211.6,350.3 211.1,350.4 210.6,350.3 210.1,349.5 209.6,349.0 209.1,349.5 208.6,350.5 208.1,348.9 207.6,349.4 207.1,349.3 206.6,350.8 206.1,350.3 205.6,350.1 205.1,350.1 204.6,351.7 204.1,350.3 203.6,350.2 203.1,350.2 202.6,350.1 202.1,349.4 201.6,349.6 201.1,349.9 200.6,349.7 200.1,351.1 199.6,350.4 199.1,349.6 198.6,350.0 198.1,350.6 197.6,350.0 197.1,350.9 196.6,349.4 196.1,349.7 195.6,349.5 195.1,349.6 194.6,350.9 194.1,349.5 193.6,350.3 193.1,349.5 192.6,350.1 192.1,349.3 191.6,351.0 191.1,349.4 190.6,349.6 190.1,349.3 189.6,350.1 189.1,350.6 188.6,351.2 188.1,350.1 187.6,349.6 187.1,351.5 186.6,350.6 186.1,349.6 185.6,349.3 185.1,350.2 184.6,348.9 184.1,349.6 183.6,351.1 183.1,350.6 182.6,350.2 182.1,349.0 181.6,350.6 181.1,349.6 180.6,349.4 180.1,349.7 179.6,350.9 179.1,349.9 178.6,350.2 178.1,350.7 177.6,350.8 177.1,351.5 176.6,351.8 176.1,351.2 175.6,352.3 175.1,352.0 174.6,351.7 174.1,351.3 173.6,351.7 173.1,352.3 172.6,351.5 172.1,351.3 171.6,351.9 171.1,352.0 170.6,352.5 170.1,352.2 169.6,351.9 169.1,352.7 168.6,353.4 168.1,352.0 167.6,352.4 167.1,352.4 166.6,351.4 166.1,351.7 165.6,351.7 165.1,351.6 164.6,351.8 164.1,351.9 163.6,352.6 163.1,351.3 162.6,351.9 162.1,352.4 161.6,351.8 161.1,351.8 160.6,353.3 160.1,353.8 159.6,352.2 159.1,353.5 158.6,352.9 158.1,351.8 157.6,352.0 157.1,351.1 156.6,352.0 156.1,351.4 155.6,352.7 155.1,351.0 154.6,351.9 154.1,351.1 153.6,352.0 153.1,351.7 152.6,350.2 152.1,351.6 151.6,351.0 151.1,350.8 150.6,350.5 150.1,350.7 149.6,351.5 149.1,351.0 148.6,351.0 148.1,351.6 147.6,350.2 147.1,350.6 146.6,350.5 146.1,351.6 145.6,351.0 145.1,352.1 144.6,351.1 144.1,351.0 143.6,349.9 143.1,350.8 142.6,350.6 142.1,351.2 141.6,350.9 141.1,350.8 140.6,350.9 140.1,351.2 139.6,351.4 139.1,351.0 138.6,350.9 138.1,351.0 137.6,350.8 137.1,351.7 136.6,351.3 136.1,353.5 135.6,351.6 135.1,351.3 134.6,351.4 134.1,350.8 133.6,350.9 133.1,351.4 132.6,350.7 132.1,352.3 131.6,350.8 131.1,350.8 130.6,351.0 130.1,351.0 129.6,351.8 129.1,351.1 128.6,351.4 128.1,350.3 127.6,350.7 127.1,350.5 126.6,350.6 126.1,349.6 125.6,350.4 125.1,350.3 124.6,350.2 124.1,350.0 123.6,351.1 123.1,351.1 122.6,350.4 122.1,350.1 121.6,350.3 121.1,350.3 120.6,352.8 120.1,351.0 119.6,351.2 119.1,351.3 118.6,351.1 118.1,351.0 117.6,350.9 117.1,350.8 116.6,354.0 116.1,355.5 115.6,352.6 115.1,352.6 114.6,352.8 114.1,352.8 113.6,352.3 113.1,352.7 112.6,352.4 112.1,352.7 111.6,352.5 111.1,352.8 110.6,353.6 110.1,352.8 109.6,353.0 109.1,354.0 108.6,353.4 108.1,352.7 107.6,352.6 107.1,351.9 106.6,353.3 106.1,352.5 105.6,353.0 105.1,352.5 104.6,353.4 104.1,353.2 103.6,352.3 103.1,354.0 102.6,352.9 102.1,354.1 101.6,353.4 101.1,352.1 100.6,353.0 100.1,352.7 99.6,352.9 99.1,353.6 98.6,352.8 98.1,353.6 97.6,353.4 97.1,352.8 96.6,351.8 96.1,352.1 95.6,352.0 95.1,354.3 94.6,352.2 94.1,351.9 93.6,351.8 93.1,352.1 92.6,351.1 92.1,352.8 91.6,352.1 91.1,352.3 90.6,353.3 90.1,352.3 89.6,352.0 89.1,352.2 88.6,352.3 88.1,351.8 87.6,352.4 87.1,352.7 86.6,352.4 86.1,353.4 85.6,352.3 85.1,352.7 84.6,352.6 84.1,352.9 83.6,353.2 83.1,353.1 82.6,351.8 82.1,352.5 81.6,353.0 81.1,353.1 80.6,352.9 80.1,353.0 79.6,352.6 79.1,352.7 78.6,353.5 78.1,353.2 77.6,352.4 77.1,352.4 76.6,353.5 76.1,353.8 75.6,353.8 75.1,353.1 74.6,352.7 74.1,354.4 73.6,353.6"/><line x1="375.7" y1="347.6" x2="375.7" y2="318.8" stroke="#f7860f" stroke-width="1.1"/><polygon fill="#bcbd12" points="73.6,347.9 74.1,347.6 74.6,348.1 75.1,347.3 75.6,346.7 76.1,348.0 76.6,348.1 77.1,348.7 77.6,348.5 78.1,347.7 78.6,347.9 79.1,348.6 79.6,348.7 80.1,348.3 80.6,347.2 81.1,347.3 81.6,348.6 82.1,348.2 82.6,347.4 83.1,347.8 83.6,346.9 84.1,348.2 84.6,346.9 85.1,347.8 85.6,347.9 86.1,347.0 86.6,347.6 87.1,347.3 87.6,347.6 88.1,347.6 88.6,347.8 89.1,347.8 89.6,348.7 90.1,347.3 90.6,347.6 91.1,347.0 91.6,347.9 92.1,346.3 92.6,348.1 93.1,347.9 93.6,347.9 94.1,348.4 94.6,346.9 95.1,348.2 95.6,348.3 96.1,348.5 96.6,348.3 97.1,349.3 97.6,347.9 98.1,347.4 98.6,349.3 99.1,348.4 99.6,348.8 100.1,347.5 100.6,347.6 101.1,348.1 101.6,348.0 102.1,346.9 102.6,346.0 103.1,345.8 103.6,346.7 104.1,347.6 104.6,347.7 105.1,348.1 105.6,346.8 106.1,347.6 106.6,347.7 107.1,347.9 107.6,348.7 108.1,348.5 108.6,348.1 109.1,348.1 109.6,347.3 110.1,347.5 110.6,346.8 111.1,347.5 111.6,347.5 112.1,347.8 112.6,346.8 113.1,347.0 113.6,348.2 114.1,346.9 114.6,346.9 115.1,347.4 115.6,347.8 116.1,345.5 116.6,343.7 117.1,344.8 117.6,344.5 118.1,345.0 118.6,345.1 119.1,344.8 119.6,344.7 120.1,345.4 120.6,345.7 121.1,345.9 121.6,344.3 122.1,345.9 122.6,345.8 123.1,346.0 123.6,346.1 124.1,346.1 124.6,346.1 125.1,346.6 125.6,346.2 126.1,345.5 126.6,346.2 127.1,346.9 127.6,345.3 128.1,346.3 128.6,345.9 129.1,346.3 129.6,346.4 130.1,345.8 130.6,346.9 131.1,346.8 131.6,346.7 132.1,346.3 132.6,345.3 133.1,346.0 133.6,346.1 134.1,345.9 134.6,345.6 135.1,345.9 135.6,346.9 136.1,346.3 136.6,346.7 137.1,344.8 137.6,346.7 138.1,344.9 138.6,345.4 139.1,346.3 139.6,345.7 140.1,344.1 140.6,345.8 141.1,345.5 141.6,345.7 142.1,345.9 142.6,346.2 143.1,345.7 143.6,345.7 144.1,345.0 144.6,345.9 145.1,346.0 145.6,345.4 146.1,345.5 146.6,344.9 147.1,345.2 147.6,344.6 148.1,345.9 148.6,346.1 149.1,346.3 149.6,345.9 150.1,346.2 150.6,345.5 151.1,346.0 151.6,345.1 152.1,345.2 152.6,345.6 153.1,345.3 153.6,343.8 154.1,345.6 154.6,345.5 155.1,345.4 155.6,346.2 156.1,345.8 156.6,346.3 157.1,345.8 157.6,346.2 158.1,346.2 158.6,346.1 159.1,345.1 159.6,345.5 160.1,345.7 160.6,346.8 161.1,347.2 161.6,347.8 162.1,346.8 162.6,347.9 163.1,347.8 163.6,346.7 164.1,346.8 164.6,345.5 165.1,347.8 165.6,347.5 166.1,347.4 166.6,347.3 167.1,346.3 167.6,346.9 168.1,347.3 168.6,347.3 169.1,347.9 169.6,347.6 170.1,347.9 170.6,347.2 171.1,347.3 171.6,347.4 172.1,347.9 172.6,347.9 173.1,347.6 173.6,347.6 174.1,347.5 174.6,349.2 175.1,348.0 175.6,348.1 176.1,347.8 176.6,348.2 177.1,347.0 177.6,348.3 178.1,348.3 178.6,347.9 179.1,348.2 179.6,348.5 180.1,347.1 180.6,348.3 181.1,347.7 181.6,347.6 182.1,348.4 182.6,348.0 183.1,348.5 183.6,347.8 184.1,347.1 184.6,347.5 185.1,347.9 185.6,347.9 186.1,348.2 186.6,348.6 187.1,347.0 187.6,346.1 188.1,348.5 188.6,347.9 189.1,348.7 189.6,346.7 190.1,347.8 190.6,346.7 191.1,348.0 191.6,348.0 192.1,348.1 192.6,348.9 193.1,348.8 193.6,348.2 194.1,348.2 194.6,348.5 195.1,347.8 195.6,348.5 196.1,348.3 196.6,347.7 197.1,348.8 197.6,348.4 198.1,348.3 198.6,347.7 199.1,347.9 199.6,348.5 200.1,347.9 200.6,349.0 201.1,348.0 201.6,348.6 202.1,347.8 202.6,348.3 203.1,347.8 203.6,348.2 204.1,348.0 204.6,347.9 205.1,347.9 205.6,347.9 206.1,348.4 206.6,347.0 207.1,348.5 207.6,347.8 208.1,347.0 208.6,347.9 209.1,348.0 209.6,348.0 210.1,348.0 210.6,347.8 211.1,347.9 211.6,347.4 212.1,348.5 212.6,348.2 213.1,349.0 213.6,347.7 214.1,349.6 214.6,348.2 215.1,347.4 215.6,349.0 216.1,347.4 216.6,348.4 217.1,348.0 217.6,348.7 218.1,348.8 218.6,347.4 219.1,348.8 219.6,349.2 220.1,349.1 220.6,348.6 221.1,348.9 221.6,348.5 222.1,348.7 222.6,348.2 223.1,348.0 223.6,348.4 224.1,347.2 224.6,347.9 225.1,346.3 225.6,347.8 226.1,348.3 226.6,347.9 227.1,348.1 227.6,348.3 228.1,348.1 228.6,347.7 229.1,347.5 229.6,348.0 230.1,347.0 230.6,348.7 231.1,348.9 231.6,348.0 232.1,348.3 232.6,348.8 233.1,348.3 233.6,348.5 234.1,347.7 234.6,348.4 235.1,347.4 235.6,346.8 236.1,348.0 236.6,347.4 237.1,347.8 237.6,347.7 238.1,347.9 238.6,348.4 239.1,347.5 239.6,348.1 240.1,348.3 240.6,348.3 241.1,347.8 241.6,347.9 242.1,348.7 242.6,348.4 243.1,348.0 243.6,348.4 244.1,348.4 244.6,347.2 245.1,347.6 245.6,348.3 246.1,348.1 246.6,348.4 247.1,347.6 247.6,347.9 248.1,347.8 248.6,346.7 249.1,348.0 249.6,348.8 250.1,348.2 250.6,348.2 251.1,346.5 251.6,348.6 252.1,349.1 252.6,348.5 253.1,349.1 253.6,348.6 254.1,348.8 254.6,349.3 255.1,349.4 255.6,348.1 256.1,348.5 256.6,347.7 257.1,348.5 257.6,348.6 258.1,348.8 258.6,347.9 259.1,348.0 259.6,348.3 260.1,348.9 260.6,349.1 261.1,349.1 261.6,348.7 262.1,348.7 262.6,348.1 263.1,349.1 263.6,348.3 264.1,348.1 264.6,347.4 265.1,348.1 265.6,347.7 266.1,348.2 266.6,348.4 267.1,346.6 267.6,347.4 268.1,348.4 268.6,347.6 269.1,348.3 269.6,347.9 270.1,348.0 270.6,348.8 271.1,347.7 271.6,348.0 272.1,347.7 272.6,348.6 273.1,348.5 273.6,348.2 274.1,348.4 274.6,348.5 275.1,347.8 275.6,347.9 276.1,347.5 276.6,348.4 277.1,347.7 277.6,346.8 278.1,348.4 278.6,348.5 279.1,347.3 279.6,347.5 280.1,348.8 280.6,348.4 281.1,346.0 281.6,348.0 282.1,347.3 282.6,347.3 283.1,347.1 283.6,348.0 284.1,346.6 284.6,348.0 285.1,347.6 285.6,347.7 286.1,348.3 286.6,347.0 287.1,348.6 287.6,346.6 288.1,348.3 288.6,347.7 289.1,345.4 289.6,348.0 290.1,347.5 290.6,348.1 291.1,347.2 291.6,348.2 292.1,347.8 292.6,348.4 293.1,348.6 293.6,348.1 294.1,348.8 294.6,349.1 295.1,349.1 295.6,348.1 296.1,348.6 296.6,348.8 297.1,348.9 297.6,348.0 298.1,348.9 298.6,347.5 299.1,349.0 299.6,349.2 300.1,348.1 300.6,347.4 301.1,347.8 301.6,347.9 302.1,347.9 302.6,347.6 303.1,348.0 303.6,346.7 304.1,347.6 304.6,348.9 305.1,348.6 305.6,348.6 306.1,348.4 306.6,348.5 307.1,349.4 307.6,348.0 308.1,348.8 308.6,347.3 309.1,348.9 309.6,348.8 310.1,348.5 310.6,348.4 311.1,348.6 311.6,347.5 312.1,348.2 312.6,348.6 313.1,348.4 313.6,348.5 314.1,348.3 314.6,347.9 315.1,347.9 315.6,347.7 316.1,348.4 316.6,347.9 317.1,348.5 317.6,348.1 318.1,347.1 318.6,347.7 319.1,347.6 319.6,347.4 320.1,348.4 320.6,348.0 321.1,348.7 321.6,347.9 322.1,348.8 322.6,348.1 323.1,348.6 323.6,348.3 324.1,348.2 324.6,347.2 325.1,349.1 325.6,348.9 326.1,348.9 326.6,349.2 327.1,350.0 327.6,350.0 328.1,348.3 328.6,348.2 329.1,349.3 329.6,348.5 330.1,348.1 330.6,349.5 331.1,349.2 331.6,347.6 332.1,349.1 332.6,349.3 333.1,347.6 333.6,348.2 334.1,348.8 334.6,348.4 335.1,346.7 335.6,347.5 336.1,347.8 336.6,347.4 337.1,347.3 337.6,347.5 338.1,346.9 338.6,347.7 339.1,347.9 339.6,348.0 340.1,347.3 340.6,347.8 341.1,346.6 341.6,347.2 342.1,347.9 342.6,348.2 343.1,348.4 343.6,347.9 344.1,348.4 344.6,347.0 345.1,348.3 345.6,347.7 346.1,347.7 346.6,347.9 347.1,348.0 347.6,348.4 348.1,347.8 348.6,348.3 349.1,348.3 349.6,347.7 350.1,348.4 350.6,347.8 351.1,347.4 351.6,348.1 352.1,348.6 352.6,347.6 353.1,346.5 353.6,348.1 354.1,347.7 354.6,348.1 355.1,348.5 355.6,347.6 356.1,348.4 356.6,347.9 357.1,348.5 357.6,347.4 358.1,348.5 358.6,348.2 359.1,347.4 359.6,347.1 360.1,347.4 360.6,346.4 361.1,347.6 361.6,347.8 362.1,347.8 362.6,347.0 363.1,347.7 363.6,348.1 364.1,348.4 364.6,348.3 365.1,348.8 365.6,348.6 366.1,347.9 366.6,348.4 367.1,348.9 367.6,348.1 368.1,348.8 368.6,348.5 369.1,348.0 369.6,349.4 370.1,348.6 370.6,348.7 371.1,348.7 371.6,348.1 372.1,347.4 372.6,347.8 373.1,348.6 373.6,347.6 374.1,348.4 374.6,347.6 375.1,347.7 375.6,347.7 376.1,343.3 376.6,337.3 377.1,337.7 377.6,338.2 378.1,337.6 378.6,337.1 379.1,334.7 379.6,335.8 380.1,335.0 380.6,336.1 381.1,336.5 381.6,336.7 382.1,336.1 382.6,336.0 383.1,335.9 383.6,337.2 384.1,336.7 384.6,336.6 385.1,336.6 385.6,336.5 386.1,337.2 386.6,336.9 387.1,336.1 387.6,336.0 388.1,337.5 388.6,337.0 389.1,337.2 389.6,338.4 390.1,337.0 390.6,338.2 391.1,337.6 391.6,338.6 392.1,338.5 392.6,338.1 393.1,338.5 393.6,338.1 394.1,338.2 394.6,338.5 395.1,337.0 395.6,337.9 396.1,337.6 396.6,337.5 397.1,336.8 397.6,337.7 398.1,337.6 398.6,337.4 399.1,338.0 399.6,338.5 400.1,338.1 400.6,337.9 401.1,337.9 401.6,338.4 402.1,338.6 402.6,338.9 403.1,338.3 403.6,339.2 404.1,337.8 404.6,338.6 405.1,338.6 405.6,338.8 406.1,338.6 406.6,337.9 407.1,337.9 407.6,337.1 408.1,336.9 408.6,336.1 409.1,337.3 409.6,337.3 410.1,337.2 410.6,336.5 411.1,337.4 411.6,337.4 412.1,337.9 412.6,338.2 413.1,338.1 413.6,338.6 414.1,337.5 414.6,338.2 415.1,337.8 415.6,338.1 416.1,338.2 416.6,339.1 417.1,338.6 417.6,338.8 418.1,337.7 418.6,338.6 419.1,337.3 419.6,336.9 420.1,337.1 420.6,337.5 421.1,339.0 421.6,337.6 422.1,338.8 422.6,338.0 423.1,338.7 423.6,339.1 424.1,339.3 424.6,338.2 425.1,338.3 425.6,337.6 426.1,336.5 426.6,337.9 427.1,338.1 427.6,338.3 428.1,338.6 428.6,339.3 429.1,339.0 429.6,338.1 430.1,339.3 430.6,339.6 431.1,338.8 431.6,339.6 432.1,339.2 432.6,339.5 433.1,338.8 433.6,339.0 434.1,339.7 434.6,339.2 435.1,336.5 435.6,337.8 436.1,339.2 436.6,337.4 437.1,338.8 437.6,337.4 438.1,338.1 438.6,338.6 439.1,338.5 439.6,339.4 440.1,337.7 440.6,339.4 441.1,339.8 441.6,339.4 442.1,338.8 442.6,339.5 443.1,339.6 443.6,339.3 444.1,340.0 444.6,339.9 445.1,339.2 445.6,340.3 446.1,339.4 446.6,339.8 447.1,340.7 447.6,338.8 448.1,339.4 448.6,339.4 449.1,339.8 449.6,339.4 450.1,338.8 450.6,339.5 451.1,339.4 451.6,339.8 452.1,339.7 452.6,338.0 453.1,339.6 453.6,339.4 454.1,339.3 454.6,339.3 455.1,340.6 455.6,340.8 456.1,339.4 456.6,340.2 457.1,339.8 457.6,340.7 458.1,340.5 458.6,340.1 459.1,340.7 459.6,340.9 460.1,340.1 460.6,340.7 461.1,340.6 461.6,339.6 462.1,340.9 462.6,340.5 463.1,339.6 463.6,339.6 464.1,339.6 464.6,339.8 465.1,340.5 465.6,340.2 466.1,340.1 466.6,340.0 467.1,339.8 467.6,340.1 468.1,340.8 468.6,341.0 469.1,341.3 469.6,339.9 470.1,340.9 470.6,340.9 471.1,340.7 471.6,340.8 472.1,340.5 472.6,339.9 473.1,340.4 473.6,340.8 474.1,340.6 474.6,340.5 475.1,340.9 475.6,340.9 476.1,340.1 476.6,340.1 477.1,339.7 477.6,341.2 478.1,339.5 478.6,340.4 479.1,340.2 479.6,340.5 480.1,339.3 480.6,340.0 481.1,341.5 481.6,340.9 482.1,341.2 482.6,340.1 483.1,340.9 483.6,340.3 484.1,340.8 484.6,341.4 485.1,341.1 485.6,340.3 486.1,341.4 486.6,340.9 487.1,341.2 487.6,341.9 488.1,341.5 488.6,341.6 489.1,340.9 489.6,341.3 490.1,340.0 490.6,340.5 491.1,340.7 491.6,340.7 492.1,339.4 492.6,341.3 493.1,340.3 493.6,340.1 494.1,340.5 494.6,339.8 495.1,340.1 495.6,340.1 496.1,341.2 496.6,339.6 497.1,341.4 497.6,341.6 498.1,341.1 498.6,340.7 499.1,340.9 499.6,341.1 500.1,342.0 500.6,341.3 501.1,341.0 501.6,341.4 502.1,341.2 502.6,340.1 503.1,340.8 503.6,340.4 504.1,340.8 504.6,340.4 505.1,341.2 505.6,341.6 506.1,340.6 506.6,341.5 507.1,341.2 507.6,341.8 508.1,341.4 508.6,341.4 509.1,341.0 509.6,340.9 510.1,341.1 510.6,339.6 511.1,339.9 511.6,341.2 512.1,340.1 512.6,340.2 513.1,340.3 513.6,341.4 514.1,338.8 514.6,341.9 515.1,340.5 515.6,341.6 516.1,341.5 516.6,341.8 517.1,341.8 517.6,342.2 518.1,342.3 518.6,342.4 519.1,341.1 519.6,341.6 520.1,341.8 520.6,342.0 521.1,341.3 521.6,341.9 522.1,341.1 522.6,341.3 523.1,340.9 523.6,342.0 524.1,342.1 524.6,342.0 525.1,341.3 525.6,342.1 526.1,341.5 526.6,341.0 527.1,340.5 527.6,341.8 528.1,341.5 528.6,340.4 529.1,341.1 529.6,341.1 530.1,342.2 530.6,342.2 531.1,341.3 531.6,341.5 532.1,342.2 532.6,341.4 533.1,341.7 533.6,341.9 534.1,340.7 534.6,340.8 535.1,341.8 535.6,341.7 536.1,341.3 536.6,339.7 537.1,341.5 537.6,341.8 538.1,340.3 538.6,341.3 539.1,341.9 539.6,343.0 540.1,343.2 540.6,342.9 541.1,343.1 541.6,342.1 542.1,341.1 542.6,340.8 543.1,341.5 543.6,341.8 544.1,341.0 544.6,340.9 545.1,340.4 545.6,341.2 546.1,340.0 546.6,339.8 547.1,341.9 547.6,342.1 548.1,341.8 548.6,341.9 549.1,342.0 549.6,342.7 550.1,341.4 550.6,341.8 551.1,341.5 551.6,341.4 552.1,341.9 552.6,341.7 553.1,341.1 553.6,340.8 554.1,339.5 554.6,341.1 555.1,340.8 555.6,338.8 556.1,340.5 556.6,340.9 557.1,340.7 557.6,341.6 558.1,340.2 558.6,342.1 559.1,341.8 559.6,342.1 560.1,342.0 560.6,342.4 561.1,342.4 561.6,341.6 562.1,342.5 562.6,342.0 563.1,341.1 563.6,341.5 564.1,341.8 564.6,342.4 565.1,341.5 565.6,341.0 566.1,341.8 566.6,341.5 567.1,342.3 567.6,342.0 568.1,342.2 568.6,341.6 569.1,341.5 569.6,341.3 570.1,340.5 570.6,341.1 571.1,342.1 571.6,341.4 572.1,341.5 572.6,342.1 573.1,341.4 573.6,341.5 574.1,340.7 574.6,340.9 575.1,341.6 575.6,341.7 576.1,341.7 576.6,341.4 577.1,342.2 577.6,342.3 578.1,341.9 578.6,342.5 579.1,342.1 579.6,341.8 580.1,342.1 580.6,341.8 581.1,342.2 581.6,342.5 582.1,342.4 582.6,340.4 583.1,340.7 583.6,341.9 584.1,341.3 584.6,341.2 585.1,341.2 585.6,342.2 586.1,341.2 586.6,341.7 587.1,341.5 587.6,341.3 588.1,341.2 588.6,341.9 589.1,342.4 589.6,342.8 590.1,342.3 590.6,343.1 591.1,343.0 591.6,343.2 592.1,342.6 592.6,342.6 593.1,342.4 593.6,342.5 594.1,342.4 594.6,341.9 595.1,340.8 595.6,341.5 596.1,342.1 596.6,342.3 597.1,341.3 597.6,341.4 598.1,342.4 598.6,342.3 599.1,341.9 599.6,342.4 600.1,341.2 600.6,340.7 601.1,342.4 601.6,340.6 602.1,341.7 602.6,342.0 603.1,341.9 603.6,341.6 604.1,341.3 604.6,341.9 605.1,342.6 605.6,340.8 606.1,341.2 606.6,340.9 607.1,342.2 607.6,341.1 608.1,341.5 608.6,341.9 609.1,342.2 609.6,341.1 610.1,342.2 610.6,341.8 611.1,341.7 611.6,342.2 612.1,342.3 612.6,341.4 613.1,341.8 613.6,342.9 614.1,342.2 614.6,342.2 615.1,341.5 615.6,341.9 616.1,341.4 616.6,341.8 617.1,342.0 617.6,341.2 618.1,340.2 618.6,340.0 619.1,340.5 619.6,341.7 620.1,341.3 620.6,342.2 621.1,341.8 621.6,341.4 622.1,341.3 622.6,340.8 623.1,341.7 623.6,341.2 624.1,341.1 624.6,341.8 625.1,342.3 625.6,341.3 626.1,341.9 626.6,342.0 627.1,341.0 627.6,341.7 628.1,342.2 628.6,341.5 629.1,341.8 629.6,341.4 630.1,342.7 630.6,341.7 631.1,340.8 631.6,343.8 632.1,343.1 632.6,342.9 633.1,343.0 633.6,342.9 634.1,342.8 634.6,342.0 635.1,342.5 635.6,342.8 636.1,342.4 636.6,342.2 637.1,342.4 637.6,341.1 638.1,341.7 638.6,341.9 639.1,340.4 639.6,341.9 640.1,341.1 640.6,341.3 641.1,341.3 641.6,341.3 642.1,341.0 642.6,342.2 643.1,341.6 643.6,340.7 644.1,341.7 644.6,340.7 645.1,341.7 645.6,341.1 646.1,342.2 646.6,342.0 647.1,342.2 647.6,341.8 648.1,340.9 648.6,342.5 649.1,343.0 649.6,341.2 650.1,342.0 650.6,342.1 651.1,342.1 651.6,340.9 652.1,341.5 652.6,341.4 653.1,342.5 653.6,342.2 654.1,342.1 654.6,342.6 655.1,341.5 655.6,341.6 656.1,342.9 656.6,341.7 657.1,342.1 657.6,342.6 658.1,342.1 658.6,343.3 659.1,342.7 659.6,342.5 660.1,342.3 660.6,342.7 661.1,343.3 661.6,341.6 662.1,341.8 662.6,341.8 663.1,341.6 663.6,341.3 664.1,341.4 664.6,340.6 665.1,340.8 665.6,342.3 666.1,341.7 666.6,341.9 667.1,342.2 667.6,342.0 668.1,342.2 668.6,342.4 669.1,341.5 669.6,342.3 670.1,342.2 670.6,342.5 671.1,342.4 671.6,342.3 672.1,341.8 672.6,342.5 673.1,341.9 673.6,341.7 674.1,341.9 674.6,342.5 675.1,342.9 675.6,342.1 676.1,341.3 676.6,342.3 677.1,341.8 677.6,341.0 678.1,341.9 678.6,341.3 679.1,341.6 679.6,342.2 680.1,342.3 680.6,340.9 681.1,342.4 681.6,342.6 682.1,341.6 682.6,341.9 683.1,341.4 683.6,340.6 684.1,341.7 684.6,341.3 685.1,341.0 685.6,341.9 686.1,341.6 686.6,341.5 687.1,342.0 687.6,342.4 688.1,342.8 688.6,342.0 689.1,342.8 689.6,342.2 690.1,342.4 690.6,342.9 691.1,342.7 691.6,342.1 692.1,343.3 692.6,342.2 693.1,342.8 693.6,342.5 694.1,342.3 694.6,342.7 695.1,341.6 695.6,342.7 696.1,341.4 696.6,342.5 697.1,341.8 697.6,342.3 698.1,342.0 698.6,342.9 699.1,342.9 699.6,341.7 700.1,342.3 700.6,343.3 701.1,342.7 701.6,343.2 702.1,343.7 702.6,342.6 703.1,343.2 703.6,343.1 704.1,342.8 704.6,343.4 705.1,342.8 705.6,342.3 706.1,341.8 706.6,342.0 707.1,341.3 707.6,342.2 708.1,342.3 708.6,342.8 709.1,342.8 709.6,342.5 710.1,341.8 710.6,342.8 711.1,342.3 711.6,342.7 712.1,342.9 712.6,341.8 713.1,342.3 713.6,342.1 714.1,341.2 714.6,342.6 715.1,342.8 715.6,342.9 716.1,342.1 716.6,342.8 717.1,343.0 717.6,348.8 718.1,348.6 718.6,348.2 719.1,348.3 719.6,349.1 720.1,348.4 720.6,347.7 721.1,348.5 721.6,348.2 722.1,348.3 722.6,348.4 723.1,347.8 723.6,348.4 724.1,347.4 724.6,348.0 725.1,348.2 725.6,347.7 726.1,348.2 726.6,348.4 727.1,348.4 727.6,348.2 728.1,348.9 728.6,348.5 729.1,348.4 729.6,348.1 730.1,347.1 730.6,346.9 731.1,347.1 731.6,346.5 732.1,347.1 732.6,347.7 733.1,346.7 733.6,347.5 734.1,347.6 734.6,348.3 735.1,347.8 735.6,348.6 736.1,347.3 736.6,349.0 737.1,348.5 737.6,348.2 738.1,347.8 738.6,347.5 739.1,347.5 739.6,347.9 740.1,347.7 740.6,348.1 741.1,347.6 741.6,347.6 742.1,347.2 742.6,347.9 743.1,348.1 743.6,347.9 744.1,348.1 744.6,348.4 745.1,347.3 745.6,348.0 746.1,347.8 746.6,347.8 747.1,348.5 747.6,347.7 748.1,346.4 748.6,347.7 749.1,347.6 749.6,347.3 750.1,347.5 750.6,347.0 751.1,347.6 751.6,347.6 752.1,346.9 752.6,346.6 753.1,347.7 753.6,347.9 754.1,348.1 754.6,348.1 755.1,347.1 755.6,347.9 756.1,348.4 756.6,348.5 757.1,347.3 757.6,348.1 758.1,347.6 758.6,346.4 759.1,346.7 759.6,348.0 759.6,353.4 759.1,351.7 758.6,352.0 758.1,352.6 757.6,352.4 757.1,352.7 756.6,353.1 756.1,353.0 755.6,353.3 755.1,352.8 754.6,352.4 754.1,353.0 753.6,353.2 753.1,351.8 752.6,351.6 752.1,352.1 751.6,352.2 751.1,352.5 750.6,352.0 750.1,352.2 749.6,352.6 749.1,352.2 748.6,351.9 748.1,352.0 747.6,352.4 747.1,353.6 746.6,353.4 746.1,353.6 745.6,352.8 745.1,352.9 744.6,353.3 744.1,353.4 743.6,352.4 743.1,352.2 742.6,353.0 742.1,353.1 741.6,352.0 741.1,353.2 740.6,352.4 740.1,352.2 739.6,351.9 739.1,352.8 738.6,352.7 738.1,352.9 737.6,352.6 737.1,352.6 736.6,353.4 736.1,352.5 735.6,353.2 735.1,353.0 734.6,352.3 734.1,351.9 733.6,352.4 733.1,351.7 732.6,352.0 732.1,351.9 731.6,353.2 731.1,353.3 730.6,352.5 730.1,352.1 729.6,352.2 729.1,353.0 728.6,353.8 728.1,353.4 727.6,352.7 727.1,352.6 726.6,352.6 726.1,352.9 725.6,353.6 725.1,352.9 724.6,352.7 724.1,352.4 723.6,352.6 723.1,353.1 722.6,353.9 722.1,353.0 721.6,353.4 721.1,352.9 720.6,352.9 720.1,353.0 719.6,353.1 719.1,352.9 718.6,352.8 718.1,352.6 717.6,353.3 717.1,346.9 716.6,347.0 716.1,348.0 715.6,346.9 715.1,347.4 714.6,346.5 714.1,346.7 713.6,347.8 713.1,347.3 712.6,347.6 712.1,347.1 711.6,347.0 711.1,346.9 710.6,347.0 710.1,346.7 709.6,347.3 709.1,347.9 708.6,347.1 708.1,347.2 707.6,346.8 707.1,347.3 706.6,346.2 706.1,346.6 705.6,347.5 705.1,347.5 704.6,347.6 704.1,348.4 703.6,348.7 703.1,347.0 702.6,347.7 702.1,348.4 701.6,347.4 701.1,347.7 700.6,348.0 700.1,346.9 699.6,347.1 699.1,348.1 698.6,347.5 698.1,346.7 697.6,346.8 697.1,347.5 696.6,346.5 696.1,347.2 695.6,346.9 695.1,346.9 694.6,346.6 694.1,346.6 693.6,347.2 693.1,347.5 692.6,347.6 692.1,347.3 691.6,347.3 691.1,347.0 690.6,348.0 690.1,347.5 689.6,347.0 689.1,347.4 688.6,347.6 688.1,347.4 687.6,347.2 687.1,346.7 686.6,346.4 686.1,345.9 685.6,346.4 685.1,347.1 684.6,347.7 684.1,346.3 683.6,347.0 683.1,346.1 682.6,347.1 682.1,348.1 681.6,346.8 681.1,347.3 680.6,346.4 680.1,346.2 679.6,347.1 679.1,346.8 678.6,345.9 678.1,346.4 677.6,346.1 677.1,347.3 676.6,346.5 676.1,347.3 675.6,347.0 675.1,347.5 674.6,347.3 674.1,347.0 673.6,346.6 673.1,347.1 672.6,346.9 672.1,346.8 671.6,347.5 671.1,346.5 670.6,346.6 670.1,347.4 669.6,347.3 669.1,347.6 668.6,346.2 668.1,346.5 667.6,348.0 667.1,346.5 666.6,346.1 666.1,346.3 665.6,346.6 665.1,346.1 664.6,345.4 664.1,346.6 663.6,346.9 663.1,345.7 662.6,346.2 662.1,347.6 661.6,346.3 661.1,347.2 660.6,347.0 660.1,346.8 659.6,347.3 659.1,347.7 658.6,348.1 658.1,348.1 657.6,347.4 657.1,346.9 656.6,347.1 656.1,347.1 655.6,347.0 655.1,346.6 654.6,346.8 654.1,347.7 653.6,346.8 653.1,347.5 652.6,346.8 652.1,346.2 651.6,347.0 651.1,346.3 650.6,348.0 650.1,346.6 649.6,346.3 649.1,347.3 648.6,347.4 648.1,346.8 647.6,347.1 647.1,347.5 646.6,347.1 646.1,347.3 645.6,345.8 645.1,346.2 644.6,346.2 644.1,346.8 643.6,346.7 643.1,345.5 642.6,346.9 642.1,346.4 641.6,347.0 641.1,347.2 640.6,346.0 640.1,345.5 639.6,346.1 639.1,345.8 638.6,346.4 638.1,345.9 637.6,346.5 637.1,346.9 636.6,347.1 636.1,347.3 635.6,346.7 635.1,347.6 634.6,346.8 634.1,347.0 633.6,347.2 633.1,347.8 632.6,347.3 632.1,347.9 631.6,348.1 631.1,346.7 630.6,348.0 630.1,347.0 629.6,347.5 629.1,347.1 628.6,347.7 628.1,347.6 627.6,346.3 627.1,347.3 626.6,346.4 626.1,346.7 625.6,346.9 625.1,347.0 624.6,346.6 624.1,345.5 623.6,345.9 623.1,346.0 622.6,346.2 622.1,346.2 621.6,346.0 621.1,347.0 620.6,346.1 620.1,346.5 619.6,346.2 619.1,346.9 618.6,345.9 618.1,346.2 617.6,346.1 617.1,346.2 616.6,346.0 616.1,345.7 615.6,346.9 615.1,346.1 614.6,346.7 614.1,346.4 613.6,346.7 613.1,347.1 612.6,347.7 612.1,346.5 611.6,347.2 611.1,347.2 610.6,346.8 610.1,346.5 609.6,346.0 609.1,346.5 608.6,346.9 608.1,346.0 607.6,346.2 607.1,347.0 606.6,346.4 606.1,346.4 605.6,347.4 605.1,346.7 604.6,346.3 604.1,345.9 603.6,346.3 603.1,346.4 602.6,346.5 602.1,347.1 601.6,345.9 601.1,346.4 600.6,346.6 600.1,347.1 599.6,346.2 599.1,347.1 598.6,347.1 598.1,347.1 597.6,347.3 597.1,347.0 596.6,347.7 596.1,346.6 595.6,346.6 595.1,346.2 594.6,347.0 594.1,347.2 593.6,347.5 593.1,347.2 592.6,347.7 592.1,347.2 591.6,347.7 591.1,347.3 590.6,348.2 590.1,346.8 589.6,348.3 589.1,346.8 588.6,347.1 588.1,346.5 587.6,347.3 587.1,345.6 586.6,347.1 586.1,346.9 585.6,348.1 585.1,345.4 584.6,346.4 584.1,346.7 583.6,345.7 583.1,346.4 582.6,347.0 582.1,347.0 581.6,347.8 581.1,346.7 580.6,347.2 580.1,347.1 579.6,346.5 579.1,346.7 578.6,347.5 578.1,347.2 577.6,346.3 577.1,346.3 576.6,347.5 576.1,347.1 575.6,346.3 575.1,346.3 574.6,345.2 574.1,346.5 573.6,346.4 573.1,345.5 572.6,347.4 572.1,346.1 571.6,345.6 571.1,346.8 570.6,345.7 570.1,345.9 569.6,347.3 569.1,346.0 568.6,346.7 568.1,346.3 567.6,346.3 567.1,346.6 566.6,347.2 566.1,348.2 565.6,347.2 565.1,346.1 564.6,347.0 564.1,346.5 563.6,345.7 563.1,346.8 562.6,345.8 562.1,347.2 561.6,346.8 561.1,346.9 560.6,347.9 560.1,347.4 559.6,346.6 559.1,346.2 558.6,347.6 558.1,346.6 557.6,345.7 557.1,346.0 556.6,345.8 556.1,344.8 555.6,345.4 555.1,345.2 554.6,345.7 554.1,345.7 553.6,345.7 553.1,345.8 552.6,346.0 552.1,346.5 551.6,345.8 551.1,347.1 550.6,346.5 550.1,345.8 549.6,346.8 549.1,346.6 548.6,346.3 548.1,345.9 547.6,346.8 547.1,347.1 546.6,346.4 546.1,345.7 545.6,345.1 545.1,346.0 544.6,345.0 544.1,346.3 543.6,345.6 543.1,345.6 542.6,346.6 542.1,346.6 541.6,347.7 541.1,346.8 540.6,347.8 540.1,348.1 539.6,346.9 539.1,346.9 538.6,346.5 538.1,346.8 537.6,347.0 537.1,346.2 536.6,346.0 536.1,345.8 535.6,346.0 535.1,347.0 534.6,346.3 534.1,346.6 533.6,346.5 533.1,345.9 532.6,346.8 532.1,347.7 531.6,346.0 531.1,347.1 530.6,346.1 530.1,346.4 529.6,345.9 529.1,346.6 528.6,345.6 528.1,346.6 527.6,346.0 527.1,345.8 526.6,346.0 526.1,346.0 525.6,346.5 525.1,346.6 524.6,346.5 524.1,347.0 523.6,346.3 523.1,345.8 522.6,345.9 522.1,346.5 521.6,345.6 521.1,346.0 520.6,345.9 520.1,347.3 519.6,345.9 519.1,347.4 518.6,346.8 518.1,346.5 517.6,347.0 517.1,348.2 516.6,347.2 516.1,346.1 515.6,345.8 515.1,345.7 514.6,345.9 514.1,344.7 513.6,345.8 513.1,344.8 512.6,346.4 512.1,344.8 511.6,345.4 511.1,345.2 510.6,344.9 510.1,345.1 509.6,346.6 509.1,345.0 508.6,345.9 508.1,346.1 507.6,347.6 507.1,345.5 506.6,346.1 506.1,345.0 505.6,345.7 505.1,345.9 504.6,344.9 504.1,345.2 503.6,346.3 503.1,346.0 502.6,346.4 502.1,346.1 501.6,346.2 501.1,346.6 500.6,345.7 500.1,347.3 499.6,346.5 499.1,346.9 498.6,346.3 498.1,345.9 497.6,345.5 497.1,345.9 496.6,344.8 496.1,344.9 495.6,344.5 495.1,344.8 494.6,344.4 494.1,345.8 493.6,345.4 493.1,346.4 492.6,345.6 492.1,346.4 491.6,345.0 491.1,345.8 490.6,345.8 490.1,346.0 489.6,345.5 489.1,345.9 488.6,346.3 488.1,346.5 487.6,346.1 487.1,346.6 486.6,347.3 486.1,345.6 485.6,345.6 485.1,345.5 484.6,345.4 484.1,345.4 483.6,345.2 483.1,346.1 482.6,345.2 482.1,345.3 481.6,345.9 481.1,345.6 480.6,345.6 480.1,345.8 479.6,344.8 479.1,345.4 478.6,344.6 478.1,345.5 477.6,345.5 477.1,344.4 476.6,346.1 476.1,345.7 475.6,345.4 475.1,345.3 474.6,345.3 474.1,346.1 473.6,345.7 473.1,345.2 472.6,344.7 472.1,344.8 471.6,345.1 471.1,344.8 470.6,345.4 470.1,345.9 469.6,344.9 469.1,346.7 468.6,345.7 468.1,344.9 467.6,344.8 467.1,344.6 466.6,344.7 466.1,344.4 465.6,344.7 465.1,344.7 464.6,344.5 464.1,344.4 463.6,344.7 463.1,344.4 462.6,344.9 462.1,345.2 461.6,345.3 461.1,345.3 460.6,346.3 460.1,346.8 459.6,346.3 459.1,345.4 458.6,345.4 458.1,344.7 457.6,344.6 457.1,344.9 456.6,344.1 456.1,345.1 455.6,345.2 455.1,345.5 454.6,344.5 454.1,345.3 453.6,343.9 453.1,344.5 452.6,344.1 452.1,344.2 451.6,345.6 451.1,344.2 450.6,343.9 450.1,343.4 449.6,344.1 449.1,344.6 448.6,344.2 448.1,343.6 447.6,343.9 447.1,344.8 446.6,344.7 446.1,344.2 445.6,344.2 445.1,345.2 444.6,344.3 444.1,344.5 443.6,343.9 443.1,344.5 442.6,344.1 442.1,343.9 441.6,344.7 441.1,344.6 440.6,344.0 440.1,343.9 439.6,345.2 439.1,344.5 438.6,343.5 438.1,343.9 437.6,344.4 437.1,343.3 436.6,343.1 436.1,343.2 435.6,343.5 435.1,343.9 434.6,343.5 434.1,344.5 433.6,343.6 433.1,343.4 432.6,345.3 432.1,343.6 431.6,344.5 431.1,343.0 430.6,343.6 430.1,343.9 429.6,343.6 429.1,343.2 428.6,343.5 428.1,343.2 427.6,342.7 427.1,343.3 426.6,343.1 426.1,343.0 425.6,342.4 425.1,342.4 424.6,342.8 424.1,343.7 423.6,343.1 423.1,343.6 422.6,343.0 422.1,344.0 421.6,343.7 421.1,343.0 420.6,342.5 420.1,343.0 419.6,343.3 419.1,343.4 418.6,343.9 418.1,343.2 417.6,343.1 417.1,343.9 416.6,343.9 416.1,343.2 415.6,342.6 415.1,343.3 414.6,342.9 414.1,342.7 413.6,343.6 413.1,342.8 412.6,342.7 412.1,342.3 411.6,342.4 411.1,342.2 410.6,342.8 410.1,341.7 409.6,341.7 409.1,342.0 408.6,341.8 408.1,341.9 407.6,342.1 407.1,342.8 406.6,342.1 406.1,342.8 405.6,342.7 405.1,343.4 404.6,343.3 404.1,342.6 403.6,343.4 403.1,343.4 402.6,342.9 402.1,342.7 401.6,342.6 401.1,343.3 400.6,342.9 400.1,344.2 399.6,343.4 399.1,343.6 398.6,342.2 398.1,342.1 397.6,343.2 397.1,342.1 396.6,341.8 396.1,343.2 395.6,342.1 395.1,342.2 394.6,342.9 394.1,342.3 393.6,342.9 393.1,342.7 392.6,343.9 392.1,344.3 391.6,342.8 391.1,342.8 390.6,342.1 390.1,343.7 389.6,343.5 389.1,342.6 388.6,342.0 388.1,342.3 387.6,342.5 387.1,341.3 386.6,341.3 386.1,342.2 385.6,341.0 385.1,341.3 384.6,340.6 384.1,341.3 383.6,341.5 383.1,341.4 382.6,341.3 382.1,341.6 381.6,341.8 381.1,341.0 380.6,340.3 380.1,340.7 379.6,340.7 379.1,340.4 378.6,341.4 378.1,343.6 377.6,343.3 377.1,348.6 376.6,349.5 376.1,348.3 375.6,353.8 375.1,352.6 374.6,353.9 374.1,353.2 373.6,352.9 373.1,353.7 372.6,353.2 372.1,353.0 371.6,352.8 371.1,353.4 370.6,353.4 370.1,353.4 369.6,354.0 369.1,353.2 368.6,353.7 368.1,353.3 367.6,353.5 367.1,353.1 366.6,353.7 366.1,352.3 365.6,353.7 365.1,353.9 364.6,352.2 364.1,352.7 363.6,354.4 363.1,352.5 362.6,352.5 362.1,352.5 361.6,354.0 361.1,352.3 360.6,352.3 360.1,352.1 359.6,351.5 359.1,352.2 358.6,353.3 358.1,353.8 357.6,353.6 357.1,352.6 356.6,352.7 356.1,353.2 355.6,352.4 355.1,352.9 354.6,352.4 354.1,353.0 353.6,353.2 353.1,352.6 352.6,352.9 352.1,353.8 351.6,353.9 351.1,353.1 350.6,353.3 350.1,352.7 349.6,351.8 349.1,352.8 348.6,352.9 348.1,352.7 347.6,353.7 347.1,352.7 346.6,352.9 346.1,352.6 345.6,352.0 345.1,352.6 344.6,353.2 344.1,352.4 343.6,352.9 343.1,352.9 342.6,352.4 342.1,352.3 341.6,351.9 341.1,352.4 340.6,352.2 340.1,352.4 339.6,352.8 339.1,352.7 338.6,352.0 338.1,352.4 337.6,352.6 337.1,352.3 336.6,352.5 336.1,354.0 335.6,352.7 335.1,352.8 334.6,353.3 334.1,353.4 333.6,353.4 333.1,352.7 332.6,353.6 332.1,353.3 331.6,354.4 331.1,354.1 330.6,353.7 330.1,354.1 329.6,353.7 329.1,353.3 328.6,353.6 328.1,354.9 327.6,354.5 327.1,354.7 326.6,353.9 326.1,353.5 325.6,353.2 325.1,353.2 324.6,353.3 324.1,353.0 323.6,353.0 323.1,353.0 322.6,353.9 322.1,354.2 321.6,353.1 321.1,353.2 320.6,353.1 320.1,353.6 319.6,352.3 319.1,353.2 318.6,352.1 318.1,353.1 317.6,352.2 317.1,352.9 316.6,353.3 316.1,353.3 315.6,352.5 315.1,352.2 314.6,354.0 314.1,353.1 313.6,353.2 313.1,352.5 312.6,353.4 312.1,353.1 311.6,354.1 311.1,353.0 310.6,353.1 310.1,354.0 309.6,353.1 309.1,353.0 308.6,352.7 308.1,353.4 307.6,354.6 307.1,354.3 306.6,353.3 306.1,352.7 305.6,353.1 305.1,352.8 304.6,354.3 304.1,353.5 303.6,353.8 303.1,352.7 302.6,353.0 302.1,352.5 301.6,353.2 301.1,352.7 300.6,353.2 300.1,353.0 299.6,353.6 299.1,353.9 298.6,353.3 298.1,353.8 297.6,353.4 297.1,354.2 296.6,353.0 296.1,353.0 295.6,353.1 295.1,353.4 294.6,353.6 294.1,353.0 293.6,352.7 293.1,353.3 292.6,352.3 292.1,353.7 291.6,352.6 291.1,353.3 290.6,352.3 290.1,353.4 289.6,354.2 289.1,352.9 288.6,353.1 288.1,352.5 287.6,352.5 287.1,353.3 286.6,353.4 286.1,352.4 285.6,352.8 285.1,352.6 284.6,352.4 284.1,352.0 283.6,353.2 283.1,351.5 282.6,351.5 282.1,353.1 281.6,352.5 281.1,352.3 280.6,353.6 280.1,353.1 279.6,352.7 279.1,352.6 278.6,354.1 278.1,352.9 277.6,353.6 277.1,352.6 276.6,353.0 276.1,353.0 275.6,352.5 275.1,352.6 274.6,352.6 274.1,353.0 273.6,352.6 273.1,352.4 272.6,353.7 272.1,354.0 271.6,352.7 271.1,352.7 270.6,353.3 270.1,352.8 269.6,352.7 269.1,353.1 268.6,352.0 268.1,353.8 267.6,352.5 267.1,354.6 266.6,353.1 266.1,352.6 265.6,353.3 265.1,353.7 264.6,352.8 264.1,352.9 263.6,353.4 263.1,353.5 262.6,352.4 262.1,353.0 261.6,354.1 261.1,353.9 260.6,353.6 260.1,353.2 259.6,352.6 259.1,353.2 258.6,353.3 258.1,354.2 257.6,353.1 257.1,352.9 256.6,354.5 256.1,352.7 255.6,354.5 255.1,354.0 254.6,354.1 254.1,353.1 253.6,354.2 253.1,354.1 252.6,353.2 252.1,355.0 251.6,353.5 251.1,354.3 250.6,353.2 250.1,353.4 249.6,353.7 249.1,353.0 248.6,353.1 248.1,353.5 247.6,353.6 247.1,354.3 246.6,353.0 246.1,352.7 245.6,353.6 245.1,353.4 244.6,352.6 244.1,352.9 243.6,352.9 243.1,352.7 242.6,353.2 242.1,353.5 241.6,354.6 241.1,352.7 240.6,353.0 240.1,353.2 239.6,352.9 239.1,353.0 238.6,353.1 238.1,352.9 237.6,353.1 237.1,351.7 236.6,352.4 236.1,352.8 235.6,351.9 235.1,353.9 234.6,353.5 234.1,353.0 233.6,354.3 233.1,353.8 232.6,354.1 232.1,352.7 231.6,353.7 231.1,353.9 230.6,352.7 230.1,352.6 229.6,353.5 229.1,354.0 228.6,352.6 228.1,353.5 227.6,353.6 227.1,352.7 226.6,352.1 226.1,352.2 225.6,352.8 225.1,353.0 224.6,352.8 224.1,353.5 223.6,352.9 223.1,353.4 222.6,353.0 222.1,354.3 221.6,353.6 221.1,354.1 220.6,353.4 220.1,353.3 219.6,353.2 219.1,353.5 218.6,352.7 218.1,352.7 217.6,352.7 217.1,354.5 216.6,353.4 216.1,353.3 215.6,353.5 215.1,352.2 214.6,352.7 214.1,353.9 213.6,352.9 213.1,353.1 212.6,352.5 212.1,353.6 211.6,353.1 211.1,352.6 210.6,353.3 210.1,353.7 209.6,352.5 209.1,352.7 208.6,352.6 208.1,352.5 207.6,351.9 207.1,353.1 206.6,352.3 206.1,352.9 205.6,352.9 205.1,352.9 204.6,352.1 204.1,353.0 203.6,352.8 203.1,352.9 202.6,352.5 202.1,352.9 201.6,354.1 201.1,353.6 200.6,354.1 200.1,352.7 199.6,353.4 199.1,353.7 198.6,352.8 198.1,352.2 197.6,354.1 197.1,354.2 196.6,353.5 196.1,352.8 195.6,353.8 195.1,353.7 194.6,353.1 194.1,353.6 193.6,352.9 193.1,353.7 192.6,353.2 192.1,354.3 191.6,354.6 191.1,352.6 190.6,352.8 190.1,352.6 189.6,353.6 189.1,352.8 188.6,354.0 188.1,352.6 187.6,353.3 187.1,352.7 186.6,353.5 186.1,352.9 185.6,352.7 185.1,353.1 184.6,353.0 184.1,352.3 183.6,354.3 183.1,352.8 182.6,352.5 182.1,353.6 181.6,352.1 181.1,352.5 180.6,352.6 180.1,352.0 179.6,353.8 179.1,353.1 178.6,352.7 178.1,352.9 177.6,353.7 177.1,353.1 176.6,353.0 176.1,352.4 175.6,354.6 175.1,353.6 174.6,355.0 174.1,352.9 173.6,352.2 173.1,351.6 172.6,353.2 172.1,352.6 171.6,352.2 171.1,352.0 170.6,352.2 170.1,353.3 169.6,352.0 169.1,352.4 168.6,351.8 168.1,351.6 167.6,352.2 167.1,351.8 166.6,352.4 166.1,352.5 165.6,352.3 165.1,352.5 164.6,351.3 164.1,351.9 163.6,352.1 163.1,351.8 162.6,352.5 162.1,352.7 161.6,352.2 161.1,351.5 160.6,353.3 160.1,351.1 159.6,351.0 159.1,351.1 158.6,350.7 158.1,350.5 157.6,350.8 157.1,351.4 156.6,350.9 156.1,350.5 155.6,351.1 155.1,350.4 154.6,350.0 154.1,350.2 153.6,350.8 153.1,350.0 152.6,350.4 152.1,350.5 151.6,350.1 151.1,350.2 150.6,350.3 150.1,352.1 149.6,351.0 149.1,350.3 148.6,351.1 148.1,351.2 147.6,350.4 147.1,350.7 146.6,350.0 146.1,350.5 145.6,350.6 145.1,350.0 144.6,350.8 144.1,350.5 143.6,351.0 143.1,350.4 142.6,350.2 142.1,351.4 141.6,351.6 141.1,350.7 140.6,351.4 140.1,349.7 139.6,350.8 139.1,351.1 138.6,350.8 138.1,350.2 137.6,351.1 137.1,351.2 136.6,351.0 136.1,350.6 135.6,351.0 135.1,351.1 134.6,350.9 134.1,350.7 133.6,351.3 133.1,350.4 132.6,351.4 132.1,351.6 131.6,351.3 131.1,351.1 130.6,351.5 130.1,351.3 129.6,350.8 129.1,352.7 128.6,351.3 128.1,351.2 127.6,350.7 127.1,351.1 126.6,350.8 126.1,351.1 125.6,351.3 125.1,350.6 124.6,350.7 124.1,350.8 123.6,350.9 123.1,350.7 122.6,350.1 122.1,350.5 121.6,350.3 121.1,350.8 120.6,350.0 120.1,350.2 119.6,350.7 119.1,350.4 118.6,350.5 118.1,349.8 117.6,350.9 117.1,350.5 116.6,352.7 116.1,353.6 115.6,352.3 115.1,352.5 114.6,351.9 114.1,352.6 113.6,352.6 113.1,351.7 112.6,352.4 112.1,352.9 111.6,352.0 111.1,351.9 110.6,352.0 110.1,353.0 109.6,352.3 109.1,352.4 108.6,353.1 108.1,352.5 107.6,353.4 107.1,353.4 106.6,352.5 106.1,352.9 105.6,353.0 105.1,352.6 104.6,352.9 104.1,352.9 103.6,352.7 103.1,351.6 102.6,352.5 102.1,352.2 101.6,353.5 101.1,352.0 100.6,353.6 100.1,352.1 99.6,353.0 99.1,352.5 98.6,354.4 98.1,353.0 97.6,352.9 97.1,353.6 96.6,353.4 96.1,352.5 95.6,353.4 95.1,353.3 94.6,353.2 94.1,353.1 93.6,353.5 93.1,353.0 92.6,352.7 92.1,352.0 91.6,354.8 91.1,351.6 90.6,352.2 90.1,353.3 89.6,353.0 89.1,353.6 88.6,352.8 88.1,352.5 87.6,352.9 87.1,353.3 86.6,352.2 86.1,352.6 85.6,353.0 85.1,352.4 84.6,352.7 84.1,353.5 83.6,354.6 83.1,353.3 82.6,352.8 82.1,353.4 81.6,353.4 81.1,354.0 80.6,353.2 80.1,353.7 79.6,352.6 79.1,353.1 78.6,353.3 78.1,352.8 77.6,353.6 77.1,353.7 76.6,353.9 76.1,352.5 75.6,352.5 75.1,352.4 74.6,353.2 74.1,352.2 73.6,353.6"/><line x1="375.7" y1="350.6" x2="375.7" y2="338.7" stroke="#bcbd12" stroke-width="1.1"/><polygon fill="#f4107e" points="73.6,348.2 74.1,347.5 74.6,348.0 75.1,348.5 75.6,348.2 76.1,346.6 76.6,347.7 77.1,346.2 77.6,348.1 78.1,346.4 78.6,345.1 79.1,344.4 79.6,347.7 80.1,346.9 80.6,347.0 81.1,346.6 81.6,347.9 82.1,346.5 82.6,348.7 83.1,347.6 83.6,349.5 84.1,348.7 84.6,346.7 85.1,349.1 85.6,348.5 86.1,348.3 86.6,347.9 87.1,345.4 87.6,347.5 88.1,345.8 88.6,347.6 89.1,347.4 89.6,347.3 90.1,347.6 90.6,345.8 91.1,346.4 91.6,347.6 92.1,347.8 92.6,346.4 93.1,348.6 93.6,348.5 94.1,348.5 94.6,348.8 95.1,347.9 95.6,348.4 96.1,347.6 96.6,346.8 97.1,345.6 97.6,346.7 98.1,347.0 98.6,346.5 99.1,346.8 99.6,347.1 100.1,346.5 100.6,347.7 101.1,348.0 101.6,346.4 102.1,347.3 102.6,347.4 103.1,347.8 103.6,346.5 104.1,347.8 104.6,347.3 105.1,345.8 105.6,344.5 106.1,347.7 106.6,347.6 107.1,348.2 107.6,348.1 108.1,347.3 108.6,345.5 109.1,347.0 109.6,346.6 110.1,346.3 110.6,346.8 111.1,347.6 111.6,347.1 112.1,347.8 112.6,347.7 113.1,346.4 113.6,345.3 114.1,347.0 114.6,347.7 115.1,348.1 115.6,347.0 116.1,344.9 116.6,343.3 117.1,344.1 117.6,344.6 118.1,346.5 118.6,345.7 119.1,346.6 119.6,345.6 120.1,346.5 120.6,346.6 121.1,345.4 121.6,346.7 122.1,346.2 122.6,344.8 123.1,345.3 123.6,344.7 124.1,346.0 124.6,346.9 125.1,346.0 125.6,347.1 126.1,345.9 126.6,346.5 127.1,346.1 127.6,344.9 128.1,342.9 128.6,344.1 129.1,344.1 129.6,344.0 130.1,342.4 130.6,344.9 131.1,345.2 131.6,343.4 132.1,344.2 132.6,345.0 133.1,346.3 133.6,346.2 134.1,345.7 134.6,346.2 135.1,344.9 135.6,344.5 136.1,345.2 136.6,346.4 137.1,345.7 137.6,347.1 138.1,346.2 138.6,346.0 139.1,346.6 139.6,346.3 140.1,345.7 140.6,344.9 141.1,345.0 141.6,345.5 142.1,345.8 142.6,344.4 143.1,344.3 143.6,343.7 144.1,343.5 144.6,344.8 145.1,345.5 145.6,344.4 146.1,345.5 146.6,345.3 147.1,346.1 147.6,345.9 148.1,345.8 148.6,344.4 149.1,343.9 149.6,346.0 150.1,346.2 150.6,346.6 151.1,347.2 151.6,347.4 152.1,347.4 152.6,346.2 153.1,343.7 153.6,344.6 154.1,344.7 154.6,346.9 155.1,346.8 155.6,345.6 156.1,344.6 156.6,345.1 157.1,345.8 157.6,345.7 158.1,345.8 158.6,345.6 159.1,345.3 159.6,346.6 160.1,344.7 160.6,343.9 161.1,345.9 161.6,346.6 162.1,346.2 162.6,345.3 163.1,346.0 163.6,345.9 164.1,346.2 164.6,348.1 165.1,345.3 165.6,345.1 166.1,346.0 166.6,344.8 167.1,343.9 167.6,343.9 168.1,343.2 168.6,342.4 169.1,341.6 169.6,340.8 170.1,339.6 170.6,341.1 171.1,341.5 171.6,339.4 172.1,340.0 172.6,339.4 173.1,339.1 173.6,338.0 174.1,338.4 174.6,338.0 175.1,338.1 175.6,337.7 176.1,336.5 176.6,337.4 177.1,336.2 177.6,335.8 178.1,334.7 178.6,337.0 179.1,336.4 179.6,335.7 180.1,334.7 180.6,335.9 181.1,334.5 181.6,333.7 182.1,331.5 182.6,332.9 183.1,333.6 183.6,331.2 184.1,333.4 184.6,333.1 185.1,329.9 185.6,332.8 186.1,331.0 186.6,332.1 187.1,331.8 187.6,332.4 188.1,331.5 188.6,330.7 189.1,332.1 189.6,330.3 190.1,329.0 190.6,329.9 191.1,330.5 191.6,331.2 192.1,330.8 192.6,329.7 193.1,329.5 193.6,329.5 194.1,330.0 194.6,329.7 195.1,330.4 195.6,328.1 196.1,328.7 196.6,326.0 197.1,326.9 197.6,326.8 198.1,328.5 198.6,327.8 199.1,327.1 199.6,326.7 200.1,327.0 200.6,326.9 201.1,326.5 201.6,327.0 202.1,325.9 202.6,325.5 203.1,326.7 203.6,326.6 204.1,326.1 204.6,325.8 205.1,326.5 205.6,325.4 206.1,325.9 206.6,325.1 207.1,325.1 207.6,326.2 208.1,325.4 208.6,324.8 209.1,325.4 209.6,325.6 210.1,325.3 210.6,323.0 211.1,323.9 211.6,324.7 212.1,324.3 212.6,323.8 213.1,324.9 213.6,323.9 214.1,323.0 214.6,322.9 215.1,322.6 215.6,324.5 216.1,322.6 216.6,323.0 217.1,323.9 217.6,325.1 218.1,324.0 218.6,324.2 219.1,323.9 219.6,323.4 220.1,323.8 220.6,321.3 221.1,323.7 221.6,322.4 222.1,323.2 222.6,323.3 223.1,324.1 223.6,322.6 224.1,324.0 224.6,322.8 225.1,322.3 225.6,323.3 226.1,323.6 226.6,323.4 227.1,323.4 227.6,322.9 228.1,324.2 228.6,323.7 229.1,323.7 229.6,323.7 230.1,323.5 230.6,323.1 231.1,323.5 231.6,322.1 232.1,323.2 232.6,322.5 233.1,322.2 233.6,322.6 234.1,322.7 234.6,324.1 235.1,324.7 235.6,323.4 236.1,323.4 236.6,322.8 237.1,324.4 237.6,322.9 238.1,323.2 238.6,322.7 239.1,322.9 239.6,322.6 240.1,321.7 240.6,321.2 241.1,321.9 241.6,319.6 242.1,320.9 242.6,321.8 243.1,321.5 243.6,321.8 244.1,322.7 244.6,322.8 245.1,322.1 245.6,322.0 246.1,321.5 246.6,322.2 247.1,320.2 247.6,321.0 248.1,320.7 248.6,320.8 249.1,319.5 249.6,320.5 250.1,321.2 250.6,320.9 251.1,321.5 251.6,319.5 252.1,320.7 252.6,320.5 253.1,321.4 253.6,320.0 254.1,318.8 254.6,319.7 255.1,317.4 255.6,321.4 256.1,319.8 256.6,321.2 257.1,321.2 257.6,321.0 258.1,321.7 258.6,321.7 259.1,322.1 259.6,322.1 260.1,321.7 260.6,321.5 261.1,320.5 261.6,321.0 262.1,320.4 262.6,320.3 263.1,319.6 263.6,321.1 264.1,320.6 264.6,319.8 265.1,320.6 265.6,320.1 266.1,319.3 266.6,321.0 267.1,319.0 267.6,320.3 268.1,320.1 268.6,319.2 269.1,321.8 269.6,322.1 270.1,321.4 270.6,319.1 271.1,319.3 271.6,321.7 272.1,318.6 272.6,320.3 273.1,319.8 273.6,320.3 274.1,320.2 274.6,320.3 275.1,320.1 275.6,319.0 276.1,319.9 276.6,321.5 277.1,320.4 277.6,320.9 278.1,319.4 278.6,320.9 279.1,321.3 279.6,321.6 280.1,320.8 280.6,320.8 281.1,320.8 281.6,321.3 282.1,319.8 282.6,320.2 283.1,319.3 283.6,320.1 284.1,319.1 284.6,319.8 285.1,319.1 285.6,319.7 286.1,319.7 286.6,320.1 287.1,320.6 287.6,321.2 288.1,318.7 288.6,321.0 289.1,318.7 289.6,319.8 290.1,319.5 290.6,320.1 291.1,319.5 291.6,320.5 292.1,320.5 292.6,319.7 293.1,319.7 293.6,320.2 294.1,319.8 294.6,320.9 295.1,321.4 295.6,319.8 296.1,319.1 296.6,319.7 297.1,319.9 297.6,320.6 298.1,319.4 298.6,319.5 299.1,319.3 299.6,319.2 300.1,319.5 300.6,317.5 301.1,318.9 301.6,319.8 302.1,319.7 302.6,318.8 303.1,318.7 303.6,318.8 304.1,318.8 304.6,318.4 305.1,318.4 305.6,318.2 306.1,316.4 306.6,319.0 307.1,320.2 307.6,318.9 308.1,318.2 308.6,320.1 309.1,319.1 309.6,318.2 310.1,319.3 310.6,319.4 311.1,317.0 311.6,319.1 312.1,318.3 312.6,318.2 313.1,319.2 313.6,319.9 314.1,320.1 314.6,318.6 315.1,319.8 315.6,320.1 316.1,319.8 316.6,319.4 317.1,317.1 317.6,318.8 318.1,318.7 318.6,319.5 319.1,318.8 319.6,318.3 320.1,318.3 320.6,317.7 321.1,320.3 321.6,318.0 322.1,319.7 322.6,319.5 323.1,317.0 323.6,318.0 324.1,319.9 324.6,315.8 325.1,318.5 325.6,319.5 326.1,318.0 326.6,316.9 327.1,319.0 327.6,319.9 328.1,317.4 328.6,317.9 329.1,319.7 329.6,319.1 330.1,319.4 330.6,318.0 331.1,319.5 331.6,318.6 332.1,319.6 332.6,320.6 333.1,320.7 333.6,319.0 334.1,319.0 334.6,319.3 335.1,320.0 335.6,320.1 336.1,320.2 336.6,319.9 337.1,320.2 337.6,318.7 338.1,319.7 338.6,319.1 339.1,319.3 339.6,319.1 340.1,320.1 340.6,320.5 341.1,319.4 341.6,319.6 342.1,318.4 342.6,318.1 343.1,319.0 343.6,318.9 344.1,318.7 344.6,318.4 345.1,319.1 345.6,317.4 346.1,319.0 346.6,319.7 347.1,318.9 347.6,318.3 348.1,317.6 348.6,318.7 349.1,318.0 349.6,318.2 350.1,319.0 350.6,318.7 351.1,316.9 351.6,318.7 352.1,319.0 352.6,318.7 353.1,318.4 353.6,318.1 354.1,319.5 354.6,319.4 355.1,320.0 355.6,319.0 356.1,317.1 356.6,319.3 357.1,319.1 357.6,319.1 358.1,318.1 358.6,317.6 359.1,317.4 359.6,317.9 360.1,318.2 360.6,318.2 361.1,318.8 361.6,318.4 362.1,318.5 362.6,315.9 363.1,318.5 363.6,318.1 364.1,318.2 364.6,317.3 365.1,318.9 365.6,316.3 366.1,319.3 366.6,318.5 367.1,318.2 367.6,317.7 368.1,318.9 368.6,317.9 369.1,318.2 369.6,317.8 370.1,318.3 370.6,316.6 371.1,316.9 371.6,318.1 372.1,316.9 372.6,319.1 373.1,319.3 373.6,318.8 374.1,319.8 374.6,319.0 375.1,319.6 375.6,319.1 376.1,175.6 376.6,174.8 377.1,173.2 377.6,173.5 378.1,171.7 378.6,174.2 379.1,173.1 379.6,174.1 380.1,176.0 380.6,176.2 381.1,177.0 381.6,178.1 382.1,180.6 382.6,181.4 383.1,182.3 383.6,182.5 384.1,184.6 384.6,185.5 385.1,187.3 385.6,187.2 386.1,189.0 386.6,189.8 387.1,191.3 387.6,191.4 388.1,193.1 388.6,193.8 389.1,194.5 389.6,195.5 390.1,195.6 390.6,196.8 391.1,197.5 391.6,197.6 392.1,198.4 392.6,199.4 393.1,200.5 393.6,201.1 394.1,201.3 394.6,202.7 395.1,203.9 395.6,203.5 396.1,205.2 396.6,206.0 397.1,206.3 397.6,206.5 398.1,208.3 398.6,209.1 399.1,209.1 399.6,209.5 400.1,210.8 400.6,211.6 401.1,211.5 401.6,212.4 402.1,213.5 402.6,214.6 403.1,215.5 403.6,214.8 404.1,215.5 404.6,217.3 405.1,217.7 405.6,218.4 406.1,218.0 406.6,218.7 407.1,217.9 407.6,218.1 408.1,218.7 408.6,220.6 409.1,221.2 409.6,221.4 410.1,222.2 410.6,223.3 411.1,222.3 411.6,224.3 412.1,224.2 412.6,225.4 413.1,224.9 413.6,226.1 414.1,226.6 414.6,226.8 415.1,227.5 415.6,227.5 416.1,228.1 416.6,228.6 417.1,229.3 417.6,229.5 418.1,230.3 418.6,230.4 419.1,231.8 419.6,231.8 420.1,232.7 420.6,232.0 421.1,232.5 421.6,233.7 422.1,232.2 422.6,232.5 423.1,233.4 423.6,234.3 424.1,234.7 424.6,235.7 425.1,235.9 425.6,235.8 426.1,236.6 426.6,237.3 427.1,237.2 427.6,237.3 428.1,238.8 428.6,237.5 429.1,237.8 429.6,239.1 430.1,237.4 430.6,238.3 431.1,238.4 431.6,239.9 432.1,240.0 432.6,240.1 433.1,239.8 433.6,241.4 434.1,241.8 434.6,241.3 435.1,240.4 435.6,242.0 436.1,243.0 436.6,243.2 437.1,242.5 437.6,243.6 438.1,244.1 438.6,242.8 439.1,244.1 439.6,244.3 440.1,244.1 440.6,245.0 441.1,245.7 441.6,245.1 442.1,245.5 442.6,246.3 443.1,247.1 443.6,246.9 444.1,245.7 444.6,247.8 445.1,247.0 445.6,248.5 446.1,247.6 446.6,248.0 447.1,249.3 447.6,248.1 448.1,249.7 448.6,250.0 449.1,250.3 449.6,250.6 450.1,251.5 450.6,251.7 451.1,252.5 451.6,252.7 452.1,252.6 452.6,251.5 453.1,252.0 453.6,251.7 454.1,251.9 454.6,253.6 455.1,252.9 455.6,253.5 456.1,253.6 456.6,254.9 457.1,254.6 457.6,254.8 458.1,254.2 458.6,255.1 459.1,254.7 459.6,255.0 460.1,255.4 460.6,255.4 461.1,256.2 461.6,255.8 462.1,256.2 462.6,255.4 463.1,256.3 463.6,255.3 464.1,256.4 464.6,255.2 465.1,256.4 465.6,256.0 466.1,256.9 466.6,257.7 467.1,257.3 467.6,257.9 468.1,258.2 468.6,258.0 469.1,258.3 469.6,258.8 470.1,259.2 470.6,259.6 471.1,260.1 471.6,259.5 472.1,259.4 472.6,259.4 473.1,259.5 473.6,259.5 474.1,259.7 474.6,258.5 475.1,259.6 475.6,259.5 476.1,259.1 476.6,259.4 477.1,260.2 477.6,260.2 478.1,259.3 478.6,259.8 479.1,260.8 479.6,259.3 480.1,259.8 480.6,260.9 481.1,261.2 481.6,260.3 482.1,261.6 482.6,261.1 483.1,262.1 483.6,262.8 484.1,263.5 484.6,262.4 485.1,263.6 485.6,263.6 486.1,264.2 486.6,263.6 487.1,264.3 487.6,265.3 488.1,265.9 488.6,265.1 489.1,266.0 489.6,266.8 490.1,266.3 490.6,267.3 491.1,266.8 491.6,267.0 492.1,267.7 492.6,268.0 493.1,268.1 493.6,268.2 494.1,268.3 494.6,267.2 495.1,266.8 495.6,267.3 496.1,267.0 496.6,267.5 497.1,267.6 497.6,269.1 498.1,268.4 498.6,269.5 499.1,269.7 499.6,269.8 500.1,269.2 500.6,269.6 501.1,269.3 501.6,269.0 502.1,268.3 502.6,269.3 503.1,269.7 503.6,270.3 504.1,270.2 504.6,269.4 505.1,270.5 505.6,269.6 506.1,269.6 506.6,271.1 507.1,270.1 507.6,269.8 508.1,271.0 508.6,272.5 509.1,272.2 509.6,272.9 510.1,273.7 510.6,273.6 511.1,273.0 511.6,272.8 512.1,273.7 512.6,273.0 513.1,273.5 513.6,273.1 514.1,272.5 514.6,272.1 515.1,272.9 515.6,272.7 516.1,273.0 516.6,271.4 517.1,272.4 517.6,273.9 518.1,273.9 518.6,273.5 519.1,273.7 519.6,273.6 520.1,273.9 520.6,273.0 521.1,272.7 521.6,274.2 522.1,274.6 522.6,274.4 523.1,275.3 523.6,274.7 524.1,275.8 524.6,276.3 525.1,276.0 525.6,275.2 526.1,274.8 526.6,275.0 527.1,275.5 527.6,275.4 528.1,276.5 528.6,277.1 529.1,277.1 529.6,277.4 530.1,278.1 530.6,278.0 531.1,278.7 531.6,277.0 532.1,277.9 532.6,277.4 533.1,277.9 533.6,278.6 534.1,278.6 534.6,278.0 535.1,278.4 535.6,278.7 536.1,277.5 536.6,278.6 537.1,277.8 537.6,278.9 538.1,278.7 538.6,279.1 539.1,279.8 539.6,278.9 540.1,279.3 540.6,277.9 541.1,278.4 541.6,278.7 542.1,279.4 542.6,279.6 543.1,279.2 543.6,280.1 544.1,279.9 544.6,280.9 545.1,281.1 545.6,281.2 546.1,281.5 546.6,282.0 547.1,281.5 547.6,281.2 548.1,280.4 548.6,282.3 549.1,281.1 549.6,281.4 550.1,281.6 550.6,281.3 551.1,280.8 551.6,280.8 552.1,280.2 552.6,280.5 553.1,281.5 553.6,281.4 554.1,281.3 554.6,281.6 555.1,281.4 555.6,280.9 556.1,281.5 556.6,281.8 557.1,282.2 557.6,281.5 558.1,282.6 558.6,283.5 559.1,283.8 559.6,284.2 560.1,283.8 560.6,283.7 561.1,284.7 561.6,284.5 562.1,285.0 562.6,284.5 563.1,284.0 563.6,283.3 564.1,283.6 564.6,283.3 565.1,283.0 565.6,282.9 566.1,282.8 566.6,283.5 567.1,283.5 567.6,284.0 568.1,282.9 568.6,284.0 569.1,284.3 569.6,283.0 570.1,283.6 570.6,284.9 571.1,284.5 571.6,285.4 572.1,285.9 572.6,285.9 573.1,286.2 573.6,286.0 574.1,285.8 574.6,286.7 575.1,285.2 575.6,285.3 576.1,285.5 576.6,284.7 577.1,284.7 577.6,284.6 578.1,283.9 578.6,285.4 579.1,285.6 579.6,285.5 580.1,286.1 580.6,287.0 581.1,287.2 581.6,286.8 582.1,287.4 582.6,287.2 583.1,288.3 583.6,288.1 584.1,288.8 584.6,288.7 585.1,288.5 585.6,287.3 586.1,286.8 586.6,287.5 587.1,288.2 587.6,288.3 588.1,288.6 588.6,287.9 589.1,286.7 589.6,286.5 590.1,287.6 590.6,287.9 591.1,288.8 591.6,287.5 592.1,288.1 592.6,288.7 593.1,288.9 593.6,289.5 594.1,289.5 594.6,289.7 595.1,289.9 595.6,290.6 596.1,289.7 596.6,291.0 597.1,290.2 597.6,291.1 598.1,291.4 598.6,291.3 599.1,291.3 599.6,290.6 600.1,291.9 600.6,291.2 601.1,291.3 601.6,292.2 602.1,291.7 602.6,291.6 603.1,291.0 603.6,291.2 604.1,291.7 604.6,291.3 605.1,291.5 605.6,291.4 606.1,291.4 606.6,291.3 607.1,291.3 607.6,290.1 608.1,291.3 608.6,290.9 609.1,291.5 609.6,290.1 610.1,290.5 610.6,290.4 611.1,290.6 611.6,288.4 612.1,289.9 612.6,290.5 613.1,291.1 613.6,291.2 614.1,290.6 614.6,291.2 615.1,291.6 615.6,292.8 616.1,292.9 616.6,291.7 617.1,293.0 617.6,292.6 618.1,292.2 618.6,292.7 619.1,291.6 619.6,292.0 620.1,292.2 620.6,292.1 621.1,292.1 621.6,292.3 622.1,293.0 622.6,292.2 623.1,293.4 623.6,292.8 624.1,293.9 624.6,293.9 625.1,292.5 625.6,294.0 626.1,294.4 626.6,294.1 627.1,294.9 627.6,293.5 628.1,293.6 628.6,294.5 629.1,294.2 629.6,293.9 630.1,293.0 630.6,293.8 631.1,292.9 631.6,293.5 632.1,294.3 632.6,293.5 633.1,293.8 633.6,293.6 634.1,293.1 634.6,293.7 635.1,294.7 635.6,294.6 636.1,295.3 636.6,295.6 637.1,294.9 637.6,294.9 638.1,295.0 638.6,294.8 639.1,294.0 639.6,294.9 640.1,295.0 640.6,294.3 641.1,294.1 641.6,293.6 642.1,293.9 642.6,295.2 643.1,295.0 643.6,296.3 644.1,295.2 644.6,296.8 645.1,295.7 645.6,296.1 646.1,295.1 646.6,295.3 647.1,296.0 647.6,295.9 648.1,295.9 648.6,295.5 649.1,296.6 649.6,296.9 650.1,296.5 650.6,296.4 651.1,295.6 651.6,297.2 652.1,296.6 652.6,295.7 653.1,296.6 653.6,295.9 654.1,296.5 654.6,296.0 655.1,296.2 655.6,296.4 656.1,296.9 656.6,296.2 657.1,296.9 657.6,296.6 658.1,296.9 658.6,296.7 659.1,296.8 659.6,298.0 660.1,298.0 660.6,298.6 661.1,298.1 661.6,298.7 662.1,297.1 662.6,298.1 663.1,297.1 663.6,296.4 664.1,297.1 664.6,296.3 665.1,297.0 665.6,297.1 666.1,297.2 666.6,297.0 667.1,297.0 667.6,297.4 668.1,297.5 668.6,297.9 669.1,298.6 669.6,298.5 670.1,297.8 670.6,298.3 671.1,297.0 671.6,296.2 672.1,296.7 672.6,297.3 673.1,297.7 673.6,298.1 674.1,296.7 674.6,298.1 675.1,297.7 675.6,297.9 676.1,298.3 676.6,298.1 677.1,298.2 677.6,297.9 678.1,298.9 678.6,298.3 679.1,299.5 679.6,299.1 680.1,298.1 680.6,299.1 681.1,299.6 681.6,298.9 682.1,299.0 682.6,298.7 683.1,298.3 683.6,299.0 684.1,299.5 684.6,300.5 685.1,299.9 685.6,300.0 686.1,300.3 686.6,300.7 687.1,300.1 687.6,299.3 688.1,300.0 688.6,299.5 689.1,299.1 689.6,300.3 690.1,299.7 690.6,299.1 691.1,299.9 691.6,300.3 692.1,300.0 692.6,299.5 693.1,299.3 693.6,298.5 694.1,299.5 694.6,300.2 695.1,300.8 695.6,301.4 696.1,301.3 696.6,301.8 697.1,301.2 697.6,300.8 698.1,301.2 698.6,299.7 699.1,301.5 699.6,301.1 700.1,300.4 700.6,300.1 701.1,300.8 701.6,300.9 702.1,300.1 702.6,300.3 703.1,300.8 703.6,300.9 704.1,300.7 704.6,300.4 705.1,301.3 705.6,301.2 706.1,301.7 706.6,301.4 707.1,301.0 707.6,301.8 708.1,302.3 708.6,302.1 709.1,302.9 709.6,301.7 710.1,301.7 710.6,301.8 711.1,302.5 711.6,302.0 712.1,302.0 712.6,302.2 713.1,301.3 713.6,302.7 714.1,301.5 714.6,302.2 715.1,303.2 715.6,302.7 716.1,303.6 716.6,302.9 717.1,303.7 717.6,358.2 718.1,357.9 718.6,357.5 719.1,357.3 719.6,356.7 720.1,356.0 720.6,356.1 721.1,355.6 721.6,354.2 722.1,354.7 722.6,354.7 723.1,354.3 723.6,354.2 724.1,353.0 724.6,353.6 725.1,353.4 725.6,354.4 726.1,353.3 726.6,353.9 727.1,353.5 727.6,353.4 728.1,353.0 728.6,352.1 729.1,352.4 729.6,352.9 730.1,352.6 730.6,353.1 731.1,352.1 731.6,353.5 732.1,352.6 732.6,353.6 733.1,353.7 733.6,353.7 734.1,353.6 734.6,353.5 735.1,352.9 735.6,353.5 736.1,353.0 736.6,352.9 737.1,353.2 737.6,352.0 738.1,352.4 738.6,352.5 739.1,352.0 739.6,352.0 740.1,352.3 740.6,352.3 741.1,352.0 741.6,352.0 742.1,352.3 742.6,352.6 743.1,352.5 743.6,352.7 744.1,351.5 744.6,352.7 745.1,351.5 745.6,351.9 746.1,351.8 746.6,350.9 747.1,351.7 747.6,352.4 748.1,352.0 748.6,351.2 749.1,351.0 749.6,351.0 750.1,351.4 750.6,351.8 751.1,351.1 751.6,350.8 752.1,351.6 752.6,351.2 753.1,351.6 753.6,349.8 754.1,351.8 754.6,351.1 755.1,351.3 755.6,350.5 756.1,351.5 756.6,351.8 757.1,350.6 757.6,350.6 758.1,351.6 758.6,352.3 759.1,350.7 759.6,351.7 759.6,357.0 759.1,356.6 758.6,357.2 758.1,356.1 757.6,356.1 757.1,357.4 756.6,355.8 756.1,355.8 755.6,356.3 755.1,356.1 754.6,355.7 754.1,356.6 753.6,355.4 753.1,356.0 752.6,355.9 752.1,355.8 751.6,355.8 751.1,356.0 750.6,356.7 750.1,356.6 749.6,356.6 749.1,356.6 748.6,356.7 748.1,356.4 747.6,356.8 747.1,356.3 746.6,356.8 746.1,356.5 745.6,356.7 745.1,356.8 744.6,357.8 744.1,356.6 743.6,356.7 743.1,357.1 742.6,357.5 742.1,357.4 741.6,356.4 741.1,356.7 740.6,356.4 740.1,356.5 739.6,356.6 739.1,356.4 738.6,357.2 738.1,357.1 737.6,357.8 737.1,357.3 736.6,357.6 736.1,358.0 735.6,358.0 735.1,357.5 734.6,357.7 734.1,357.7 733.6,358.4 733.1,359.0 732.6,358.3 732.1,358.6 731.6,358.6 731.1,357.6 730.6,357.7 730.1,357.5 729.6,357.4 729.1,357.2 728.6,358.2 728.1,357.6 727.6,358.5 727.1,357.9 726.6,358.2 726.1,359.5 725.6,359.0 725.1,359.5 724.6,358.6 724.1,358.4 723.6,358.6 723.1,358.7 722.6,359.0 722.1,359.5 721.6,359.5 721.1,361.1 720.6,361.2 720.1,362.1 719.6,361.4 719.1,363.0 718.6,362.1 718.1,363.3 717.6,362.5 717.1,308.2 716.6,307.5 716.1,307.7 715.6,307.1 715.1,307.9 714.6,307.2 714.1,307.1 713.6,306.7 713.1,306.8 712.6,306.7 712.1,306.7 711.6,306.5 711.1,306.5 710.6,306.8 710.1,306.2 709.6,306.6 709.1,307.0 708.6,307.5 708.1,307.1 707.6,306.2 707.1,306.1 706.6,306.5 706.1,306.4 705.6,305.1 705.1,306.2 704.6,305.2 704.1,305.0 703.6,307.2 703.1,305.0 702.6,305.7 702.1,305.7 701.6,304.9 701.1,305.4 700.6,305.5 700.1,305.2 699.6,306.7 699.1,305.8 698.6,305.1 698.1,306.8 697.6,306.8 697.1,306.2 696.6,306.6 696.1,305.6 695.6,305.6 695.1,304.7 694.6,305.3 694.1,304.0 693.6,304.3 693.1,303.9 692.6,304.1 692.1,304.2 691.6,304.7 691.1,304.0 690.6,304.3 690.1,305.6 689.6,304.6 689.1,305.0 688.6,303.9 688.1,304.3 687.6,304.9 687.1,305.0 686.6,304.8 686.1,305.3 685.6,304.7 685.1,304.8 684.6,305.1 684.1,305.0 683.6,304.3 683.1,303.7 682.6,304.6 682.1,303.7 681.6,302.9 681.1,303.6 680.6,304.0 680.1,303.3 679.6,303.4 679.1,304.0 678.6,304.8 678.1,303.0 677.6,303.7 677.1,303.0 676.6,303.7 676.1,302.9 675.6,302.5 675.1,303.7 674.6,302.5 674.1,302.7 673.6,302.6 673.1,301.9 672.6,302.6 672.1,301.6 671.6,302.0 671.1,302.2 670.6,303.3 670.1,302.1 669.6,304.2 669.1,303.2 668.6,302.4 668.1,302.6 667.6,302.6 667.1,303.1 666.6,302.3 666.1,301.0 665.6,301.9 665.1,301.4 664.6,301.8 664.1,302.6 663.6,302.3 663.1,303.7 662.6,302.7 662.1,302.1 661.6,302.7 661.1,302.5 660.6,302.7 660.1,303.3 659.6,302.5 659.1,302.8 658.6,302.2 658.1,301.6 657.6,300.9 657.1,301.1 656.6,301.1 656.1,301.2 655.6,301.3 655.1,300.6 654.6,301.4 654.1,301.6 653.6,301.2 653.1,301.1 652.6,300.6 652.1,301.9 651.6,301.5 651.1,301.6 650.6,300.8 650.1,301.5 649.6,301.9 649.1,301.5 648.6,300.7 648.1,300.6 647.6,300.3 647.1,300.3 646.6,300.3 646.1,300.4 645.6,300.1 645.1,300.2 644.6,301.4 644.1,300.1 643.6,300.3 643.1,299.8 642.6,299.4 642.1,298.9 641.6,299.1 641.1,298.5 640.6,299.7 640.1,300.1 639.6,299.5 639.1,299.8 638.6,299.7 638.1,300.8 637.6,300.9 637.1,300.8 636.6,300.5 636.1,299.4 635.6,298.6 635.1,299.0 634.6,299.3 634.1,298.3 633.6,299.0 633.1,298.6 632.6,297.9 632.1,298.6 631.6,298.9 631.1,298.1 630.6,299.9 630.1,298.1 629.6,299.2 629.1,299.9 628.6,299.3 628.1,299.6 627.6,298.4 627.1,299.1 626.6,298.7 626.1,299.0 625.6,298.4 625.1,297.8 624.6,298.6 624.1,298.5 623.6,299.3 623.1,297.9 622.6,297.5 622.1,297.4 621.6,298.5 621.1,296.9 620.6,296.9 620.1,297.7 619.6,296.5 619.1,296.6 618.6,297.5 618.1,298.2 617.6,297.6 617.1,297.6 616.6,297.1 616.1,296.7 615.6,298.6 615.1,296.4 614.6,296.2 614.1,295.4 613.6,296.2 613.1,295.9 612.6,294.9 612.1,295.4 611.6,294.3 611.1,295.8 610.6,295.0 610.1,294.6 609.6,296.4 609.1,295.7 608.6,297.0 608.1,295.6 607.6,296.6 607.1,296.7 606.6,296.2 606.1,295.7 605.6,296.1 605.1,296.0 604.6,295.7 604.1,296.5 603.6,295.6 603.1,296.5 602.6,296.9 602.1,297.8 601.6,297.0 601.1,297.1 600.6,296.9 600.1,295.8 599.6,296.5 599.1,297.0 598.6,295.5 598.1,295.7 597.6,295.8 597.1,295.2 596.6,295.5 596.1,295.0 595.6,294.9 595.1,294.9 594.6,294.8 594.1,293.8 593.6,294.3 593.1,293.3 592.6,293.4 592.1,294.0 591.6,292.8 591.1,292.8 590.6,292.2 590.1,292.6 589.6,292.8 589.1,292.3 588.6,292.3 588.1,292.7 587.6,292.8 587.1,293.3 586.6,293.3 586.1,291.7 585.6,294.7 585.1,293.2 584.6,293.3 584.1,292.8 583.6,292.5 583.1,292.2 582.6,292.2 582.1,292.0 581.6,291.4 581.1,292.3 580.6,291.7 580.1,291.6 579.6,290.0 579.1,290.2 578.6,290.5 578.1,289.0 577.6,289.6 577.1,290.6 576.6,289.1 576.1,290.0 575.6,289.7 575.1,290.5 574.6,292.8 574.1,290.9 573.6,292.7 573.1,290.6 572.6,290.1 572.1,289.9 571.6,289.9 571.1,289.0 570.6,289.0 570.1,289.8 569.6,289.2 569.1,288.6 568.6,288.5 568.1,288.0 567.6,289.0 567.1,288.6 566.6,287.8 566.1,287.4 565.6,287.1 565.1,288.7 564.6,288.0 564.1,288.3 563.6,288.4 563.1,288.7 562.6,289.0 562.1,288.9 561.6,288.9 561.1,288.9 560.6,289.0 560.1,289.3 559.6,288.6 559.1,288.4 558.6,288.6 558.1,288.5 557.6,286.7 557.1,286.8 556.6,286.0 556.1,285.9 555.6,285.8 555.1,286.6 554.6,286.1 554.1,286.9 553.6,285.7 553.1,286.4 552.6,285.7 552.1,285.7 551.6,285.6 551.1,285.9 550.6,285.9 550.1,286.3 549.6,286.4 549.1,286.8 548.6,287.5 548.1,286.2 547.6,285.8 547.1,286.4 546.6,287.3 546.1,286.8 545.6,285.3 545.1,286.6 544.6,285.6 544.1,285.0 543.6,285.5 543.1,284.1 542.6,284.5 542.1,283.6 541.6,283.7 541.1,284.1 540.6,284.0 540.1,283.4 539.6,284.7 539.1,284.7 538.6,284.1 538.1,283.9 537.6,283.7 537.1,283.4 536.6,283.9 536.1,282.7 535.6,282.9 535.1,283.5 534.6,282.4 534.1,283.1 533.6,283.2 533.1,282.7 532.6,282.5 532.1,282.6 531.6,282.2 531.1,283.5 530.6,282.6 530.1,283.4 529.6,282.1 529.1,282.5 528.6,281.6 528.1,281.6 527.6,281.4 527.1,280.8 526.6,280.0 526.1,280.2 525.6,279.8 525.1,281.1 524.6,280.4 524.1,280.9 523.6,280.3 523.1,280.8 522.6,278.6 522.1,279.5 521.6,278.6 521.1,278.7 520.6,278.6 520.1,277.9 519.6,278.5 519.1,278.0 518.6,278.4 518.1,278.5 517.6,278.2 517.1,278.1 516.6,278.2 516.1,277.0 515.6,277.9 515.1,277.6 514.6,276.8 514.1,277.5 513.6,277.5 513.1,277.5 512.6,277.8 512.1,278.3 511.6,278.5 511.1,278.2 510.6,278.3 510.1,278.6 509.6,277.5 509.1,277.8 508.6,277.0 508.1,276.7 507.6,275.3 507.1,276.9 506.6,275.4 506.1,275.9 505.6,276.3 505.1,275.5 504.6,275.2 504.1,274.6 503.6,276.9 503.1,274.2 502.6,275.3 502.1,275.0 501.6,275.1 501.1,274.6 500.6,274.4 500.1,274.7 499.6,275.4 499.1,274.5 498.6,274.5 498.1,273.9 497.6,273.3 497.1,272.7 496.6,272.0 496.1,272.1 495.6,271.9 495.1,272.0 494.6,272.8 494.1,272.5 493.6,272.8 493.1,272.9 492.6,272.1 492.1,273.5 491.6,272.8 491.1,272.8 490.6,272.1 490.1,271.0 489.6,271.0 489.1,270.2 488.6,269.9 488.1,270.2 487.6,270.2 487.1,269.9 486.6,268.8 486.1,269.4 485.6,268.9 485.1,269.0 484.6,267.9 484.1,267.8 483.6,267.6 483.1,267.0 482.6,267.5 482.1,266.2 481.6,265.6 481.1,265.2 480.6,265.8 480.1,265.2 479.6,265.4 479.1,265.0 478.6,266.2 478.1,265.7 477.6,264.8 477.1,264.3 476.6,263.8 476.1,263.6 475.6,263.9 475.1,264.7 474.6,264.3 474.1,264.7 473.6,264.4 473.1,264.7 472.6,265.2 472.1,264.7 471.6,264.5 471.1,265.1 470.6,264.2 470.1,264.3 469.6,263.9 469.1,263.5 468.6,263.4 468.1,263.6 467.6,263.3 467.1,262.7 466.6,263.0 466.1,261.2 465.6,261.8 465.1,261.8 464.6,261.0 464.1,260.7 463.6,260.6 463.1,261.0 462.6,262.1 462.1,260.5 461.6,261.4 461.1,260.9 460.6,260.2 460.1,261.1 459.6,259.9 459.1,260.8 458.6,260.2 458.1,260.0 457.6,259.3 457.1,260.1 456.6,259.6 456.1,259.2 455.6,258.9 455.1,257.8 454.6,258.9 454.1,257.1 453.6,257.0 453.1,257.4 452.6,257.1 452.1,257.2 451.6,258.1 451.1,257.2 450.6,257.5 450.1,256.8 449.6,256.9 449.1,256.3 448.6,256.2 448.1,254.8 447.6,254.1 447.1,253.7 446.6,253.7 446.1,254.0 445.6,252.9 445.1,252.9 444.6,252.7 444.1,252.6 443.6,252.7 443.1,252.0 442.6,251.0 442.1,250.7 441.6,251.1 441.1,250.8 440.6,250.4 440.1,249.5 439.6,249.9 439.1,248.9 438.6,248.6 438.1,250.2 437.6,248.8 437.1,248.9 436.6,248.0 436.1,249.0 435.6,248.0 435.1,248.2 434.6,247.3 434.1,247.2 433.6,246.4 433.1,246.1 432.6,244.7 432.1,245.8 431.6,245.0 431.1,244.2 430.6,245.0 430.1,244.2 429.6,244.7 429.1,244.0 428.6,243.9 428.1,244.2 427.6,242.8 427.1,242.4 426.6,242.4 426.1,243.5 425.6,242.7 425.1,240.7 424.6,240.9 424.1,239.7 423.6,240.6 423.1,238.6 422.6,238.6 422.1,239.1 421.6,239.6 421.1,237.6 420.6,237.6 420.1,239.1 419.6,237.3 419.1,237.1 418.6,236.4 418.1,236.3 417.6,236.0 417.1,234.9 416.6,234.0 416.1,235.0 415.6,234.1 415.1,233.5 414.6,233.4 414.1,232.7 413.6,233.3 413.1,231.2 412.6,231.2 412.1,230.7 411.6,229.7 411.1,229.4 410.6,229.4 410.1,228.3 409.6,229.5 409.1,228.1 408.6,226.8 408.1,227.3 407.6,225.2 407.1,225.5 406.6,225.7 406.1,224.6 405.6,224.6 405.1,225.3 404.6,223.7 404.1,222.5 403.6,221.9 403.1,221.8 402.6,220.6 402.1,220.2 401.6,218.7 401.1,218.5 400.6,220.3 400.1,217.8 399.6,216.2 399.1,216.8 398.6,217.0 398.1,215.1 397.6,214.9 397.1,213.8 396.6,213.4 396.1,212.5 395.6,211.7 395.1,211.3 394.6,210.6 394.1,210.1 393.6,209.1 393.1,208.2 392.6,207.7 392.1,206.2 391.6,205.9 391.1,205.3 390.6,205.5 390.1,203.7 389.6,203.5 389.1,203.1 388.6,201.8 388.1,201.0 387.6,200.6 387.1,199.6 386.6,199.1 386.1,197.7 385.6,197.2 385.1,196.0 384.6,194.6 384.1,193.8 383.6,192.4 383.1,191.4 382.6,190.6 382.1,189.8 381.6,188.1 381.1,187.3 380.6,185.9 380.1,185.6 379.6,184.6 379.1,184.3 378.6,180.0 378.1,178.0 377.6,177.6 377.1,178.2 376.6,178.7 376.1,180.3 375.6,325.9 375.1,325.0 374.6,326.9 374.1,324.2 373.6,324.9 373.1,324.0 372.6,323.8 372.1,325.3 371.6,323.9 371.1,323.7 370.6,322.7 370.1,323.9 369.6,322.6 369.1,324.3 368.6,323.4 368.1,323.7 367.6,325.3 367.1,323.5 366.6,325.5 366.1,324.3 365.6,323.1 365.1,323.5 364.6,323.1 364.1,323.8 363.6,322.6 363.1,323.1 362.6,323.5 362.1,324.0 361.6,323.4 361.1,323.5 360.6,324.3 360.1,323.8 359.6,324.0 359.1,324.0 358.6,323.7 358.1,324.7 357.6,326.4 357.1,324.6 356.6,324.4 356.1,324.5 355.6,324.6 355.1,324.9 354.6,323.9 354.1,324.2 353.6,324.6 353.1,323.7 352.6,323.5 352.1,323.9 351.6,323.7 351.1,323.9 350.6,323.3 350.1,324.0 349.6,324.9 349.1,323.5 348.6,324.0 348.1,325.6 347.6,325.3 347.1,324.2 346.6,326.5 346.1,323.9 345.6,323.4 345.1,324.5 344.6,324.9 344.1,324.4 343.6,324.7 343.1,325.4 342.6,324.1 342.1,325.6 341.6,325.0 341.1,324.7 340.6,326.2 340.1,325.4 339.6,325.5 339.1,325.7 338.6,325.8 338.1,324.4 337.6,327.1 337.1,327.0 336.6,325.4 336.1,325.8 335.6,325.7 335.1,324.7 334.6,326.0 334.1,325.4 333.6,324.7 333.1,325.5 332.6,325.3 332.1,325.0 331.6,326.0 331.1,325.7 330.6,324.4 330.1,325.7 329.6,325.8 329.1,324.4 328.6,325.4 328.1,324.3 327.6,324.9 327.1,325.1 326.6,322.9 326.1,324.3 325.6,325.0 325.1,324.3 324.6,323.7 324.1,324.8 323.6,324.7 323.1,324.3 322.6,325.7 322.1,324.6 321.6,324.6 321.1,325.0 320.6,324.4 320.1,324.2 319.6,324.5 319.1,323.4 318.6,325.6 318.1,325.2 317.6,324.7 317.1,324.2 316.6,325.2 316.1,325.8 315.6,325.0 315.1,325.3 314.6,325.2 314.1,325.5 313.6,325.4 313.1,324.6 312.6,324.3 312.1,325.0 311.6,324.0 311.1,323.4 310.6,324.3 310.1,325.5 309.6,324.0 309.1,324.4 308.6,325.1 308.1,325.2 307.6,325.7 307.1,326.7 306.6,324.2 306.1,324.9 305.6,324.0 305.1,325.1 304.6,324.7 304.1,325.1 303.6,325.0 303.1,325.6 302.6,324.3 302.1,324.1 301.6,326.8 301.1,325.2 300.6,324.9 300.1,326.4 299.6,325.5 299.1,325.0 298.6,325.4 298.1,325.6 297.6,326.2 297.1,326.1 296.6,328.2 296.1,325.9 295.6,326.4 295.1,326.2 294.6,327.2 294.1,326.8 293.6,326.5 293.1,325.4 292.6,325.8 292.1,327.1 291.6,325.6 291.1,325.5 290.6,324.9 290.1,325.7 289.6,325.4 289.1,326.3 288.6,326.1 288.1,326.0 287.6,327.2 287.1,325.6 286.6,325.0 286.1,325.5 285.6,326.2 285.1,324.1 284.6,324.7 284.1,324.9 283.6,324.9 283.1,325.8 282.6,326.9 282.1,325.2 281.6,326.3 281.1,327.5 280.6,326.0 280.1,326.3 279.6,327.4 279.1,326.4 278.6,328.6 278.1,325.3 277.6,326.2 277.1,327.3 276.6,326.5 276.1,325.3 275.6,326.9 275.1,325.6 274.6,326.3 274.1,325.4 273.6,327.0 273.1,325.2 272.6,325.8 272.1,326.5 271.6,328.7 271.1,327.3 270.6,325.3 270.1,326.4 269.6,326.6 269.1,326.3 268.6,325.4 268.1,326.3 267.6,327.5 267.1,326.4 266.6,326.8 266.1,325.8 265.6,327.1 265.1,325.6 264.6,326.8 264.1,326.0 263.6,325.6 263.1,325.8 262.6,325.4 262.1,327.0 261.6,328.2 261.1,326.2 260.6,327.9 260.1,328.2 259.6,326.7 259.1,327.1 258.6,326.0 258.1,327.0 257.6,325.6 257.1,325.8 256.6,326.5 256.1,326.3 255.6,326.5 255.1,325.6 254.6,326.3 254.1,325.8 253.6,325.9 253.1,326.7 252.6,326.8 252.1,326.8 251.6,326.1 251.1,327.9 250.6,327.0 250.1,327.4 249.6,326.3 249.1,327.0 248.6,328.0 248.1,326.8 247.6,326.7 247.1,326.4 246.6,327.4 246.1,326.5 245.6,328.5 245.1,328.0 244.6,327.2 244.1,328.5 243.6,327.1 243.1,326.8 242.6,326.8 242.1,326.7 241.6,327.1 241.1,327.1 240.6,326.4 240.1,326.9 239.6,327.0 239.1,327.7 238.6,328.0 238.1,328.2 237.6,328.7 237.1,330.6 236.6,330.0 236.1,329.9 235.6,329.6 235.1,330.4 234.6,329.5 234.1,328.4 233.6,328.8 233.1,331.4 232.6,328.9 232.1,330.4 231.6,328.8 231.1,330.6 230.6,328.9 230.1,328.7 229.6,329.1 229.1,328.5 228.6,330.3 228.1,329.4 227.6,330.0 227.1,329.5 226.6,329.0 226.1,328.7 225.6,331.6 225.1,329.3 224.6,328.1 224.1,328.8 223.6,328.6 223.1,329.0 222.6,329.7 222.1,330.3 221.6,328.4 221.1,329.7 220.6,329.4 220.1,329.4 219.6,329.3 219.1,329.0 218.6,329.6 218.1,329.0 217.6,330.1 217.1,329.4 216.6,331.0 216.1,329.0 215.6,329.3 215.1,329.8 214.6,330.8 214.1,328.4 213.6,329.7 213.1,330.0 212.6,330.2 212.1,329.3 211.6,333.1 211.1,331.8 210.6,329.5 210.1,330.1 209.6,330.4 209.1,330.4 208.6,331.3 208.1,331.4 207.6,332.8 207.1,331.2 206.6,331.1 206.1,331.4 205.6,331.2 205.1,331.8 204.6,331.4 204.1,331.3 203.6,332.7 203.1,331.8 202.6,332.0 202.1,331.3 201.6,331.6 201.1,332.5 200.6,331.6 200.1,332.6 199.6,332.7 199.1,332.9 198.6,333.0 198.1,333.9 197.6,333.7 197.1,333.4 196.6,334.5 196.1,333.5 195.6,335.0 195.1,336.1 194.6,335.7 194.1,335.8 193.6,337.2 193.1,335.3 192.6,335.3 192.1,336.6 191.6,335.9 191.1,336.8 190.6,336.0 190.1,339.0 189.6,338.4 189.1,337.3 188.6,336.0 188.1,336.5 187.6,337.7 187.1,336.6 186.6,341.0 186.1,337.8 185.6,337.7 185.1,338.7 184.6,338.7 184.1,339.0 183.6,339.3 183.1,338.6 182.6,340.7 182.1,342.1 181.6,340.5 181.1,340.3 180.6,342.3 180.1,342.4 179.6,341.8 179.1,342.0 178.6,342.7 178.1,340.9 177.6,344.1 177.1,343.6 176.6,342.8 176.1,344.3 175.6,343.8 175.1,344.1 174.6,343.5 174.1,345.3 173.6,346.2 173.1,346.4 172.6,347.2 172.1,346.5 171.6,348.1 171.1,348.1 170.6,348.2 170.1,349.2 169.6,348.0 169.1,349.0 168.6,349.8 168.1,350.1 167.6,352.4 167.1,350.2 166.6,353.5 166.1,353.0 165.6,352.3 165.1,351.8 164.6,353.2 164.1,352.8 163.6,353.8 163.1,353.1 162.6,351.2 162.1,351.0 161.6,352.5 161.1,352.1 160.6,351.6 160.1,352.3 159.6,351.4 159.1,350.5 158.6,351.0 158.1,350.7 157.6,351.0 157.1,351.2 156.6,350.1 156.1,351.3 155.6,351.7 155.1,352.0 154.6,351.7 154.1,351.8 153.6,351.9 153.1,351.9 152.6,352.0 152.1,352.8 151.6,353.6 151.1,352.9 150.6,352.7 150.1,351.4 149.6,350.9 149.1,351.1 148.6,351.5 148.1,351.9 147.6,350.7 147.1,350.4 146.6,352.2 146.1,349.8 145.6,350.8 145.1,351.2 144.6,350.0 144.1,350.0 143.6,350.3 143.1,351.1 142.6,350.8 142.1,350.9 141.6,350.8 141.1,350.9 140.6,351.1 140.1,350.5 139.6,352.0 139.1,352.0 138.6,351.6 138.1,352.9 137.6,352.2 137.1,351.6 136.6,351.0 136.1,351.6 135.6,353.5 135.1,351.2 134.6,351.0 134.1,350.8 133.6,350.6 133.1,351.2 132.6,351.6 132.1,350.4 131.6,350.3 131.1,350.3 130.6,350.8 130.1,350.6 129.6,349.1 129.1,350.4 128.6,350.1 128.1,351.8 127.6,350.6 127.1,352.4 126.6,352.7 126.1,351.6 125.6,352.5 125.1,352.3 124.6,352.5 124.1,351.8 123.6,351.2 123.1,352.1 122.6,352.1 122.1,351.5 121.6,352.1 121.1,351.7 120.6,352.3 120.1,352.5 119.6,353.3 119.1,352.1 118.6,351.9 118.1,352.1 117.6,351.7 117.1,350.5 116.6,352.5 116.1,355.1 115.6,352.5 115.1,355.1 114.6,352.6 114.1,353.1 113.6,352.6 113.1,352.7 112.6,353.8 112.1,353.1 111.6,351.5 111.1,354.1 110.6,352.4 110.1,352.6 109.6,351.8 109.1,353.7 108.6,352.2 108.1,354.1 107.6,352.6 107.1,354.6 106.6,353.4 106.1,353.0 105.6,352.4 105.1,353.9 104.6,353.6 104.1,353.1 103.6,352.3 103.1,354.0 102.6,352.4 102.1,352.0 101.6,353.3 101.1,353.6 100.6,352.4 100.1,353.5 99.6,352.7 99.1,354.1 98.6,353.0 98.1,352.2 97.6,351.5 97.1,352.5 96.6,353.9 96.1,352.2 95.6,353.1 95.1,354.2 94.6,353.3 94.1,354.7 93.6,353.1 93.1,354.6 92.6,353.1 92.1,354.1 91.6,354.1 91.1,353.5 90.6,352.2 90.1,352.5 89.6,353.0 89.1,353.1 88.6,352.7 88.1,352.2 87.6,355.1 87.1,353.2 86.6,353.6 86.1,353.3 85.6,353.9 85.1,355.0 84.6,354.2 84.1,353.7 83.6,354.5 83.1,353.7 82.6,354.8 82.1,355.8 81.6,353.7 81.1,352.5 80.6,352.0 80.1,352.1 79.6,353.0 79.1,352.9 78.6,353.3 78.1,353.7 77.6,352.9 77.1,352.5 76.6,352.9 76.1,353.0 75.6,353.8 75.1,354.9 74.6,355.6 74.1,354.6 73.6,353.8"/><line x1="375.7" y1="320.7" x2="375.7" y2="173.6" stroke="#f4107e" stroke-width="1.1"/>
<rect x="539.4" y="46.2" width="154.9" height="81.9" fill="#fff" stroke="#4c4c66" stroke-width="1.7"/><text x="555.7" y="56.5" class="lg" fill="#2a2a52" textLength="100.3" lengthAdjust="spacingAndGlyphs">Displayed liquid periods:</text><text x="555.7" y="67.8" class="lg" fill="#3ccfb8" textLength="127.2" lengthAdjust="spacingAndGlyphs">Exp 2050.4.1 (C). [4]Reference</text><text x="555.7" y="79.4" class="lg" fill="#ac9a44" textLength="122.0" lengthAdjust="spacingAndGlyphs">Exp 2050.4.1 (C). [6]C [30nM]</text><text x="555.7" y="90.6" class="lg" fill="#e0308c" textLength="127.2" lengthAdjust="spacingAndGlyphs">Exp 2050.4.1 (C). [8]C [100nM]</text><text x="555.7" y="101.8" class="lg" fill="#5030d6" textLength="132.5" lengthAdjust="spacingAndGlyphs">Exp 2050.4.1 (C). [10]C [300nM]</text><text x="555.7" y="113.0" class="lg" fill="#e89848" textLength="134.9" lengthAdjust="spacingAndGlyphs">Exp 2050.4.1 (C). [12]C [1.00µM]</text><text x="555.7" y="124.2" class="lg" fill="#c8ca46" textLength="129.7" lengthAdjust="spacingAndGlyphs">Exp 2050.4.1 (C). [14]C [3.0µM]</text>
<text x="64.8" y="36.7" text-anchor="end" class="tk">700</text><text x="64.8" y="79.1" text-anchor="end" class="tk">600</text><text x="64.8" y="125.7" text-anchor="end" class="tk">500</text><text x="64.8" y="172.6" text-anchor="end" class="tk">400</text><text x="64.8" y="221.9" text-anchor="end" class="tk">300</text><text x="64.8" y="265.9" text-anchor="end" class="tk">200</text><text x="64.8" y="314.7" text-anchor="end" class="tk">100</text><text x="64.8" y="364.9" text-anchor="end" class="tk">0</text><text x="73.0" y="416.1" text-anchor="middle" class="tk">0</text><text x="160.7" y="416.1" text-anchor="middle" class="tk">1</text><text x="242.5" y="416.1" text-anchor="middle" class="tk">2</text><text x="328.7" y="416.1" text-anchor="middle" class="tk">3</text><text x="414.0" y="416.1" text-anchor="middle" class="tk">4</text><text x="501.8" y="416.1" text-anchor="middle" class="tk">5</text><text x="587.6" y="416.1" text-anchor="middle" class="tk">6</text><text x="674.1" y="416.1" text-anchor="middle" class="tk">7</text><text x="760.3" y="416.1" text-anchor="middle" class="tk">8</text>
<text class="ax" x="0" y="0" transform="translate(14.2,198.4) rotate(-90)" text-anchor="middle" style="font-size:18.0px" textLength="95.3" lengthAdjust="spacingAndGlyphs">Current[pA]</text>
<text class="ax" x="422.25" y="441.3" text-anchor="middle" style="font-size:18.5px" textLength="60.5" lengthAdjust="spacingAndGlyphs">Time[s]</text>
</svg>
</body></html>
